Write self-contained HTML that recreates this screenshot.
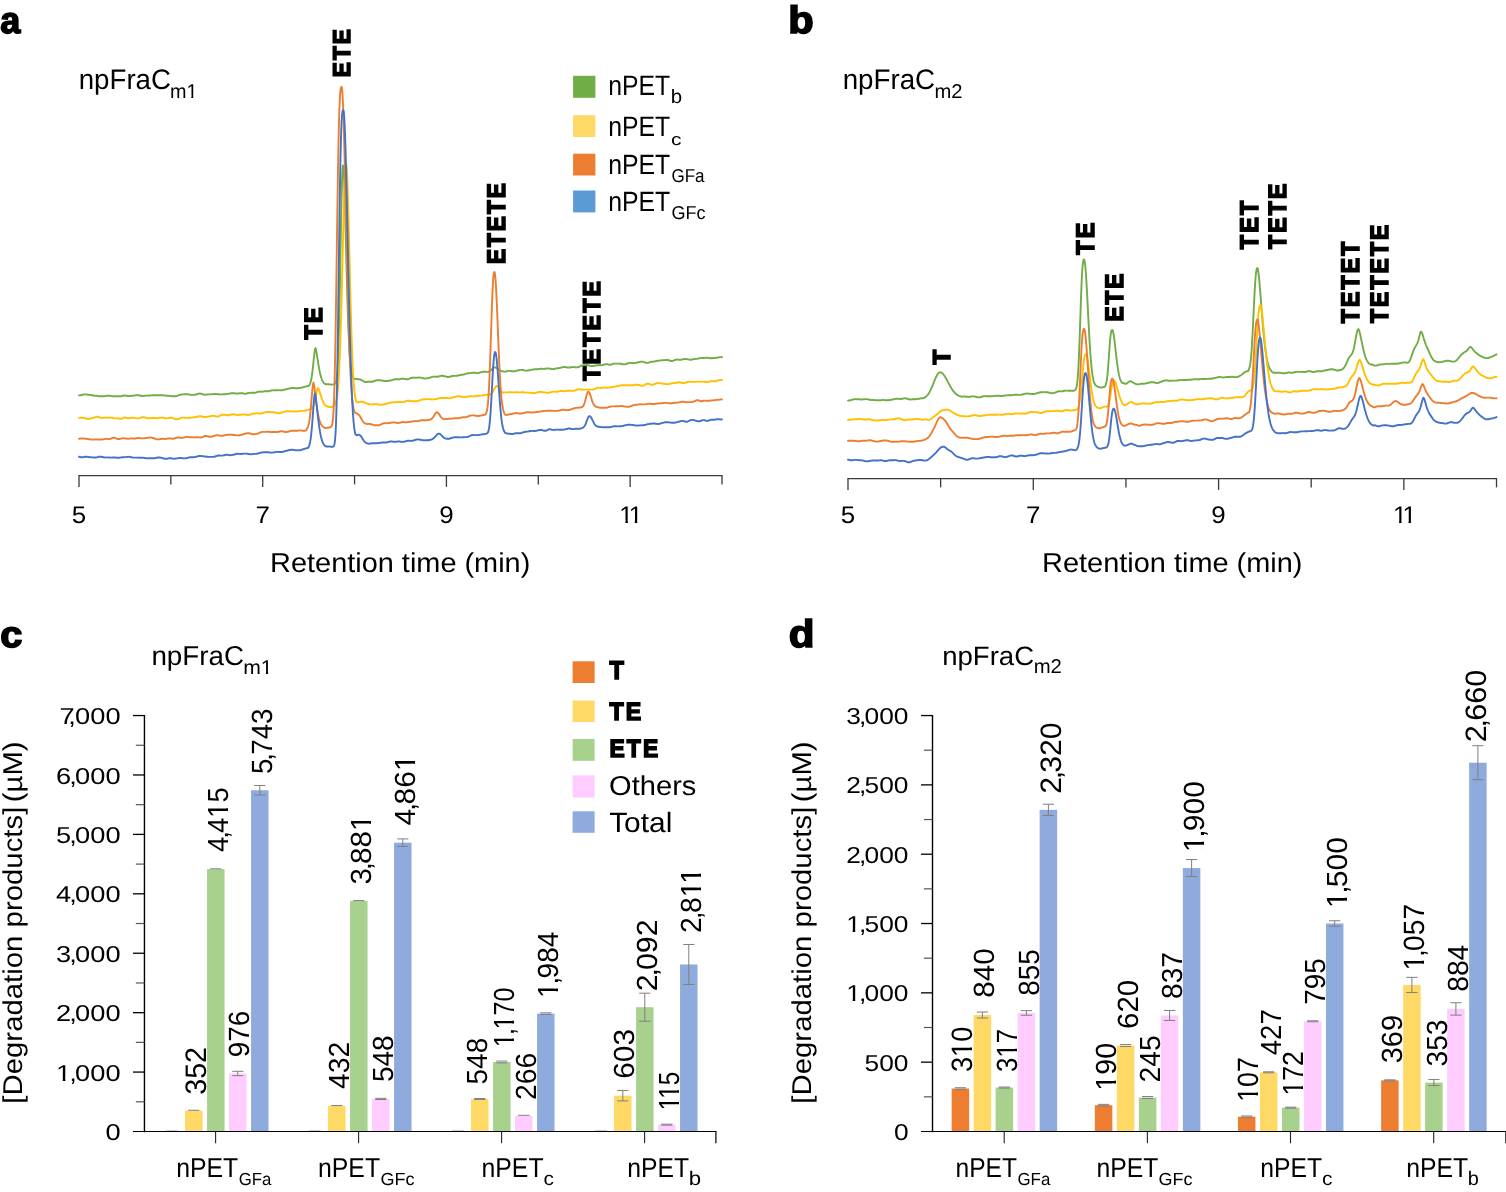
<!DOCTYPE html>
<html lang="en">
<head>
<meta charset="utf-8">
<title>Figure: nPET degradation products by npFraC nanopores</title>
<style>
html,body{margin:0;padding:0;background:#fff;}
body{width:1506px;height:1192px;overflow:hidden;}
svg{display:block;font-family:"Liberation Sans",Arial,Helvetica,sans-serif;}
svg text{white-space:pre;text-rendering:geometricPrecision;}
</style>
</head>
<body>
<svg width="1506" height="1192" viewBox="0 0 1506 1192">
<rect width="1506" height="1192" fill="#ffffff"/>
<text transform="translate(0.17 32.75) scale(1.0015 1.0325)" font-size="36.0" font-weight="bold" stroke="#000" stroke-width="1.5" fill="#000">a</text>
<text transform="translate(788.36 32.52) scale(1.1585 1.0587)" font-size="36.0" font-weight="bold" stroke="#000" stroke-width="1.5" fill="#000">b</text>
<text transform="translate(0.14 646.66) scale(1.1024 1.0231)" font-size="36.0" font-weight="bold" stroke="#000" stroke-width="1.5" fill="#000">c</text>
<text transform="translate(788.79 646.61) scale(1.1687 1.0694)" font-size="36.0" font-weight="bold" stroke="#000" stroke-width="1.5" fill="#000">d</text>
<text transform="translate(78.73 89.40) scale(0.9805 1)" font-size="28.22" fill="#000">npFraC</text>
<clipPath id="k1"><rect x="-3.00" y="-23.91" width="33.68" height="21.76"/><rect x="-0.40" y="-2.59" width="17.40" height="10.56"/><rect x="21.49" y="-2.59" width="1.99" height="3.19"/></clipPath>
<text transform="translate(169.96 97.60) scale(0.9941 1)" font-size="19.93" clip-path="url(#k1)" fill="#000">m1</text>
<text transform="translate(842.63 89.40) scale(0.9827 1)" font-size="28.22" fill="#000">npFraC</text>
<text transform="translate(934.43 97.60) scale(1.0155 1)" font-size="19.93" fill="#000">m2</text>
<text transform="translate(151.42 665.30) scale(1.0218 1)" font-size="27.20" fill="#000">npFraC</text>
<clipPath id="k2"><rect x="-3.00" y="-23.91" width="33.68" height="21.76"/><rect x="-0.40" y="-2.59" width="17.40" height="10.56"/><rect x="21.49" y="-2.59" width="1.99" height="3.19"/></clipPath>
<text transform="translate(243.17 673.50) scale(1.0622 1)" font-size="19.93" clip-path="url(#k2)" fill="#000">m1</text>
<text transform="translate(942.14 665.20) scale(1.0417 1)" font-size="26.47" fill="#000">npFraC</text>
<text transform="translate(1033.63 673.40) scale(1.0195 1)" font-size="19.93" fill="#000">m2</text>
<rect x="573.10" y="75.80" width="22.30" height="22.00" fill="#70AD47"/>
<text transform="translate(608.13 94.70) scale(0.8839 1)" font-size="28.07" fill="#000">nPET</text>
<text transform="translate(670.67 103.30) scale(1.0587 1)" font-size="19.31" fill="#000">b</text>
<rect x="573.10" y="115.20" width="22.30" height="21.80" fill="#FFD966"/>
<text transform="translate(608.13 136.20) scale(0.8839 1)" font-size="28.07" fill="#000">nPET</text>
<text transform="translate(670.91 144.80) scale(1.2500 1)" font-size="16.74" fill="#000">c</text>
<rect x="573.10" y="153.70" width="22.30" height="21.80" fill="#ED7D31"/>
<text transform="translate(608.13 173.60) scale(0.8885 1)" font-size="27.93" fill="#000">nPET</text>
<text transform="translate(671.45 181.60) scale(0.9139 1)" font-size="18.62" fill="#000">GFa</text>
<rect x="573.10" y="190.50" width="22.30" height="21.90" fill="#5B9BD5"/>
<text transform="translate(608.13 210.60) scale(0.8885 1)" font-size="27.93" fill="#000">nPET</text>
<text transform="translate(671.40 218.60) scale(0.9704 1)" font-size="18.62" fill="#000">GFc</text>
<rect x="572.60" y="661.30" width="22.00" height="21.70" fill="#ED7D31"/>
<rect x="572.60" y="700.50" width="22.00" height="21.50" fill="#FFD966"/>
<rect x="572.60" y="739.00" width="22.00" height="21.80" fill="#A9D18E"/>
<rect x="572.60" y="775.30" width="22.00" height="22.20" fill="#FFCCFF"/>
<rect x="572.60" y="811.30" width="22.00" height="21.50" fill="#8FAADC"/>
<text transform="translate(609.44 678.50) scale(0.9148 1)" font-size="25.75" font-weight="bold" stroke="#000" stroke-width="1.6" stroke-linejoin="miter" letter-spacing="2.3" fill="#000">T</text>
<text transform="translate(609.46 720.20) scale(0.9311 1)" font-size="24.87" font-weight="bold" stroke="#000" stroke-width="1.6" stroke-linejoin="miter" letter-spacing="2.3" fill="#000">TE</text>
<text transform="translate(609.49 757.00) scale(0.9143 1)" font-size="25.02" font-weight="bold" stroke="#000" stroke-width="1.6" stroke-linejoin="miter" letter-spacing="2.3" fill="#000">ETE</text>
<text transform="translate(609.12 794.80) scale(1.0629 1)" font-size="27.35" fill="#000">Others</text>
<text transform="translate(609.13 831.50) scale(1.0711 1)" font-size="27.93" fill="#000">Total</text>
<line x1="78.50" y1="475.60" x2="722.50" y2="475.60" stroke="#3a3a3a" stroke-width="1.2"/>
<line x1="79.00" y1="475.60" x2="79.00" y2="486.90" stroke="#3a3a3a" stroke-width="1.3"/>
<line x1="170.86" y1="475.60" x2="170.86" y2="484.40" stroke="#3a3a3a" stroke-width="1.3"/>
<line x1="262.71" y1="475.60" x2="262.71" y2="486.90" stroke="#3a3a3a" stroke-width="1.3"/>
<line x1="354.57" y1="475.60" x2="354.57" y2="484.40" stroke="#3a3a3a" stroke-width="1.3"/>
<line x1="446.43" y1="475.60" x2="446.43" y2="486.90" stroke="#3a3a3a" stroke-width="1.3"/>
<line x1="538.29" y1="475.60" x2="538.29" y2="484.40" stroke="#3a3a3a" stroke-width="1.3"/>
<line x1="630.14" y1="475.60" x2="630.14" y2="486.90" stroke="#3a3a3a" stroke-width="1.3"/>
<line x1="722.00" y1="475.60" x2="722.00" y2="484.40" stroke="#3a3a3a" stroke-width="1.3"/>
<text transform="translate(71.81 523.00) scale(1.0800 1)" font-size="24.00" fill="#000">5</text>
<text transform="translate(255.49 523.00) scale(1.0800 1)" font-size="24.00" fill="#000">7</text>
<text transform="translate(439.20 523.00) scale(1.0800 1)" font-size="24.00" fill="#000">9</text>
<clipPath id="k3"><rect x="-3.00" y="-28.80" width="25.91" height="26.21"/><rect x="5.89" y="-3.12" width="2.40" height="3.84"/><rect x="14.96" y="-3.12" width="2.40" height="3.84"/></clipPath>
<text transform="translate(619.28 523.00) scale(1.0355 1)" font-size="24.00" letter-spacing="-2.5" clip-path="url(#k3)" fill="#000">11</text>
<text transform="translate(270.12 571.80) scale(1.0569 1)" font-size="27.35" fill="#000">Retention time (min)</text>
<line x1="847.50" y1="478.60" x2="1497.00" y2="478.60" stroke="#3a3a3a" stroke-width="1.2"/>
<line x1="848.00" y1="478.60" x2="848.00" y2="489.90" stroke="#3a3a3a" stroke-width="1.3"/>
<line x1="940.64" y1="478.60" x2="940.64" y2="487.40" stroke="#3a3a3a" stroke-width="1.3"/>
<line x1="1033.29" y1="478.60" x2="1033.29" y2="489.90" stroke="#3a3a3a" stroke-width="1.3"/>
<line x1="1125.93" y1="478.60" x2="1125.93" y2="487.40" stroke="#3a3a3a" stroke-width="1.3"/>
<line x1="1218.57" y1="478.60" x2="1218.57" y2="489.90" stroke="#3a3a3a" stroke-width="1.3"/>
<line x1="1311.21" y1="478.60" x2="1311.21" y2="487.40" stroke="#3a3a3a" stroke-width="1.3"/>
<line x1="1403.86" y1="478.60" x2="1403.86" y2="489.90" stroke="#3a3a3a" stroke-width="1.3"/>
<line x1="1496.50" y1="478.60" x2="1496.50" y2="487.40" stroke="#3a3a3a" stroke-width="1.3"/>
<text transform="translate(840.81 523.00) scale(1.0800 1)" font-size="24.00" fill="#000">5</text>
<text transform="translate(1026.06 523.00) scale(1.0800 1)" font-size="24.00" fill="#000">7</text>
<text transform="translate(1211.35 523.00) scale(1.0800 1)" font-size="24.00" fill="#000">9</text>
<clipPath id="k4"><rect x="-3.00" y="-28.80" width="25.91" height="26.21"/><rect x="5.89" y="-3.12" width="2.40" height="3.84"/><rect x="14.96" y="-3.12" width="2.40" height="3.84"/></clipPath>
<text transform="translate(1392.99 523.00) scale(1.0355 1)" font-size="24.00" letter-spacing="-2.5" clip-path="url(#k4)" fill="#000">11</text>
<text transform="translate(1042.11 571.80) scale(1.0577 1)" font-size="27.35" fill="#000">Retention time (min)</text>
<text transform="translate(322.20 339.54) rotate(-90) scale(0.9407 1)" font-size="25.02" font-weight="bold" stroke="#000" stroke-width="1.6" stroke-linejoin="miter" letter-spacing="2.3" fill="#000">TE</text>
<text transform="translate(350.20 77.28) rotate(-90) scale(0.9285 1)" font-size="24.29" font-weight="bold" stroke="#000" stroke-width="1.6" stroke-linejoin="miter" letter-spacing="2.3" fill="#000">ETE</text>
<text transform="translate(505.20 264.12) rotate(-90) scale(0.8880 1)" font-size="25.45" font-weight="bold" stroke="#000" stroke-width="1.6" stroke-linejoin="miter" letter-spacing="2.3" fill="#000">ETETE</text>
<text transform="translate(600.40 380.83) rotate(-90) scale(0.9554 1)" font-size="24.29" font-weight="bold" stroke="#000" stroke-width="1.6" stroke-linejoin="miter" letter-spacing="2.3" fill="#000">TETETE</text>
<text transform="translate(950.00 364.51) rotate(-90) scale(0.9839 1)" font-size="24.44" font-weight="bold" stroke="#000" stroke-width="1.6" stroke-linejoin="miter" letter-spacing="2.3" fill="#000">T</text>
<text transform="translate(1093.90 254.76) rotate(-90) scale(0.9207 1)" font-size="25.45" font-weight="bold" stroke="#000" stroke-width="1.6" stroke-linejoin="miter" letter-spacing="2.3" fill="#000">TE</text>
<text transform="translate(1123.00 321.61) rotate(-90) scale(0.8917 1)" font-size="25.31" font-weight="bold" stroke="#000" stroke-width="1.6" stroke-linejoin="miter" letter-spacing="2.3" fill="#000">ETE</text>
<text transform="translate(1257.70 249.26) rotate(-90) scale(0.9158 1)" font-size="25.60" font-weight="bold" stroke="#000" stroke-width="1.6" stroke-linejoin="miter" letter-spacing="2.3" fill="#000">TET</text>
<text transform="translate(1286.00 248.95) rotate(-90) scale(0.9211 1)" font-size="25.02" font-weight="bold" stroke="#000" stroke-width="1.6" stroke-linejoin="miter" letter-spacing="2.3" fill="#000">TETE</text>
<text transform="translate(1359.20 323.16) rotate(-90) scale(0.9076 1)" font-size="25.45" font-weight="bold" stroke="#000" stroke-width="1.6" stroke-linejoin="miter" letter-spacing="2.3" fill="#000">TETET</text>
<text transform="translate(1388.00 322.96) rotate(-90) scale(0.9097 1)" font-size="25.16" font-weight="bold" stroke="#000" stroke-width="1.6" stroke-linejoin="miter" letter-spacing="2.3" fill="#000">TETETE</text>
<path d="M79.0,395.4 79.5,395.4 80.0,395.4 80.5,395.3 81.0,395.2 81.5,395.1 82.0,394.9 82.5,394.8 83.0,394.6 83.5,394.5 84.0,394.4 84.5,394.4 85.0,394.4 85.5,394.4 86.0,394.4 86.5,394.5 87.0,394.5 87.5,394.6 88.0,394.7 88.5,394.7 89.0,394.8 89.5,394.9 90.0,394.9 90.5,395.0 91.0,395.1 91.5,395.2 92.0,395.3 92.5,395.4 93.0,395.5 93.5,395.5 94.0,395.6 94.5,395.7 95.0,395.7 95.5,395.7 96.0,395.8 96.5,395.8 97.0,395.9 97.5,396.0 98.0,396.0 98.5,396.1 99.0,396.2 99.5,396.2 100.0,396.3 100.5,396.3 101.0,396.3 101.5,396.3 102.0,396.3 102.5,396.3 103.0,396.3 103.5,396.2 104.0,396.2 104.5,396.1 105.0,396.1 105.5,396.0 106.0,395.9 106.5,395.9 107.0,395.8 107.5,395.8 108.0,395.8 108.5,395.7 109.0,395.8 109.5,395.8 110.0,395.8 110.5,395.9 111.0,395.9 111.5,396.0 112.0,396.1 112.5,396.2 113.0,396.2 113.5,396.3 114.0,396.3 114.5,396.2 115.0,396.2 115.5,396.2 116.0,396.2 116.5,396.1 117.0,396.1 117.5,396.2 118.0,396.2 118.5,396.3 119.0,396.3 119.5,396.4 120.0,396.4 120.5,396.3 121.0,396.3 121.5,396.1 122.0,396.0 122.5,395.9 123.0,395.7 123.5,395.6 124.0,395.5 124.5,395.5 125.0,395.5 125.5,395.6 126.0,395.7 126.5,395.8 127.0,395.9 127.5,396.0 128.0,396.0 128.5,396.1 129.0,396.1 129.5,396.0 130.0,396.0 130.5,396.0 131.0,395.9 131.5,395.9 132.0,395.8 132.5,395.8 133.0,395.7 133.5,395.7 134.0,395.6 134.5,395.5 135.0,395.4 135.5,395.4 136.0,395.2 136.5,395.2 137.0,395.1 137.5,395.1 138.0,395.2 138.5,395.2 139.0,395.3 139.5,395.5 140.0,395.6 140.5,395.7 141.0,395.8 141.5,395.9 142.0,396.0 142.5,396.0 143.0,395.9 143.5,395.9 144.0,395.8 144.5,395.7 145.0,395.7 145.5,395.6 146.0,395.6 146.5,395.6 147.0,395.5 147.5,395.6 148.0,395.6 148.5,395.6 149.0,395.6 149.5,395.5 150.0,395.5 150.5,395.5 151.0,395.4 151.5,395.4 152.0,395.4 152.5,395.3 153.0,395.3 153.5,395.3 154.0,395.3 154.5,395.3 155.0,395.4 155.5,395.4 156.0,395.3 156.5,395.3 157.0,395.3 157.5,395.3 158.0,395.3 158.5,395.2 159.0,395.2 159.5,395.2 160.0,395.2 160.5,395.2 161.0,395.3 161.5,395.3 162.0,395.3 162.5,395.3 163.0,395.3 163.5,395.4 164.0,395.4 164.5,395.5 165.0,395.5 165.5,395.6 166.0,395.6 166.5,395.7 167.0,395.8 167.5,395.8 168.0,395.8 168.5,395.8 169.0,395.9 169.5,395.9 170.0,395.9 170.5,396.0 171.0,396.0 171.5,396.1 172.0,396.1 172.5,396.2 173.0,396.2 173.5,396.3 174.0,396.3 174.5,396.3 175.0,396.2 175.5,396.2 176.0,396.1 176.5,396.1 177.0,395.9 177.5,395.7 178.0,395.5 178.5,395.4 179.0,395.2 179.5,395.0 180.0,394.9 180.5,394.7 181.0,394.6 181.5,394.5 182.0,394.4 182.5,394.4 183.0,394.4 183.5,394.4 184.0,394.3 184.5,394.3 185.0,394.3 185.5,394.3 186.0,394.3 186.5,394.3 187.0,394.3 187.5,394.3 188.0,394.4 188.5,394.4 189.0,394.5 189.5,394.6 190.0,394.7 190.5,394.8 191.0,394.8 191.5,394.9 192.0,394.9 192.5,394.9 193.0,394.9 193.5,394.9 194.0,394.8 194.5,394.8 195.0,394.7 195.5,394.6 196.0,394.5 196.5,394.3 197.0,394.2 197.5,394.0 198.0,393.9 198.5,393.7 199.0,393.6 199.5,393.6 200.0,393.5 200.5,393.6 201.0,393.7 201.5,393.9 202.0,394.1 202.5,394.2 203.0,394.4 203.5,394.5 204.0,394.6 204.5,394.7 205.0,394.7 205.5,394.6 206.0,394.6 206.5,394.5 207.0,394.5 207.5,394.4 208.0,394.4 208.5,394.4 209.0,394.4 209.5,394.3 210.0,394.4 210.5,394.4 211.0,394.4 211.5,394.4 212.0,394.3 212.5,394.2 213.0,394.1 213.5,394.1 214.0,394.0 214.5,394.0 215.0,394.0 215.5,394.0 216.0,394.0 216.5,394.1 217.0,394.2 217.5,394.2 218.0,394.3 218.5,394.3 219.0,394.3 219.5,394.4 220.0,394.4 220.5,394.4 221.0,394.4 221.5,394.4 222.0,394.4 222.5,394.4 223.0,394.3 223.5,394.3 224.0,394.3 224.5,394.3 225.0,394.2 225.5,394.2 226.0,394.1 226.5,394.1 227.0,394.0 227.5,393.9 228.0,393.9 228.5,393.8 229.0,393.7 229.5,393.6 230.0,393.5 230.5,393.4 231.0,393.3 231.5,393.3 232.0,393.2 232.5,393.2 233.0,393.2 233.5,393.3 234.0,393.3 234.5,393.3 235.0,393.4 235.5,393.5 236.0,393.5 236.5,393.5 237.0,393.5 237.5,393.6 238.0,393.5 238.5,393.5 239.0,393.4 239.5,393.3 240.0,393.3 240.5,393.2 241.0,393.2 241.5,393.2 242.0,393.2 242.5,393.3 243.0,393.4 243.5,393.5 244.0,393.6 244.5,393.7 245.0,393.7 245.5,393.7 246.0,393.6 246.5,393.5 247.0,393.4 247.5,393.3 248.0,393.2 248.5,393.1 249.0,393.0 249.5,392.9 250.0,392.9 250.5,392.8 251.0,392.8 251.5,392.8 252.0,392.8 252.5,392.9 253.0,392.8 253.5,392.8 254.0,392.8 254.5,392.8 255.0,392.7 255.5,392.6 256.0,392.5 256.5,392.3 257.0,392.1 257.5,391.9 258.0,391.8 258.5,391.7 259.0,391.7 259.5,391.6 260.0,391.6 260.5,391.6 261.0,391.7 261.5,391.7 262.0,391.7 262.5,391.6 263.0,391.6 263.5,391.5 264.0,391.4 264.5,391.3 265.0,391.3 265.5,391.3 266.0,391.3 266.5,391.3 267.0,391.3 267.5,391.3 268.0,391.3 268.5,391.2 269.0,391.1 269.5,390.9 270.0,390.8 270.5,390.6 271.0,390.5 271.5,390.5 272.0,390.4 272.5,390.4 273.0,390.4 273.5,390.3 274.0,390.3 274.5,390.3 275.0,390.3 275.5,390.3 276.0,390.3 276.5,390.2 277.0,390.2 277.5,390.2 278.0,390.1 278.5,390.1 279.0,390.2 279.5,390.2 280.0,390.2 280.5,390.2 281.0,390.2 281.5,390.2 282.0,390.2 282.5,390.2 283.0,390.0 283.5,389.9 284.0,389.8 284.5,389.7 285.0,389.5 285.5,389.4 286.0,389.3 286.5,389.2 287.0,389.1 287.5,388.9 288.0,388.8 288.5,388.7 289.0,388.6 289.5,388.5 290.0,388.4 290.5,388.3 291.0,388.1 291.5,388.1 292.0,388.0 292.5,388.0 293.0,388.0 293.5,388.0 294.0,388.0 294.5,388.1 295.0,388.1 295.5,388.2 296.0,388.2 296.5,388.2 297.0,388.2 297.5,388.2 298.0,388.2 298.5,388.1 299.0,388.1 299.5,388.0 300.0,388.0 300.5,387.8 301.0,387.8 301.5,387.6 302.0,387.5 302.5,387.4 303.0,387.3 303.5,387.2 304.0,387.0 304.5,386.9 305.0,386.7 305.5,386.6 306.0,386.5 306.5,386.4 307.0,386.2 307.5,386.0 308.0,385.8 308.5,386.2 309.0,385.7 309.5,385.0 310.0,383.9 310.5,382.5 311.0,380.5 311.5,378.0 312.0,374.8 312.5,370.9 313.0,366.5 313.5,361.7 314.0,356.9 314.5,352.5 315.0,349.2 315.5,348.1 316.0,349.8 316.5,352.5 317.0,355.5 317.5,358.7 318.0,361.9 318.5,365.0 319.0,367.9 319.5,370.6 320.0,373.0 320.5,375.1 321.0,376.9 321.5,378.5 322.0,379.8 322.5,380.9 323.0,381.8 323.5,382.6 324.0,383.1 324.5,383.6 325.0,384.0 325.5,384.2 326.0,384.4 326.5,384.1 327.0,384.2 327.5,384.3 328.0,384.3 328.5,384.3 329.0,384.3 329.5,384.4 330.0,384.4 330.5,384.5 331.0,384.5 331.5,384.6 332.0,384.6 332.5,384.6 333.0,384.6 333.5,384.4 334.0,384.3 334.5,384.0 335.0,383.6 335.5,382.9 336.0,381.6 336.5,379.4 337.0,375.9 337.5,369.8 338.0,360.3 338.5,346.8 339.0,328.8 339.5,306.2 340.0,280.1 340.5,252.1 341.0,224.6 341.5,200.3 342.0,181.4 342.5,169.7 343.0,165.4 343.5,168.1 344.0,177.3 344.5,191.0 345.0,208.0 345.5,226.9 346.0,246.6 346.5,266.2 347.0,284.9 347.5,302.1 348.0,317.5 348.5,330.8 349.0,342.1 349.5,351.4 350.0,358.9 350.5,364.8 351.0,369.3 351.5,372.6 352.0,375.0 352.5,376.6 353.0,377.7 353.5,378.3 354.0,378.7 354.5,379.0 355.0,379.0 355.5,379.1 356.0,379.0 356.5,379.0 357.0,379.1 357.5,379.1 358.0,379.1 358.5,379.2 359.0,379.3 359.5,379.4 360.0,379.5 360.5,379.7 361.0,379.9 361.5,380.1 362.0,380.5 362.5,380.7 363.0,381.0 363.5,381.3 364.0,381.5 364.5,381.8 365.0,381.9 365.5,382.0 366.0,382.1 366.5,382.0 367.0,382.0 367.5,381.9 368.0,381.8 368.5,381.8 369.0,381.8 369.5,381.8 370.0,381.8 370.5,381.8 371.0,381.8 371.5,381.8 372.0,381.7 372.5,381.7 373.0,381.5 373.5,381.4 374.0,381.2 374.5,381.0 375.0,380.8 375.5,380.7 376.0,380.5 376.5,380.4 377.0,380.3 377.5,380.2 378.0,380.2 378.5,380.1 379.0,380.2 379.5,380.2 380.0,380.2 380.5,380.3 381.0,380.4 381.5,380.5 382.0,380.5 382.5,380.6 383.0,380.7 383.5,380.8 384.0,380.9 384.5,381.0 385.0,381.0 385.5,381.1 386.0,381.0 386.5,381.0 387.0,381.0 387.5,381.0 388.0,380.9 388.5,380.8 389.0,380.7 389.5,380.6 390.0,380.6 390.5,380.5 391.0,380.3 391.5,380.2 392.0,380.1 392.5,379.9 393.0,379.7 393.5,379.6 394.0,379.5 394.5,379.3 395.0,379.3 395.5,379.2 396.0,379.2 396.5,379.2 397.0,379.2 397.5,379.3 398.0,379.3 398.5,379.2 399.0,379.2 399.5,379.2 400.0,379.1 400.5,379.0 401.0,378.9 401.5,378.8 402.0,378.7 402.5,378.7 403.0,378.7 403.5,378.7 404.0,378.8 404.5,378.9 405.0,379.0 405.5,379.1 406.0,379.2 406.5,379.3 407.0,379.3 407.5,379.3 408.0,379.2 408.5,379.1 409.0,378.9 409.5,378.6 410.0,378.4 410.5,378.2 411.0,378.0 411.5,377.8 412.0,377.7 412.5,377.6 413.0,377.6 413.5,377.6 414.0,377.7 414.5,377.7 415.0,377.8 415.5,377.8 416.0,377.8 416.5,377.8 417.0,377.7 417.5,377.6 418.0,377.6 418.5,377.6 419.0,377.5 419.5,377.5 420.0,377.6 420.5,377.6 421.0,377.7 421.5,377.8 422.0,378.0 422.5,378.1 423.0,378.2 423.5,378.3 424.0,378.4 424.5,378.4 425.0,378.5 425.5,378.5 426.0,378.4 426.5,378.4 427.0,378.3 427.5,378.3 428.0,378.2 428.5,378.1 429.0,377.9 429.5,377.8 430.0,377.6 430.5,377.5 431.0,377.3 431.5,377.1 432.0,376.9 432.5,376.8 433.0,376.7 433.5,376.6 434.0,376.6 434.5,376.6 435.0,376.6 435.5,376.7 436.0,376.7 436.5,376.7 437.0,376.8 437.5,376.7 438.0,376.7 438.5,376.5 439.0,376.4 439.5,376.2 440.0,376.1 440.5,376.0 441.0,375.9 441.5,375.8 442.0,375.8 442.5,375.8 443.0,375.9 443.5,376.0 444.0,376.1 444.5,376.2 445.0,376.3 445.5,376.4 446.0,376.6 446.5,376.8 447.0,376.9 447.5,377.0 448.0,377.0 448.5,377.0 449.0,376.9 449.5,376.8 450.0,376.7 450.5,376.5 451.0,376.3 451.5,376.2 452.0,376.1 452.5,376.0 453.0,376.0 453.5,376.0 454.0,375.9 454.5,375.9 455.0,375.9 455.5,375.9 456.0,375.8 456.5,375.8 457.0,375.8 457.5,375.7 458.0,375.6 458.5,375.4 459.0,375.3 459.5,375.2 460.0,375.1 460.5,375.0 461.0,374.9 461.5,374.8 462.0,374.7 462.5,374.7 463.0,374.6 463.5,374.5 464.0,374.4 464.5,374.3 465.0,374.1 465.5,373.9 466.0,373.8 466.5,373.6 467.0,373.5 467.5,373.4 468.0,373.3 468.5,373.3 469.0,373.3 469.5,373.2 470.0,373.2 470.5,373.1 471.0,373.0 471.5,372.9 472.0,372.9 472.5,372.8 473.0,372.7 473.5,372.7 474.0,372.7 474.5,372.8 475.0,372.8 475.5,372.9 476.0,373.0 476.5,373.1 477.0,373.1 477.5,373.1 478.0,373.0 478.5,373.0 479.0,372.9 479.5,372.7 480.0,372.5 480.5,372.4 481.0,372.2 481.5,372.1 482.0,372.0 482.5,371.9 483.0,371.8 483.5,371.7 484.0,371.7 484.5,371.7 485.0,371.7 485.5,371.8 486.0,371.8 486.5,371.9 487.0,371.9 487.5,371.9 488.0,371.9 488.5,371.8 489.0,371.6 489.5,371.4 490.0,371.1 490.5,370.6 491.0,370.2 491.5,369.7 492.0,369.2 492.5,368.7 493.0,368.2 493.5,367.8 494.0,367.6 494.5,367.4 495.0,367.4 495.5,367.5 496.0,367.7 496.5,368.0 497.0,368.3 497.5,368.7 498.0,369.1 498.5,369.5 499.0,369.9 499.5,370.2 500.0,370.4 500.5,370.6 501.0,370.8 501.5,371.0 502.0,371.2 502.5,371.3 503.0,371.4 503.5,371.5 504.0,371.6 504.5,371.6 505.0,371.6 505.5,371.6 506.0,371.5 506.5,371.4 507.0,371.3 507.5,371.1 508.0,371.0 508.5,370.9 509.0,370.9 509.5,370.9 510.0,370.9 510.5,371.0 511.0,371.1 511.5,371.2 512.0,371.3 512.5,371.3 513.0,371.4 513.5,371.4 514.0,371.3 514.5,371.3 515.0,371.2 515.5,371.1 516.0,370.9 516.5,370.8 517.0,370.7 517.5,370.5 518.0,370.4 518.5,370.3 519.0,370.2 519.5,370.1 520.0,370.0 520.5,369.9 521.0,369.9 521.5,369.9 522.0,369.9 522.5,370.0 523.0,370.0 523.5,370.2 524.0,370.3 524.5,370.4 525.0,370.5 525.5,370.6 526.0,370.6 526.5,370.7 527.0,370.6 527.5,370.5 528.0,370.5 528.5,370.4 529.0,370.3 529.5,370.2 530.0,370.1 530.5,369.9 531.0,369.9 531.5,369.8 532.0,369.7 532.5,369.6 533.0,369.5 533.5,369.4 534.0,369.4 534.5,369.3 535.0,369.3 535.5,369.3 536.0,369.3 536.5,369.2 537.0,369.2 537.5,369.2 538.0,369.1 538.5,369.0 539.0,369.0 539.5,368.9 540.0,368.9 540.5,368.8 541.0,368.8 541.5,368.8 542.0,368.8 542.5,368.9 543.0,368.9 543.5,368.9 544.0,368.9 544.5,368.8 545.0,368.8 545.5,368.8 546.0,368.6 546.5,368.6 547.0,368.5 547.5,368.5 548.0,368.4 548.5,368.4 549.0,368.5 549.5,368.6 550.0,368.7 550.5,368.8 551.0,368.9 551.5,369.1 552.0,369.1 552.5,369.1 553.0,369.1 553.5,369.0 554.0,369.0 554.5,368.9 555.0,368.7 555.5,368.6 556.0,368.5 556.5,368.4 557.0,368.3 557.5,368.3 558.0,368.2 558.5,368.2 559.0,368.1 559.5,368.0 560.0,367.8 560.5,367.8 561.0,367.6 561.5,367.5 562.0,367.3 562.5,367.2 563.0,367.1 563.5,367.1 564.0,367.0 564.5,367.0 565.0,367.0 565.5,367.1 566.0,367.2 566.5,367.3 567.0,367.4 567.5,367.5 568.0,367.6 568.5,367.5 569.0,367.6 569.5,367.5 570.0,367.5 570.5,367.3 571.0,367.2 571.5,367.2 572.0,367.1 572.5,367.1 573.0,367.0 573.5,367.1 574.0,367.1 574.5,367.2 575.0,367.3 575.5,367.3 576.0,367.4 576.5,367.4 577.0,367.4 577.5,367.3 578.0,367.2 578.5,367.0 579.0,366.8 579.5,366.6 580.0,366.3 580.5,366.1 581.0,365.9 581.5,365.7 582.0,365.5 582.5,365.4 583.0,365.3 583.5,365.2 584.0,365.1 584.5,365.1 585.0,365.0 585.5,365.0 586.0,365.0 586.5,365.0 587.0,365.0 587.5,365.1 588.0,365.2 588.5,365.4 589.0,365.5 589.5,365.6 590.0,365.8 590.5,365.9 591.0,366.0 591.5,366.0 592.0,366.1 592.5,366.0 593.0,366.0 593.5,365.9 594.0,365.9 594.5,365.8 595.0,365.7 595.5,365.6 596.0,365.5 596.5,365.4 597.0,365.3 597.5,365.3 598.0,365.2 598.5,365.2 599.0,365.2 599.5,365.2 600.0,365.2 600.5,365.2 601.0,365.2 601.5,365.2 602.0,365.1 602.5,365.0 603.0,364.9 603.5,364.8 604.0,364.7 604.5,364.5 605.0,364.4 605.5,364.3 606.0,364.2 606.5,364.2 607.0,364.2 607.5,364.3 608.0,364.4 608.5,364.5 609.0,364.6 609.5,364.7 610.0,364.7 610.5,364.7 611.0,364.6 611.5,364.4 612.0,364.3 612.5,364.1 613.0,363.9 613.5,363.8 614.0,363.7 614.5,363.6 615.0,363.6 615.5,363.6 616.0,363.6 616.5,363.6 617.0,363.6 617.5,363.6 618.0,363.6 618.5,363.6 619.0,363.6 619.5,363.6 620.0,363.7 620.5,363.7 621.0,363.8 621.5,363.9 622.0,364.0 622.5,364.2 623.0,364.3 623.5,364.4 624.0,364.4 624.5,364.4 625.0,364.4 625.5,364.3 626.0,364.1 626.5,363.9 627.0,363.7 627.5,363.5 628.0,363.3 628.5,363.1 629.0,363.1 629.5,363.0 630.0,362.9 630.5,362.9 631.0,362.9 631.5,362.9 632.0,363.0 632.5,363.0 633.0,363.1 633.5,363.1 634.0,363.1 634.5,363.1 635.0,363.0 635.5,363.0 636.0,362.9 636.5,362.8 637.0,362.7 637.5,362.5 638.0,362.4 638.5,362.2 639.0,362.1 639.5,362.0 640.0,361.9 640.5,361.7 641.0,361.7 641.5,361.6 642.0,361.6 642.5,361.7 643.0,361.8 643.5,361.9 644.0,362.1 644.5,362.3 645.0,362.5 645.5,362.7 646.0,362.8 646.5,362.9 647.0,362.9 647.5,362.9 648.0,362.8 648.5,362.6 649.0,362.5 649.5,362.3 650.0,362.1 650.5,361.9 651.0,361.8 651.5,361.8 652.0,361.7 652.5,361.7 653.0,361.7 653.5,361.6 654.0,361.6 654.5,361.5 655.0,361.4 655.5,361.2 656.0,361.1 656.5,361.0 657.0,360.9 657.5,360.8 658.0,360.7 658.5,360.6 659.0,360.6 659.5,360.6 660.0,360.5 660.5,360.5 661.0,360.4 661.5,360.3 662.0,360.3 662.5,360.2 663.0,360.2 663.5,360.2 664.0,360.1 664.5,360.1 665.0,360.1 665.5,360.0 666.0,360.0 666.5,360.0 667.0,360.0 667.5,360.0 668.0,360.1 668.5,360.2 669.0,360.4 669.5,360.5 670.0,360.7 670.5,360.8 671.0,360.9 671.5,361.0 672.0,361.0 672.5,360.9 673.0,360.8 673.5,360.6 674.0,360.4 674.5,360.2 675.0,360.0 675.5,359.8 676.0,359.7 676.5,359.6 677.0,359.5 677.5,359.5 678.0,359.6 678.5,359.7 679.0,359.7 679.5,359.8 680.0,359.8 680.5,359.7 681.0,359.7 681.5,359.6 682.0,359.5 682.5,359.4 683.0,359.2 683.5,359.1 684.0,359.1 684.5,359.0 685.0,359.0 685.5,359.0 686.0,359.0 686.5,359.1 687.0,359.1 687.5,359.2 688.0,359.4 688.5,359.5 689.0,359.6 689.5,359.6 690.0,359.7 690.5,359.7 691.0,359.7 691.5,359.7 692.0,359.5 692.5,359.4 693.0,359.3 693.5,359.2 694.0,359.1 694.5,359.0 695.0,359.0 695.5,358.9 696.0,358.9 696.5,358.9 697.0,358.8 697.5,358.7 698.0,358.6 698.5,358.5 699.0,358.3 699.5,358.2 700.0,358.1 700.5,358.0 701.0,357.9 701.5,357.9 702.0,357.9 702.5,358.0 703.0,358.0 703.5,357.9 704.0,358.0 704.5,357.9 705.0,357.9 705.5,357.9 706.0,357.8 706.5,357.8 707.0,357.8 707.5,357.9 708.0,357.9 708.5,358.0 709.0,358.0 709.5,358.1 710.0,358.2 710.5,358.3 711.0,358.3 711.5,358.3 712.0,358.2 712.5,358.2 713.0,358.1 713.5,358.1 714.0,358.0 714.5,358.0 715.0,358.0 715.5,357.9 716.0,357.9 716.5,357.8 717.0,357.8 717.5,357.7 718.0,357.5 718.5,357.4 719.0,357.3 719.5,357.2 720.0,357.1 720.5,357.1 721.0,357.1 721.5,357.2 722.0,357.2" fill="none" stroke="#70AD47" stroke-width="1.9" stroke-linejoin="round" stroke-linecap="round"/>
<path d="M79.0,417.9 79.5,417.9 80.0,417.8 80.5,417.8 81.0,417.8 81.5,417.8 82.0,417.8 82.5,417.9 83.0,418.0 83.5,418.0 84.0,418.2 84.5,418.3 85.0,418.4 85.5,418.5 86.0,418.6 86.5,418.7 87.0,418.7 87.5,418.8 88.0,418.8 88.5,418.8 89.0,418.8 89.5,418.8 90.0,418.7 90.5,418.5 91.0,418.4 91.5,418.3 92.0,418.3 92.5,418.1 93.0,417.9 93.5,417.8 94.0,417.6 94.5,417.5 95.0,417.3 95.5,417.1 96.0,416.9 96.5,416.9 97.0,416.8 97.5,416.8 98.0,416.8 98.5,416.9 99.0,417.1 99.5,417.3 100.0,417.5 100.5,417.6 101.0,417.8 101.5,417.9 102.0,417.9 102.5,417.9 103.0,417.9 103.5,417.8 104.0,417.8 104.5,417.7 105.0,417.6 105.5,417.6 106.0,417.6 106.5,417.6 107.0,417.6 107.5,417.7 108.0,417.6 108.5,417.6 109.0,417.6 109.5,417.7 110.0,417.6 110.5,417.6 111.0,417.6 111.5,417.6 112.0,417.7 112.5,417.8 113.0,418.0 113.5,418.1 114.0,418.2 114.5,418.3 115.0,418.4 115.5,418.4 116.0,418.4 116.5,418.4 117.0,418.4 117.5,418.3 118.0,418.3 118.5,418.5 119.0,418.5 119.5,418.6 120.0,418.7 120.5,418.7 121.0,418.7 121.5,418.6 122.0,418.5 122.5,418.3 123.0,418.1 123.5,417.9 124.0,417.7 124.5,417.5 125.0,417.5 125.5,417.6 126.0,417.7 126.5,417.8 127.0,418.0 127.5,418.1 128.0,418.2 128.5,418.2 129.0,418.3 129.5,418.2 130.0,418.1 130.5,418.0 131.0,417.9 131.5,417.8 132.0,417.7 132.5,417.7 133.0,417.8 133.5,417.8 134.0,417.9 134.5,417.9 135.0,418.0 135.5,418.1 136.0,418.2 136.5,418.4 137.0,418.4 137.5,418.4 138.0,418.4 138.5,418.4 139.0,418.3 139.5,418.1 140.0,418.0 140.5,417.8 141.0,417.6 141.5,417.4 142.0,417.3 142.5,417.2 143.0,417.2 143.5,417.2 144.0,417.2 144.5,417.3 145.0,417.5 145.5,417.6 146.0,417.8 146.5,417.9 147.0,418.0 147.5,418.2 148.0,418.3 148.5,418.3 149.0,418.3 149.5,418.3 150.0,418.3 150.5,418.2 151.0,418.2 151.5,418.1 152.0,418.0 152.5,418.0 153.0,418.0 153.5,418.0 154.0,418.0 154.5,418.0 155.0,418.1 155.5,418.1 156.0,418.2 156.5,418.1 157.0,418.2 157.5,418.1 158.0,418.1 158.5,418.0 159.0,417.9 159.5,417.8 160.0,417.7 160.5,417.7 161.0,417.6 161.5,417.6 162.0,417.6 162.5,417.6 163.0,417.7 163.5,417.8 164.0,417.9 164.5,418.0 165.0,418.2 165.5,418.3 166.0,418.4 166.5,418.4 167.0,418.4 167.5,418.4 168.0,418.3 168.5,418.2 169.0,418.0 169.5,417.9 170.0,417.8 170.5,417.7 171.0,417.7 171.5,417.8 172.0,417.8 172.5,418.0 173.0,418.2 173.5,418.4 174.0,418.6 174.5,418.8 175.0,419.0 175.5,419.1 176.0,419.2 176.5,419.2 177.0,419.2 177.5,419.2 178.0,419.1 178.5,419.0 179.0,418.8 179.5,418.6 180.0,418.4 180.5,418.2 181.0,418.0 181.5,417.9 182.0,417.7 182.5,417.6 183.0,417.6 183.5,417.6 184.0,417.6 184.5,417.7 185.0,417.7 185.5,417.8 186.0,417.9 186.5,417.9 187.0,417.9 187.5,417.9 188.0,417.8 188.5,417.8 189.0,417.7 189.5,417.7 190.0,417.7 190.5,417.7 191.0,417.6 191.5,417.6 192.0,417.6 192.5,417.5 193.0,417.5 193.5,417.4 194.0,417.3 194.5,417.3 195.0,417.2 195.5,417.1 196.0,417.0 196.5,416.9 197.0,416.7 197.5,416.7 198.0,416.5 198.5,416.4 199.0,416.3 199.5,416.2 200.0,416.2 200.5,416.3 201.0,416.3 201.5,416.4 202.0,416.5 202.5,416.7 203.0,416.8 203.5,416.9 204.0,417.0 204.5,417.0 205.0,417.0 205.5,417.0 206.0,416.9 206.5,416.9 207.0,416.8 207.5,416.8 208.0,416.7 208.5,416.6 209.0,416.5 209.5,416.4 210.0,416.3 210.5,416.2 211.0,416.1 211.5,416.0 212.0,415.9 212.5,415.8 213.0,415.8 213.5,415.8 214.0,415.9 214.5,416.0 215.0,416.2 215.5,416.3 216.0,416.4 216.5,416.5 217.0,416.6 217.5,416.5 218.0,416.5 218.5,416.3 219.0,416.1 219.5,415.9 220.0,415.7 220.5,415.4 221.0,415.2 221.5,415.1 222.0,414.9 222.5,414.8 223.0,414.8 223.5,414.8 224.0,414.8 224.5,414.9 225.0,414.9 225.5,415.0 226.0,415.1 226.5,415.1 227.0,415.2 227.5,415.2 228.0,415.2 228.5,415.2 229.0,415.1 229.5,415.0 230.0,414.9 230.5,414.8 231.0,414.6 231.5,414.5 232.0,414.3 232.5,414.2 233.0,414.2 233.5,414.2 234.0,414.3 234.5,414.4 235.0,414.5 235.5,414.6 236.0,414.8 236.5,414.9 237.0,414.9 237.5,415.0 238.0,415.0 238.5,414.9 239.0,414.9 239.5,414.8 240.0,414.8 240.5,414.7 241.0,414.7 241.5,414.6 242.0,414.6 242.5,414.5 243.0,414.5 243.5,414.5 244.0,414.5 244.5,414.5 245.0,414.5 245.5,414.6 246.0,414.7 246.5,414.7 247.0,414.8 247.5,414.9 248.0,415.0 248.5,415.0 249.0,414.9 249.5,414.8 250.0,414.6 250.5,414.5 251.0,414.3 251.5,414.1 252.0,413.9 252.5,413.8 253.0,413.6 253.5,413.5 254.0,413.5 254.5,413.5 255.0,413.4 255.5,413.4 256.0,413.4 256.5,413.4 257.0,413.3 257.5,413.4 258.0,413.4 258.5,413.4 259.0,413.5 259.5,413.5 260.0,413.5 260.5,413.5 261.0,413.5 261.5,413.5 262.0,413.3 262.5,413.2 263.0,413.0 263.5,412.8 264.0,412.6 264.5,412.5 265.0,412.3 265.5,412.3 266.0,412.2 266.5,412.1 267.0,412.0 267.5,412.0 268.0,412.0 268.5,412.0 269.0,412.0 269.5,412.0 270.0,412.1 270.5,412.1 271.0,412.1 271.5,412.2 272.0,412.2 272.5,412.2 273.0,412.2 273.5,412.2 274.0,412.3 274.5,412.3 275.0,412.5 275.5,412.6 276.0,412.7 276.5,412.8 277.0,413.0 277.5,413.1 278.0,413.2 278.5,413.2 279.0,413.2 279.5,413.1 280.0,413.0 280.5,412.9 281.0,412.7 281.5,412.5 282.0,412.4 282.5,412.2 283.0,412.1 283.5,411.9 284.0,411.8 284.5,411.7 285.0,411.6 285.5,411.5 286.0,411.4 286.5,411.4 287.0,411.3 287.5,411.3 288.0,411.2 288.5,411.2 289.0,411.3 289.5,411.3 290.0,411.4 290.5,411.4 291.0,411.4 291.5,411.4 292.0,411.4 292.5,411.5 293.0,411.4 293.5,411.4 294.0,411.4 294.5,411.4 295.0,411.4 295.5,411.5 296.0,411.5 296.5,411.5 297.0,411.5 297.5,411.4 298.0,411.4 298.5,411.3 299.0,411.2 299.5,411.1 300.0,411.0 300.5,410.9 301.0,410.9 301.5,410.9 302.0,410.9 302.5,410.9 303.0,410.9 303.5,410.9 304.0,410.9 304.5,410.8 305.0,410.7 305.5,410.6 306.0,410.4 306.5,410.3 307.0,410.1 307.5,409.9 308.0,409.8 308.5,409.6 309.0,409.5 309.5,409.4 310.0,409.3 310.5,409.2 311.0,409.0 311.5,408.8 312.0,408.4 312.5,407.8 313.0,407.0 313.5,406.0 314.0,404.6 314.5,402.8 315.0,400.6 315.5,398.2 316.0,395.5 316.5,392.9 317.0,390.5 317.5,388.6 318.0,387.9 318.5,388.7 319.0,389.9 319.5,391.4 320.0,393.0 320.5,394.6 321.0,396.2 321.5,397.7 322.0,399.1 322.5,400.3 323.0,401.5 323.5,402.5 324.0,403.4 324.5,404.2 325.0,404.8 325.5,405.3 326.0,405.8 326.5,406.1 327.0,406.4 327.5,406.5 328.0,406.7 328.5,406.8 329.0,406.9 329.5,407.0 330.0,407.0 330.5,407.0 331.0,407.0 331.5,407.0 332.0,406.9 332.5,406.7 333.0,406.6 333.5,406.2 334.0,405.9 334.5,405.3 335.0,404.5 335.5,403.4 336.0,401.9 336.5,400.0 337.0,397.2 337.5,393.4 338.0,388.4 338.5,381.8 339.0,373.5 339.5,363.1 340.0,350.6 340.5,335.9 341.0,319.1 341.5,300.4 342.0,280.3 342.5,259.3 343.0,238.4 343.5,218.3 344.0,200.1 344.5,184.7 345.0,173.1 345.5,165.8 346.0,163.3 346.5,165.7 347.0,173.0 347.5,184.6 348.0,199.9 348.5,218.1 349.0,238.1 349.5,259.0 350.0,279.8 350.5,299.9 351.0,318.5 351.5,335.3 352.0,349.9 352.5,362.3 353.0,372.5 353.5,380.8 354.0,387.2 354.5,392.1 355.0,395.8 355.5,398.4 356.0,400.6 356.5,401.7 357.0,402.2 357.5,402.5 358.0,402.4 358.5,402.3 359.0,402.1 359.5,401.9 360.0,401.8 360.5,401.7 361.0,401.7 361.5,401.8 362.0,401.8 362.5,401.9 363.0,402.1 363.5,402.2 364.0,402.3 364.5,402.5 365.0,402.7 365.5,402.9 366.0,403.1 366.5,403.3 367.0,403.4 367.5,403.7 368.0,403.8 368.5,404.0 369.0,404.2 369.5,404.3 370.0,404.4 370.5,404.4 371.0,404.4 371.5,404.4 372.0,404.4 372.5,404.4 373.0,404.3 373.5,404.3 374.0,404.2 374.5,404.1 375.0,404.1 375.5,404.1 376.0,404.1 376.5,404.1 377.0,404.2 377.5,404.3 378.0,404.4 378.5,404.5 379.0,404.6 379.5,404.7 380.0,404.8 380.5,404.8 381.0,404.8 381.5,404.8 382.0,404.7 382.5,404.6 383.0,404.6 383.5,404.4 384.0,404.3 384.5,404.3 385.0,404.2 385.5,404.0 386.0,403.9 386.5,403.8 387.0,403.7 387.5,403.5 388.0,403.3 388.5,403.2 389.0,403.0 389.5,402.9 390.0,402.7 390.5,402.6 391.0,402.5 391.5,402.5 392.0,402.4 392.5,402.4 393.0,402.3 393.5,402.3 394.0,402.3 394.5,402.3 395.0,402.2 395.5,402.2 396.0,402.1 396.5,402.1 397.0,402.1 397.5,402.1 398.0,402.0 398.5,402.0 399.0,402.1 399.5,402.0 400.0,402.0 400.5,402.1 401.0,402.1 401.5,402.1 402.0,402.1 402.5,402.1 403.0,402.1 403.5,402.0 404.0,401.8 404.5,401.7 405.0,401.5 405.5,401.3 406.0,401.1 406.5,400.9 407.0,400.8 407.5,400.7 408.0,400.7 408.5,400.7 409.0,400.7 409.5,400.8 410.0,400.9 410.5,401.0 411.0,401.1 411.5,401.1 412.0,401.2 412.5,401.2 413.0,401.3 413.5,401.3 414.0,401.3 414.5,401.3 415.0,401.3 415.5,401.3 416.0,401.3 416.5,401.2 417.0,401.1 417.5,401.0 418.0,400.9 418.5,400.7 419.0,400.6 419.5,400.4 420.0,400.3 420.5,400.1 421.0,399.9 421.5,399.7 422.0,399.6 422.5,399.5 423.0,399.5 423.5,399.4 424.0,399.4 424.5,399.3 425.0,399.2 425.5,399.2 426.0,399.2 426.5,399.1 427.0,399.1 427.5,399.1 428.0,399.1 428.5,399.1 429.0,399.1 429.5,399.2 430.0,399.2 430.5,399.3 431.0,399.3 431.5,399.4 432.0,399.4 432.5,399.4 433.0,399.4 433.5,399.4 434.0,399.3 434.5,399.3 435.0,399.3 435.5,399.2 436.0,399.1 436.5,399.0 437.0,398.9 437.5,398.7 438.0,398.6 438.5,398.4 439.0,398.3 439.5,398.2 440.0,398.1 440.5,398.0 441.0,398.0 441.5,398.0 442.0,398.0 442.5,398.1 443.0,398.0 443.5,398.0 444.0,398.0 444.5,398.0 445.0,398.0 445.5,397.9 446.0,398.0 446.5,398.0 447.0,398.1 447.5,398.2 448.0,398.3 448.5,398.4 449.0,398.4 449.5,398.4 450.0,398.3 450.5,398.3 451.0,398.1 451.5,397.9 452.0,397.8 452.5,397.6 453.0,397.4 453.5,397.3 454.0,397.1 454.5,397.0 455.0,396.9 455.5,396.8 456.0,396.6 456.5,396.5 457.0,396.4 457.5,396.3 458.0,396.3 458.5,396.3 459.0,396.3 459.5,396.3 460.0,396.4 460.5,396.5 461.0,396.6 461.5,396.7 462.0,396.8 462.5,396.8 463.0,396.9 463.5,396.9 464.0,397.0 464.5,397.0 465.0,397.0 465.5,397.0 466.0,396.9 466.5,396.9 467.0,396.7 467.5,396.7 468.0,396.6 468.5,396.4 469.0,396.3 469.5,396.3 470.0,396.2 470.5,396.2 471.0,396.3 471.5,396.3 472.0,396.4 472.5,396.4 473.0,396.5 473.5,396.4 474.0,396.4 474.5,396.4 475.0,396.3 475.5,396.2 476.0,396.0 476.5,395.9 477.0,395.8 477.5,395.8 478.0,395.7 478.5,395.7 479.0,395.7 479.5,395.7 480.0,395.6 480.5,395.6 481.0,395.6 481.5,395.6 482.0,395.5 482.5,395.5 483.0,395.3 483.5,395.2 484.0,395.1 484.5,395.1 485.0,395.0 485.5,394.9 486.0,394.9 486.5,394.8 487.0,394.8 487.5,394.8 488.0,394.8 488.5,394.8 489.0,394.7 489.5,394.6 490.0,394.5 490.5,394.2 491.0,393.9 491.5,393.5 492.0,392.9 492.5,392.2 493.0,391.4 493.5,390.5 494.0,389.6 494.5,388.7 495.0,387.8 495.5,387.0 496.0,386.4 496.5,386.0 497.0,385.9 497.5,386.0 498.0,386.5 498.5,387.1 499.0,387.8 499.5,388.6 500.0,389.5 500.5,390.3 501.0,391.0 501.5,391.6 502.0,392.0 502.5,392.3 503.0,392.5 503.5,392.5 504.0,392.5 504.5,392.5 505.0,392.4 505.5,392.4 506.0,392.4 506.5,392.4 507.0,392.4 507.5,392.4 508.0,392.4 508.5,392.4 509.0,392.4 509.5,392.3 510.0,392.3 510.5,392.3 511.0,392.3 511.5,392.3 512.0,392.3 512.5,392.4 513.0,392.4 513.5,392.4 514.0,392.5 514.5,392.5 515.0,392.4 515.5,392.3 516.0,392.3 516.5,392.3 517.0,392.2 517.5,392.2 518.0,392.3 518.5,392.4 519.0,392.4 519.5,392.4 520.0,392.4 520.5,392.4 521.0,392.4 521.5,392.3 522.0,392.3 522.5,392.3 523.0,392.3 523.5,392.3 524.0,392.4 524.5,392.4 525.0,392.6 525.5,392.6 526.0,392.6 526.5,392.6 527.0,392.6 527.5,392.6 528.0,392.6 528.5,392.6 529.0,392.6 529.5,392.6 530.0,392.6 530.5,392.7 531.0,392.8 531.5,392.9 532.0,393.0 532.5,393.0 533.0,393.1 533.5,393.1 534.0,393.2 534.5,393.2 535.0,393.1 535.5,393.0 536.0,392.9 536.5,392.7 537.0,392.5 537.5,392.4 538.0,392.2 538.5,392.1 539.0,392.0 539.5,391.9 540.0,391.9 540.5,391.9 541.0,391.9 541.5,392.0 542.0,392.1 542.5,392.1 543.0,392.2 543.5,392.3 544.0,392.4 544.5,392.5 545.0,392.5 545.5,392.6 546.0,392.6 546.5,392.7 547.0,392.7 547.5,392.8 548.0,392.8 548.5,392.8 549.0,392.8 549.5,392.7 550.0,392.6 550.5,392.4 551.0,392.2 551.5,392.0 552.0,391.9 552.5,391.7 553.0,391.6 553.5,391.6 554.0,391.6 554.5,391.6 555.0,391.7 555.5,391.8 556.0,391.8 556.5,391.8 557.0,391.8 557.5,391.7 558.0,391.5 558.5,391.4 559.0,391.3 559.5,391.2 560.0,391.1 560.5,391.0 561.0,391.0 561.5,391.0 562.0,391.1 562.5,391.1 563.0,391.2 563.5,391.2 564.0,391.2 564.5,391.1 565.0,391.1 565.5,391.1 566.0,391.0 566.5,391.0 567.0,390.9 567.5,390.8 568.0,390.8 568.5,390.8 569.0,390.7 569.5,390.8 570.0,390.8 570.5,390.8 571.0,390.9 571.5,390.9 572.0,390.9 572.5,390.9 573.0,390.9 573.5,390.8 574.0,390.7 574.5,390.6 575.0,390.4 575.5,390.3 576.0,390.1 576.5,389.9 577.0,389.7 577.5,389.6 578.0,389.5 578.5,389.4 579.0,389.3 579.5,389.3 580.0,389.4 580.5,389.4 581.0,389.5 581.5,389.5 582.0,389.5 582.5,389.5 583.0,389.6 583.5,389.6 584.0,389.6 584.5,389.6 585.0,389.6 585.5,389.6 586.0,389.6 586.5,389.6 587.0,389.6 587.5,389.6 588.0,389.6 588.5,389.6 589.0,389.5 589.5,389.5 590.0,389.5 590.5,389.5 591.0,389.6 591.5,389.6 592.0,389.6 592.5,389.6 593.0,389.5 593.5,389.4 594.0,389.3 594.5,389.1 595.0,388.8 595.5,388.6 596.0,388.3 596.5,388.1 597.0,387.9 597.5,387.9 598.0,387.8 598.5,387.8 599.0,387.9 599.5,387.9 600.0,387.9 600.5,388.0 601.0,388.0 601.5,387.9 602.0,387.8 602.5,387.7 603.0,387.6 603.5,387.6 604.0,387.5 604.5,387.6 605.0,387.5 605.5,387.6 606.0,387.6 606.5,387.7 607.0,387.7 607.5,387.7 608.0,387.7 608.5,387.6 609.0,387.5 609.5,387.4 610.0,387.3 610.5,387.2 611.0,387.2 611.5,387.1 612.0,387.0 612.5,387.0 613.0,386.9 613.5,386.9 614.0,386.8 614.5,386.7 615.0,386.6 615.5,386.6 616.0,386.5 616.5,386.4 617.0,386.3 617.5,386.2 618.0,386.1 618.5,386.0 619.0,385.9 619.5,385.7 620.0,385.6 620.5,385.5 621.0,385.4 621.5,385.3 622.0,385.2 622.5,385.2 623.0,385.2 623.5,385.2 624.0,385.2 624.5,385.3 625.0,385.3 625.5,385.3 626.0,385.3 626.5,385.3 627.0,385.3 627.5,385.2 628.0,385.3 628.5,385.2 629.0,385.3 629.5,385.3 630.0,385.3 630.5,385.3 631.0,385.4 631.5,385.4 632.0,385.3 632.5,385.3 633.0,385.2 633.5,385.1 634.0,385.0 634.5,384.9 635.0,384.8 635.5,384.7 636.0,384.7 636.5,384.6 637.0,384.7 637.5,384.7 638.0,384.8 638.5,384.9 639.0,385.0 639.5,385.2 640.0,385.4 640.5,385.5 641.0,385.7 641.5,385.8 642.0,385.8 642.5,385.8 643.0,385.7 643.5,385.5 644.0,385.3 644.5,385.0 645.0,384.7 645.5,384.4 646.0,384.1 646.5,383.9 647.0,383.7 647.5,383.6 648.0,383.7 648.5,383.8 649.0,383.9 649.5,384.1 650.0,384.3 650.5,384.5 651.0,384.7 651.5,384.8 652.0,384.8 652.5,384.8 653.0,384.7 653.5,384.5 654.0,384.3 654.5,384.1 655.0,383.9 655.5,383.7 656.0,383.5 656.5,383.3 657.0,383.3 657.5,383.2 658.0,383.1 658.5,383.1 659.0,383.1 659.5,383.1 660.0,383.2 660.5,383.2 661.0,383.3 661.5,383.4 662.0,383.5 662.5,383.6 663.0,383.7 663.5,383.8 664.0,383.8 664.5,383.9 665.0,384.0 665.5,384.1 666.0,384.1 666.5,384.2 667.0,384.2 667.5,384.2 668.0,384.2 668.5,384.1 669.0,384.0 669.5,383.9 670.0,383.8 670.5,383.7 671.0,383.5 671.5,383.4 672.0,383.3 672.5,383.2 673.0,383.1 673.5,383.1 674.0,383.0 674.5,383.0 675.0,383.0 675.5,382.9 676.0,382.8 676.5,382.7 677.0,382.6 677.5,382.5 678.0,382.4 678.5,382.3 679.0,382.3 679.5,382.3 680.0,382.4 680.5,382.5 681.0,382.6 681.5,382.7 682.0,382.9 682.5,383.0 683.0,383.0 683.5,383.1 684.0,383.0 684.5,383.0 685.0,382.9 685.5,382.7 686.0,382.6 686.5,382.4 687.0,382.2 687.5,382.0 688.0,381.9 688.5,381.8 689.0,381.7 689.5,381.7 690.0,381.7 690.5,381.7 691.0,381.7 691.5,381.8 692.0,381.8 692.5,381.9 693.0,381.9 693.5,381.9 694.0,381.9 694.5,381.9 695.0,381.8 695.5,381.8 696.0,381.7 696.5,381.7 697.0,381.6 697.5,381.6 698.0,381.6 698.5,381.6 699.0,381.7 699.5,381.7 700.0,381.6 700.5,381.6 701.0,381.6 701.5,381.6 702.0,381.6 702.5,381.6 703.0,381.6 703.5,381.6 704.0,381.7 704.5,381.8 705.0,381.9 705.5,382.0 706.0,382.0 706.5,382.1 707.0,382.1 707.5,382.1 708.0,382.0 708.5,381.9 709.0,381.7 709.5,381.5 710.0,381.4 710.5,381.3 711.0,381.2 711.5,381.1 712.0,381.1 712.5,381.1 713.0,381.2 713.5,381.3 714.0,381.3 714.5,381.3 715.0,381.2 715.5,381.2 716.0,381.1 716.5,380.9 717.0,380.7 717.5,380.6 718.0,380.4 718.5,380.3 719.0,380.1 719.5,380.1 720.0,380.0 720.5,380.0 721.0,379.9 721.5,379.9 722.0,380.0" fill="none" stroke="#FFC000" stroke-width="1.9" stroke-linejoin="round" stroke-linecap="round"/>
<path d="M79.0,438.8 79.5,438.7 80.0,438.6 80.5,438.5 81.0,438.5 81.5,438.5 82.0,438.5 82.5,438.5 83.0,438.5 83.5,438.5 84.0,438.6 84.5,438.6 85.0,438.7 85.5,438.8 86.0,438.8 86.5,438.8 87.0,438.9 87.5,439.0 88.0,439.1 88.5,439.1 89.0,439.2 89.5,439.3 90.0,439.3 90.5,439.4 91.0,439.5 91.5,439.5 92.0,439.6 92.5,439.6 93.0,439.6 93.5,439.6 94.0,439.5 94.5,439.5 95.0,439.5 95.5,439.4 96.0,439.4 96.5,439.4 97.0,439.5 97.5,439.5 98.0,439.5 98.5,439.5 99.0,439.6 99.5,439.6 100.0,439.5 100.5,439.5 101.0,439.5 101.5,439.5 102.0,439.5 102.5,439.4 103.0,439.4 103.5,439.3 104.0,439.2 104.5,439.1 105.0,439.0 105.5,438.9 106.0,438.9 106.5,438.9 107.0,438.9 107.5,438.9 108.0,439.0 108.5,439.1 109.0,439.1 109.5,439.1 110.0,439.0 110.5,438.9 111.0,438.6 111.5,438.4 112.0,438.2 112.5,438.0 113.0,437.8 113.5,437.8 114.0,437.7 114.5,437.8 115.0,437.9 115.5,438.1 116.0,438.4 116.5,438.6 117.0,438.7 117.5,438.9 118.0,439.0 118.5,439.0 119.0,439.0 119.5,439.0 120.0,438.9 120.5,438.7 121.0,438.6 121.5,438.5 122.0,438.4 122.5,438.4 123.0,438.3 123.5,438.3 124.0,438.3 124.5,438.4 125.0,438.4 125.5,438.5 126.0,438.5 126.5,438.6 127.0,438.6 127.5,438.7 128.0,438.7 128.5,438.7 129.0,438.6 129.5,438.6 130.0,438.5 130.5,438.5 131.0,438.5 131.5,438.4 132.0,438.4 132.5,438.5 133.0,438.5 133.5,438.5 134.0,438.5 134.5,438.5 135.0,438.5 135.5,438.5 136.0,438.3 136.5,438.2 137.0,438.1 137.5,438.0 138.0,438.0 138.5,438.0 139.0,438.0 139.5,438.1 140.0,438.2 140.5,438.3 141.0,438.3 141.5,438.4 142.0,438.4 142.5,438.4 143.0,438.4 143.5,438.3 144.0,438.3 144.5,438.2 145.0,438.1 145.5,438.1 146.0,438.1 146.5,438.0 147.0,438.0 147.5,437.9 148.0,437.8 148.5,437.7 149.0,437.6 149.5,437.6 150.0,437.5 150.5,437.5 151.0,437.5 151.5,437.6 152.0,437.7 152.5,437.8 153.0,438.0 153.5,438.2 154.0,438.4 154.5,438.5 155.0,438.8 155.5,438.9 156.0,439.1 156.5,439.3 157.0,439.4 157.5,439.4 158.0,439.4 158.5,439.4 159.0,439.3 159.5,439.2 160.0,439.1 160.5,439.0 161.0,439.0 161.5,438.9 162.0,438.8 162.5,438.8 163.0,438.9 163.5,438.9 164.0,438.9 164.5,439.0 165.0,438.9 165.5,438.9 166.0,438.9 166.5,438.8 167.0,438.7 167.5,438.6 168.0,438.5 168.5,438.5 169.0,438.4 169.5,438.4 170.0,438.5 170.5,438.5 171.0,438.6 171.5,438.6 172.0,438.7 172.5,438.8 173.0,438.7 173.5,438.7 174.0,438.5 174.5,438.4 175.0,438.2 175.5,438.1 176.0,437.9 176.5,437.7 177.0,437.6 177.5,437.5 178.0,437.5 178.5,437.5 179.0,437.6 179.5,437.7 180.0,437.8 180.5,437.8 181.0,437.9 181.5,437.9 182.0,437.9 182.5,437.9 183.0,437.8 183.5,437.6 184.0,437.5 184.5,437.3 185.0,437.2 185.5,437.0 186.0,437.0 186.5,436.9 187.0,436.9 187.5,436.9 188.0,437.0 188.5,437.1 189.0,437.1 189.5,437.2 190.0,437.3 190.5,437.3 191.0,437.3 191.5,437.3 192.0,437.3 192.5,437.3 193.0,437.4 193.5,437.4 194.0,437.4 194.5,437.3 195.0,437.4 195.5,437.3 196.0,437.3 196.5,437.3 197.0,437.3 197.5,437.3 198.0,437.3 198.5,437.3 199.0,437.4 199.5,437.4 200.0,437.5 200.5,437.5 201.0,437.4 201.5,437.4 202.0,437.2 202.5,437.1 203.0,436.9 203.5,436.6 204.0,436.4 204.5,436.2 205.0,436.0 205.5,436.0 206.0,436.0 206.5,436.0 207.0,436.1 207.5,436.2 208.0,436.4 208.5,436.5 209.0,436.7 209.5,436.8 210.0,436.7 210.5,436.8 211.0,436.7 211.5,436.6 212.0,436.5 212.5,436.3 213.0,436.2 213.5,436.1 214.0,435.9 214.5,435.8 215.0,435.6 215.5,435.5 216.0,435.4 216.5,435.3 217.0,435.3 217.5,435.3 218.0,435.3 218.5,435.4 219.0,435.4 219.5,435.6 220.0,435.7 220.5,435.8 221.0,435.9 221.5,435.9 222.0,435.8 222.5,435.8 223.0,435.7 223.5,435.5 224.0,435.4 224.5,435.3 225.0,435.2 225.5,435.1 226.0,435.0 226.5,434.9 227.0,434.8 227.5,434.8 228.0,434.7 228.5,434.7 229.0,434.7 229.5,434.6 230.0,434.6 230.5,434.7 231.0,434.7 231.5,434.7 232.0,434.8 232.5,434.8 233.0,434.9 233.5,435.0 234.0,435.0 234.5,435.0 235.0,435.1 235.5,435.2 236.0,435.3 236.5,435.4 237.0,435.4 237.5,435.4 238.0,435.4 238.5,435.3 239.0,435.3 239.5,435.2 240.0,435.1 240.5,435.0 241.0,434.9 241.5,434.7 242.0,434.6 242.5,434.5 243.0,434.3 243.5,434.2 244.0,434.0 244.5,433.8 245.0,433.7 245.5,433.6 246.0,433.5 246.5,433.4 247.0,433.3 247.5,433.3 248.0,433.3 248.5,433.3 249.0,433.3 249.5,433.4 250.0,433.5 250.5,433.6 251.0,433.8 251.5,433.9 252.0,434.0 252.5,434.1 253.0,434.2 253.5,434.2 254.0,434.3 254.5,434.2 255.0,434.1 255.5,434.1 256.0,434.0 256.5,433.9 257.0,433.7 257.5,433.6 258.0,433.5 258.5,433.3 259.0,433.1 259.5,432.9 260.0,432.6 260.5,432.4 261.0,432.2 261.5,432.1 262.0,432.0 262.5,431.9 263.0,431.9 263.5,431.9 264.0,431.9 264.5,431.9 265.0,431.9 265.5,431.9 266.0,431.8 266.5,431.8 267.0,431.8 267.5,431.8 268.0,431.7 268.5,431.7 269.0,431.8 269.5,431.8 270.0,431.9 270.5,432.0 271.0,432.0 271.5,432.0 272.0,432.0 272.5,432.0 273.0,432.0 273.5,432.0 274.0,432.0 274.5,432.0 275.0,432.0 275.5,432.0 276.0,432.0 276.5,432.1 277.0,432.0 277.5,432.0 278.0,431.9 278.5,431.8 279.0,431.7 279.5,431.6 280.0,431.4 280.5,431.3 281.0,431.3 281.5,431.2 282.0,431.3 282.5,431.3 283.0,431.5 283.5,431.6 284.0,431.7 284.5,431.8 285.0,431.9 285.5,432.0 286.0,432.0 286.5,431.9 287.0,431.9 287.5,431.8 288.0,431.7 288.5,431.6 289.0,431.4 289.5,431.2 290.0,431.2 290.5,431.1 291.0,430.9 291.5,430.8 292.0,430.8 292.5,430.7 293.0,430.7 293.5,430.7 294.0,430.7 294.5,430.7 295.0,430.7 295.5,430.8 296.0,430.7 296.5,430.7 297.0,430.7 297.5,430.7 298.0,430.6 298.5,430.6 299.0,430.5 299.5,430.5 300.0,430.4 300.5,430.4 301.0,430.4 301.5,430.5 302.0,430.6 302.5,430.7 303.0,430.8 303.5,430.8 304.0,430.8 304.5,430.9 305.0,430.8 305.5,430.6 306.0,430.4 306.5,429.9 307.0,428.7 307.5,427.9 308.0,426.8 308.5,425.1 309.0,422.9 309.5,419.9 310.0,416.1 310.5,411.4 311.0,406.0 311.5,400.0 312.0,393.8 312.5,388.2 313.0,384.0 313.5,382.6 314.0,384.8 314.5,388.2 315.0,392.0 315.5,396.1 316.0,400.1 316.5,404.0 317.0,407.6 317.5,410.8 318.0,413.7 318.5,416.3 319.0,418.5 319.5,420.3 320.0,421.9 320.5,423.2 321.0,424.2 321.5,425.1 322.0,425.8 322.5,426.3 323.0,426.7 323.5,427.0 324.0,427.5 324.5,427.8 325.0,427.9 325.5,428.0 326.0,428.0 326.5,427.9 327.0,427.8 327.5,427.7 328.0,427.7 328.5,427.6 329.0,427.5 329.5,427.5 330.0,427.3 330.5,427.2 331.0,426.9 331.5,426.4 332.0,425.2 332.5,422.8 333.0,418.6 333.5,411.6 334.0,400.6 334.5,384.8 335.0,363.6 335.5,337.0 336.0,305.7 336.5,271.2 337.0,235.6 337.5,201.1 338.0,169.6 338.5,142.7 339.0,121.4 339.5,105.8 340.0,95.6 340.5,89.9 341.0,87.4 341.5,86.8 342.0,88.2 342.5,94.2 343.0,104.3 343.5,118.1 344.0,134.8 344.5,153.8 345.0,174.5 345.5,196.3 346.0,218.5 346.5,240.6 347.0,262.1 347.5,282.7 348.0,302.0 348.5,319.8 349.0,335.9 349.5,350.3 350.0,363.0 350.5,373.9 351.0,383.1 351.5,390.8 352.0,397.1 352.5,402.0 353.0,405.7 353.5,408.5 354.0,410.4 354.5,411.6 355.0,412.6 355.5,412.9 356.0,413.1 356.5,413.3 357.0,413.5 357.5,413.8 358.0,414.2 358.5,414.5 359.0,415.0 359.5,415.6 360.0,416.3 360.5,417.2 361.0,418.0 361.5,419.0 362.0,419.9 362.5,420.8 363.0,421.6 363.5,422.2 364.0,422.7 364.5,423.1 365.0,423.5 365.5,423.7 366.0,423.9 366.5,423.9 367.0,423.9 367.5,424.0 368.0,423.9 368.5,423.9 369.0,423.9 369.5,424.0 370.0,424.0 370.5,424.1 371.0,424.2 371.5,424.3 372.0,424.5 372.5,424.7 373.0,424.9 373.5,425.0 374.0,425.1 374.5,425.2 375.0,425.3 375.5,425.3 376.0,425.3 376.5,425.3 377.0,425.4 377.5,425.3 378.0,425.3 378.5,425.2 379.0,425.1 379.5,425.0 380.0,424.8 380.5,424.6 381.0,424.3 381.5,424.1 382.0,423.9 382.5,423.6 383.0,423.5 383.5,423.4 384.0,423.3 384.5,423.2 385.0,423.1 385.5,423.1 386.0,423.2 386.5,423.2 387.0,423.2 387.5,423.1 388.0,423.1 388.5,423.1 389.0,423.0 389.5,423.0 390.0,422.9 390.5,422.8 391.0,422.7 391.5,422.6 392.0,422.5 392.5,422.5 393.0,422.4 393.5,422.4 394.0,422.4 394.5,422.4 395.0,422.5 395.5,422.6 396.0,422.7 396.5,422.8 397.0,422.9 397.5,423.0 398.0,423.0 398.5,422.9 399.0,422.9 399.5,422.8 400.0,422.7 400.5,422.6 401.0,422.4 401.5,422.2 402.0,422.1 402.5,422.0 403.0,422.0 403.5,422.1 404.0,422.1 404.5,422.1 405.0,422.2 405.5,422.2 406.0,422.2 406.5,422.2 407.0,422.2 407.5,422.1 408.0,422.1 408.5,422.0 409.0,422.0 409.5,421.9 410.0,421.9 410.5,421.8 411.0,421.7 411.5,421.6 412.0,421.5 412.5,421.5 413.0,421.4 413.5,421.2 414.0,421.1 414.5,421.0 415.0,421.1 415.5,421.1 416.0,421.1 416.5,421.1 417.0,421.1 417.5,421.1 418.0,421.1 418.5,421.0 419.0,420.9 419.5,420.8 420.0,420.6 420.5,420.5 421.0,420.4 421.5,420.3 422.0,420.2 422.5,420.2 423.0,420.2 423.5,420.1 424.0,420.2 424.5,420.2 425.0,420.2 425.5,420.2 426.0,420.2 426.5,420.2 427.0,420.1 427.5,420.1 428.0,420.1 428.5,420.1 429.0,420.0 429.5,419.9 430.0,419.7 430.5,419.5 431.0,419.3 431.5,418.9 432.0,418.5 432.5,417.9 433.0,417.3 433.5,416.5 434.0,415.7 434.5,414.9 435.0,414.0 435.5,413.3 436.0,412.8 436.5,412.4 437.0,412.3 437.5,412.4 438.0,412.7 438.5,413.3 439.0,413.9 439.5,414.7 440.0,415.6 440.5,416.4 441.0,417.1 441.5,417.7 442.0,418.2 442.5,418.5 443.0,418.8 443.5,419.0 444.0,419.1 444.5,419.1 445.0,419.1 445.5,419.1 446.0,419.1 446.5,419.0 447.0,419.0 447.5,418.9 448.0,418.9 448.5,418.8 449.0,418.8 449.5,418.8 450.0,418.7 450.5,418.7 451.0,418.7 451.5,418.7 452.0,418.6 452.5,418.5 453.0,418.5 453.5,418.4 454.0,418.3 454.5,418.2 455.0,418.2 455.5,418.2 456.0,418.2 456.5,418.2 457.0,418.2 457.5,418.3 458.0,418.2 458.5,418.2 459.0,418.1 459.5,418.0 460.0,417.9 460.5,417.7 461.0,417.6 461.5,417.5 462.0,417.4 462.5,417.4 463.0,417.3 463.5,417.3 464.0,417.3 464.5,417.3 465.0,417.2 465.5,417.2 466.0,417.1 466.5,417.0 467.0,416.8 467.5,416.6 468.0,416.4 468.5,416.3 469.0,416.1 469.5,415.9 470.0,415.7 470.5,415.6 471.0,415.5 471.5,415.4 472.0,415.4 472.5,415.4 473.0,415.4 473.5,415.4 474.0,415.4 474.5,415.5 475.0,415.6 475.5,415.7 476.0,415.8 476.5,415.9 477.0,415.9 477.5,416.0 478.0,416.0 478.5,416.0 479.0,415.9 479.5,415.8 480.0,415.7 480.5,415.6 481.0,415.5 481.5,415.4 482.0,415.3 482.5,415.2 483.0,415.1 483.5,415.0 484.0,415.0 484.5,414.8 485.0,414.7 485.5,414.3 486.0,413.6 486.5,412.4 487.0,410.5 487.5,407.4 488.0,402.8 488.5,396.3 489.0,387.8 489.5,377.0 490.0,364.1 490.5,349.7 491.0,334.2 491.5,318.7 492.0,304.3 492.5,291.8 493.0,282.1 493.5,275.6 494.0,272.4 494.5,271.9 495.0,274.0 495.5,279.0 496.0,286.7 496.5,296.6 497.0,308.0 497.5,320.4 498.0,333.1 498.5,345.6 499.0,357.5 499.5,368.3 500.0,377.9 500.5,386.1 501.0,393.0 501.5,398.5 502.0,402.9 502.5,406.3 503.0,408.8 503.5,410.7 504.0,412.7 504.5,413.7 505.0,414.4 505.5,414.8 506.0,414.9 506.5,415.0 507.0,414.9 507.5,414.8 508.0,414.7 508.5,414.5 509.0,414.3 509.5,414.2 510.0,414.1 510.5,414.1 511.0,414.0 511.5,414.0 512.0,413.9 512.5,413.8 513.0,413.7 513.5,413.6 514.0,413.4 514.5,413.3 515.0,413.2 515.5,413.1 516.0,413.0 516.5,413.1 517.0,413.2 517.5,413.3 518.0,413.3 518.5,413.4 519.0,413.5 519.5,413.5 520.0,413.6 520.5,413.5 521.0,413.5 521.5,413.5 522.0,413.4 522.5,413.3 523.0,413.2 523.5,413.1 524.0,413.0 524.5,412.8 525.0,412.6 525.5,412.5 526.0,412.4 526.5,412.2 527.0,412.1 527.5,412.2 528.0,412.2 528.5,412.2 529.0,412.3 529.5,412.3 530.0,412.4 530.5,412.4 531.0,412.5 531.5,412.5 532.0,412.5 532.5,412.5 533.0,412.5 533.5,412.4 534.0,412.3 534.5,412.3 535.0,412.2 535.5,412.2 536.0,412.1 536.5,412.0 537.0,411.9 537.5,411.8 538.0,411.8 538.5,411.7 539.0,411.7 539.5,411.7 540.0,411.6 540.5,411.5 541.0,411.4 541.5,411.4 542.0,411.3 542.5,411.2 543.0,411.1 543.5,411.0 544.0,411.0 544.5,410.9 545.0,410.9 545.5,410.9 546.0,410.9 546.5,410.8 547.0,410.8 547.5,410.8 548.0,410.7 548.5,410.7 549.0,410.7 549.5,410.7 550.0,410.7 550.5,410.7 551.0,410.7 551.5,410.8 552.0,410.8 552.5,410.8 553.0,410.9 553.5,410.9 554.0,410.9 554.5,410.9 555.0,410.9 555.5,410.9 556.0,410.9 556.5,410.9 557.0,410.9 557.5,410.8 558.0,410.8 558.5,410.7 559.0,410.6 559.5,410.5 560.0,410.3 560.5,410.2 561.0,410.0 561.5,409.9 562.0,409.9 562.5,409.8 563.0,409.8 563.5,409.8 564.0,409.8 564.5,409.9 565.0,410.0 565.5,410.0 566.0,410.1 566.5,410.1 567.0,410.1 567.5,410.2 568.0,410.1 568.5,410.0 569.0,410.0 569.5,409.9 570.0,409.7 570.5,409.6 571.0,409.4 571.5,409.2 572.0,409.0 572.5,408.8 573.0,408.6 573.5,408.5 574.0,408.3 574.5,408.2 575.0,408.1 575.5,408.0 576.0,407.9 576.5,407.8 577.0,407.8 577.5,407.7 578.0,407.7 578.5,407.6 579.0,407.6 579.5,407.5 580.0,407.5 580.5,407.5 581.0,407.5 581.5,407.4 582.0,407.2 582.5,406.9 583.0,406.4 583.5,405.6 584.0,404.5 584.5,403.1 585.0,401.4 585.5,399.5 586.0,397.5 586.5,395.5 587.0,393.9 587.5,392.6 588.0,391.9 588.5,391.8 589.0,392.2 589.5,393.0 590.0,394.2 590.5,395.6 591.0,397.2 591.5,398.8 592.0,400.4 592.5,401.8 593.0,403.1 593.5,404.1 594.0,404.9 594.5,405.6 595.0,406.0 595.5,406.4 596.0,406.7 596.5,406.8 597.0,407.0 597.5,407.1 598.0,407.2 598.5,407.4 599.0,407.5 599.5,407.6 600.0,407.7 600.5,407.7 601.0,407.8 601.5,407.8 602.0,407.8 602.5,407.7 603.0,407.7 603.5,407.7 604.0,407.7 604.5,407.6 605.0,407.7 605.5,407.6 606.0,407.6 606.5,407.7 607.0,407.6 607.5,407.5 608.0,407.4 608.5,407.2 609.0,407.0 609.5,406.8 610.0,406.7 610.5,406.6 611.0,406.5 611.5,406.4 612.0,406.4 612.5,406.4 613.0,406.4 613.5,406.4 614.0,406.4 614.5,406.4 615.0,406.3 615.5,406.3 616.0,406.2 616.5,406.2 617.0,406.2 617.5,406.2 618.0,406.2 618.5,406.2 619.0,406.2 619.5,406.1 620.0,406.1 620.5,406.1 621.0,406.0 621.5,406.0 622.0,406.1 622.5,406.1 623.0,406.2 623.5,406.3 624.0,406.4 624.5,406.5 625.0,406.6 625.5,406.6 626.0,406.6 626.5,406.7 627.0,406.7 627.5,406.7 628.0,406.8 628.5,406.7 629.0,406.7 629.5,406.6 630.0,406.5 630.5,406.3 631.0,406.2 631.5,406.0 632.0,405.8 632.5,405.5 633.0,405.3 633.5,405.2 634.0,405.1 634.5,405.0 635.0,404.9 635.5,404.8 636.0,404.8 636.5,404.7 637.0,404.7 637.5,404.6 638.0,404.5 638.5,404.4 639.0,404.4 639.5,404.3 640.0,404.3 640.5,404.3 641.0,404.3 641.5,404.4 642.0,404.4 642.5,404.4 643.0,404.4 643.5,404.4 644.0,404.4 644.5,404.4 645.0,404.4 645.5,404.3 646.0,404.2 646.5,404.1 647.0,404.1 647.5,404.0 648.0,403.9 648.5,403.8 649.0,403.8 649.5,403.7 650.0,403.7 650.5,403.8 651.0,403.9 651.5,403.9 652.0,404.0 652.5,404.0 653.0,404.0 653.5,404.0 654.0,404.0 654.5,404.0 655.0,403.9 655.5,403.8 656.0,403.7 656.5,403.6 657.0,403.6 657.5,403.6 658.0,403.5 658.5,403.5 659.0,403.4 659.5,403.4 660.0,403.3 660.5,403.3 661.0,403.2 661.5,403.2 662.0,403.2 662.5,403.1 663.0,403.1 663.5,403.0 664.0,402.9 664.5,402.9 665.0,402.9 665.5,402.9 666.0,402.9 666.5,402.9 667.0,403.0 667.5,403.1 668.0,403.1 668.5,403.2 669.0,403.3 669.5,403.3 670.0,403.3 670.5,403.3 671.0,403.3 671.5,403.2 672.0,403.2 672.5,403.1 673.0,403.0 673.5,403.0 674.0,402.9 674.5,402.9 675.0,402.8 675.5,402.8 676.0,402.8 676.5,402.7 677.0,402.6 677.5,402.6 678.0,402.6 678.5,402.5 679.0,402.4 679.5,402.2 680.0,402.1 680.5,402.0 681.0,401.9 681.5,401.8 682.0,401.7 682.5,401.7 683.0,401.7 683.5,401.7 684.0,401.8 684.5,401.9 685.0,402.0 685.5,402.1 686.0,402.1 686.5,402.1 687.0,402.1 687.5,402.1 688.0,402.2 688.5,402.1 689.0,402.1 689.5,402.1 690.0,402.1 690.5,402.1 691.0,402.1 691.5,402.1 692.0,402.1 692.5,402.0 693.0,401.9 693.5,401.7 694.0,401.5 694.5,401.2 695.0,401.0 695.5,400.8 696.0,400.5 696.5,400.3 697.0,400.3 697.5,400.2 698.0,400.3 698.5,400.4 699.0,400.6 699.5,400.8 700.0,400.9 700.5,401.0 701.0,401.1 701.5,401.2 702.0,401.1 702.5,401.0 703.0,400.9 703.5,400.7 704.0,400.7 704.5,400.6 705.0,400.6 705.5,400.6 706.0,400.7 706.5,400.8 707.0,400.8 707.5,400.9 708.0,400.9 708.5,400.8 709.0,400.7 709.5,400.7 710.0,400.6 710.5,400.5 711.0,400.5 711.5,400.4 712.0,400.4 712.5,400.4 713.0,400.4 713.5,400.3 714.0,400.3 714.5,400.2 715.0,400.1 715.5,400.1 716.0,400.0 716.5,399.9 717.0,399.9 717.5,399.8 718.0,399.7 718.5,399.7 719.0,399.7 719.5,399.6 720.0,399.6 720.5,399.5 721.0,399.5 721.5,399.4 722.0,399.4" fill="none" stroke="#ED7D31" stroke-width="1.9" stroke-linejoin="round" stroke-linecap="round"/>
<path d="M79.0,456.8 79.5,456.9 80.0,457.0 80.5,457.1 81.0,457.2 81.5,457.2 82.0,457.2 82.5,457.2 83.0,457.1 83.5,457.1 84.0,457.0 84.5,456.9 85.0,456.8 85.5,456.8 86.0,456.7 86.5,456.7 87.0,456.8 87.5,456.9 88.0,457.0 88.5,457.0 89.0,457.1 89.5,457.1 90.0,457.2 90.5,457.3 91.0,457.3 91.5,457.4 92.0,457.4 92.5,457.4 93.0,457.4 93.5,457.5 94.0,457.5 94.5,457.5 95.0,457.5 95.5,457.5 96.0,457.5 96.5,457.4 97.0,457.3 97.5,457.2 98.0,457.1 98.5,456.9 99.0,456.8 99.5,456.7 100.0,456.7 100.5,456.6 101.0,456.7 101.5,456.7 102.0,456.9 102.5,457.0 103.0,457.2 103.5,457.3 104.0,457.4 104.5,457.4 105.0,457.5 105.5,457.5 106.0,457.4 106.5,457.4 107.0,457.4 107.5,457.4 108.0,457.4 108.5,457.5 109.0,457.5 109.5,457.5 110.0,457.6 110.5,457.6 111.0,457.6 111.5,457.6 112.0,457.5 112.5,457.5 113.0,457.5 113.5,457.5 114.0,457.5 114.5,457.5 115.0,457.5 115.5,457.5 116.0,457.6 116.5,457.7 117.0,457.7 117.5,457.7 118.0,457.7 118.5,457.7 119.0,457.7 119.5,457.7 120.0,457.6 120.5,457.6 121.0,457.5 121.5,457.4 122.0,457.3 122.5,457.3 123.0,457.2 123.5,457.2 124.0,457.1 124.5,457.1 125.0,457.1 125.5,457.1 126.0,457.1 126.5,457.0 127.0,457.0 127.5,456.9 128.0,456.9 128.5,456.9 129.0,456.8 129.5,456.9 130.0,456.9 130.5,457.0 131.0,457.1 131.5,457.3 132.0,457.4 132.5,457.5 133.0,457.6 133.5,457.6 134.0,457.6 134.5,457.6 135.0,457.6 135.5,457.6 136.0,457.6 136.5,457.6 137.0,457.6 137.5,457.6 138.0,457.6 138.5,457.6 139.0,457.7 139.5,457.7 140.0,457.7 140.5,457.7 141.0,457.7 141.5,457.7 142.0,457.7 142.5,457.8 143.0,457.8 143.5,457.9 144.0,457.9 144.5,458.0 145.0,458.1 145.5,458.2 146.0,458.2 146.5,458.3 147.0,458.3 147.5,458.4 148.0,458.4 148.5,458.3 149.0,458.3 149.5,458.3 150.0,458.3 150.5,458.3 151.0,458.2 151.5,458.3 152.0,458.3 152.5,458.3 153.0,458.3 153.5,458.3 154.0,458.3 154.5,458.2 155.0,458.1 155.5,458.0 156.0,457.9 156.5,457.8 157.0,457.8 157.5,457.7 158.0,457.5 158.5,457.5 159.0,457.5 159.5,457.5 160.0,457.5 160.5,457.6 161.0,457.7 161.5,457.9 162.0,458.0 162.5,458.1 163.0,458.3 163.5,458.4 164.0,458.5 164.5,458.6 165.0,458.7 165.5,458.7 166.0,458.7 166.5,458.7 167.0,458.7 167.5,458.6 168.0,458.5 168.5,458.4 169.0,458.3 169.5,458.3 170.0,458.3 170.5,458.3 171.0,458.3 171.5,458.4 172.0,458.5 172.5,458.6 173.0,458.6 173.5,458.7 174.0,458.7 174.5,458.7 175.0,458.6 175.5,458.6 176.0,458.5 176.5,458.4 177.0,458.4 177.5,458.3 178.0,458.2 178.5,458.1 179.0,458.1 179.5,458.0 180.0,458.0 180.5,458.0 181.0,458.0 181.5,458.1 182.0,458.1 182.5,458.2 183.0,458.3 183.5,458.4 184.0,458.4 184.5,458.4 185.0,458.4 185.5,458.3 186.0,458.2 186.5,458.1 187.0,458.0 187.5,457.8 188.0,457.7 188.5,457.6 189.0,457.5 189.5,457.4 190.0,457.3 190.5,457.3 191.0,457.3 191.5,457.3 192.0,457.2 192.5,457.2 193.0,457.2 193.5,457.2 194.0,457.2 194.5,457.1 195.0,457.0 195.5,456.9 196.0,456.8 196.5,456.6 197.0,456.5 197.5,456.3 198.0,456.2 198.5,456.1 199.0,456.0 199.5,456.0 200.0,456.0 200.5,456.0 201.0,456.0 201.5,456.1 202.0,456.1 202.5,456.2 203.0,456.2 203.5,456.3 204.0,456.4 204.5,456.4 205.0,456.5 205.5,456.5 206.0,456.6 206.5,456.7 207.0,456.8 207.5,456.8 208.0,456.9 208.5,456.9 209.0,456.9 209.5,456.9 210.0,456.9 210.5,456.9 211.0,456.9 211.5,456.9 212.0,456.9 212.5,456.9 213.0,456.9 213.5,456.8 214.0,456.7 214.5,456.6 215.0,456.5 215.5,456.3 216.0,456.2 216.5,456.0 217.0,455.9 217.5,455.7 218.0,455.6 218.5,455.5 219.0,455.5 219.5,455.5 220.0,455.5 220.5,455.6 221.0,455.6 221.5,455.6 222.0,455.6 222.5,455.6 223.0,455.5 223.5,455.4 224.0,455.3 224.5,455.2 225.0,455.0 225.5,454.9 226.0,454.8 226.5,454.8 227.0,454.8 227.5,454.9 228.0,454.9 228.5,455.0 229.0,455.1 229.5,455.1 230.0,455.2 230.5,455.2 231.0,455.1 231.5,455.1 232.0,455.0 232.5,454.9 233.0,454.8 233.5,454.7 234.0,454.6 234.5,454.5 235.0,454.3 235.5,454.2 236.0,454.0 236.5,453.9 237.0,453.8 237.5,453.7 238.0,453.7 238.5,453.8 239.0,453.9 239.5,453.9 240.0,454.0 240.5,454.0 241.0,454.0 241.5,454.0 242.0,453.9 242.5,453.8 243.0,453.7 243.5,453.6 244.0,453.6 244.5,453.6 245.0,453.6 245.5,453.6 246.0,453.6 246.5,453.7 247.0,453.8 247.5,453.8 248.0,453.9 248.5,454.0 249.0,454.0 249.5,454.1 250.0,454.1 250.5,454.2 251.0,454.2 251.5,454.2 252.0,454.1 252.5,454.1 253.0,454.1 253.5,454.0 254.0,453.9 254.5,453.9 255.0,453.9 255.5,453.9 256.0,453.9 256.5,453.8 257.0,453.7 257.5,453.6 258.0,453.5 258.5,453.4 259.0,453.2 259.5,453.0 260.0,452.9 260.5,452.7 261.0,452.6 261.5,452.5 262.0,452.5 262.5,452.4 263.0,452.4 263.5,452.3 264.0,452.3 264.5,452.2 265.0,452.2 265.5,452.2 266.0,452.2 266.5,452.2 267.0,452.2 267.5,452.2 268.0,452.3 268.5,452.3 269.0,452.4 269.5,452.5 270.0,452.5 270.5,452.6 271.0,452.6 271.5,452.6 272.0,452.6 272.5,452.6 273.0,452.5 273.5,452.4 274.0,452.4 274.5,452.3 275.0,452.2 275.5,452.1 276.0,452.0 276.5,451.9 277.0,451.9 277.5,451.9 278.0,451.9 278.5,451.9 279.0,451.9 279.5,452.0 280.0,452.0 280.5,452.0 281.0,452.0 281.5,452.0 282.0,451.9 282.5,451.8 283.0,451.7 283.5,451.6 284.0,451.4 284.5,451.3 285.0,451.2 285.5,451.0 286.0,450.9 286.5,450.8 287.0,450.6 287.5,450.5 288.0,450.4 288.5,450.2 289.0,450.1 289.5,450.0 290.0,450.0 290.5,449.9 291.0,449.8 291.5,449.8 292.0,449.8 292.5,449.8 293.0,449.9 293.5,449.9 294.0,450.0 294.5,450.1 295.0,450.1 295.5,450.2 296.0,450.3 296.5,450.3 297.0,450.4 297.5,450.4 298.0,450.4 298.5,450.3 299.0,450.3 299.5,450.2 300.0,450.2 300.5,450.1 301.0,450.0 301.5,449.8 302.0,449.7 302.5,449.5 303.0,449.4 303.5,449.2 304.0,449.0 304.5,448.8 305.0,448.6 305.5,448.5 306.0,448.4 306.5,448.3 307.0,448.1 307.5,448.0 308.0,447.9 308.5,447.3 309.0,446.2 309.5,444.8 310.0,442.7 310.5,439.9 311.0,436.3 311.5,431.7 312.0,426.2 312.5,419.8 313.0,412.9 313.5,406.0 314.0,399.7 314.5,394.9 315.0,393.4 315.5,395.8 316.0,399.4 316.5,403.7 317.0,408.2 317.5,412.8 318.0,417.2 318.5,421.3 319.0,425.2 319.5,428.6 320.0,431.7 320.5,434.4 321.0,436.7 321.5,438.7 322.0,440.4 322.5,441.8 323.0,443.0 323.5,443.9 324.0,444.7 324.5,445.3 325.0,445.8 325.5,446.2 326.0,446.3 326.5,446.5 327.0,446.5 327.5,446.5 328.0,446.5 328.5,446.5 329.0,446.6 329.5,446.5 330.0,446.6 330.5,446.6 331.0,446.7 331.5,446.7 332.0,446.8 332.5,446.8 333.0,446.8 333.5,446.5 334.0,445.7 334.5,443.9 335.0,440.5 335.5,433.9 336.0,423.6 336.5,408.1 337.0,386.6 337.5,359.0 338.0,326.1 338.5,289.7 339.0,252.2 339.5,216.3 340.0,184.1 340.5,157.6 341.0,137.4 341.5,123.5 342.0,115.3 342.5,111.4 343.0,110.2 343.5,110.4 344.0,114.2 344.5,122.1 345.0,133.8 345.5,149.0 346.0,167.0 346.5,187.2 347.0,208.9 347.5,231.6 348.0,254.6 348.5,277.3 349.0,299.1 349.5,319.7 350.0,338.8 350.5,356.1 351.0,371.5 351.5,385.0 352.0,396.5 352.5,406.3 353.0,414.4 353.5,420.9 354.0,426.0 354.5,429.8 355.0,432.6 355.5,434.4 356.0,435.0 356.5,435.3 357.0,435.2 357.5,435.0 358.0,434.7 358.5,434.6 359.0,434.7 359.5,435.0 360.0,435.3 360.5,435.7 361.0,436.3 361.5,437.0 362.0,437.8 362.5,438.7 363.0,439.5 363.5,440.4 364.0,441.0 364.5,441.6 365.0,442.1 365.5,442.5 366.0,442.9 366.5,443.1 367.0,443.3 367.5,443.4 368.0,443.5 368.5,443.7 369.0,443.7 369.5,443.7 370.0,443.6 370.5,443.5 371.0,443.4 371.5,443.3 372.0,443.2 372.5,443.2 373.0,443.2 373.5,443.1 374.0,443.2 374.5,443.2 375.0,443.2 375.5,443.3 376.0,443.3 376.5,443.3 377.0,443.2 377.5,443.1 378.0,443.1 378.5,443.0 379.0,443.0 379.5,442.9 380.0,442.8 380.5,442.7 381.0,442.7 381.5,442.6 382.0,442.5 382.5,442.5 383.0,442.5 383.5,442.5 384.0,442.5 384.5,442.5 385.0,442.5 385.5,442.5 386.0,442.5 386.5,442.5 387.0,442.4 387.5,442.3 388.0,442.1 388.5,441.9 389.0,441.7 389.5,441.6 390.0,441.6 390.5,441.5 391.0,441.5 391.5,441.5 392.0,441.5 392.5,441.6 393.0,441.7 393.5,441.8 394.0,441.9 394.5,441.9 395.0,441.8 395.5,441.8 396.0,441.7 396.5,441.6 397.0,441.6 397.5,441.5 398.0,441.4 398.5,441.4 399.0,441.5 399.5,441.5 400.0,441.6 400.5,441.7 401.0,441.7 401.5,441.9 402.0,441.9 402.5,441.9 403.0,441.9 403.5,441.8 404.0,441.7 404.5,441.6 405.0,441.5 405.5,441.3 406.0,441.1 406.5,441.0 407.0,440.9 407.5,440.8 408.0,440.8 408.5,440.7 409.0,440.7 409.5,440.8 410.0,440.8 410.5,440.9 411.0,440.9 411.5,440.9 412.0,440.8 412.5,440.8 413.0,440.7 413.5,440.5 414.0,440.4 414.5,440.2 415.0,440.0 415.5,439.8 416.0,439.7 416.5,439.6 417.0,439.5 417.5,439.4 418.0,439.4 418.5,439.4 419.0,439.5 419.5,439.6 420.0,439.7 420.5,439.8 421.0,439.9 421.5,439.9 422.0,440.1 422.5,440.2 423.0,440.2 423.5,440.3 424.0,440.3 424.5,440.4 425.0,440.4 425.5,440.3 426.0,440.3 426.5,440.3 427.0,440.2 427.5,440.2 428.0,440.2 428.5,440.1 429.0,440.0 429.5,440.0 430.0,439.9 430.5,439.8 431.0,439.7 431.5,439.5 432.0,439.3 432.5,439.1 433.0,438.7 433.5,438.4 434.0,437.9 434.5,437.4 435.0,436.9 435.5,436.3 436.0,435.7 436.5,435.1 437.0,434.6 437.5,434.1 438.0,433.8 438.5,433.6 439.0,433.6 439.5,433.7 440.0,433.9 440.5,434.3 441.0,434.8 441.5,435.4 442.0,435.9 442.5,436.5 443.0,437.0 443.5,437.4 444.0,437.7 444.5,438.0 445.0,438.3 445.5,438.5 446.0,438.6 446.5,438.6 447.0,438.8 447.5,438.8 448.0,438.8 448.5,438.9 449.0,438.8 449.5,438.7 450.0,438.5 450.5,438.3 451.0,438.2 451.5,438.0 452.0,437.8 452.5,437.7 453.0,437.6 453.5,437.4 454.0,437.4 454.5,437.3 455.0,437.3 455.5,437.2 456.0,437.2 456.5,437.2 457.0,437.2 457.5,437.2 458.0,437.2 458.5,437.2 459.0,437.3 459.5,437.4 460.0,437.4 460.5,437.4 461.0,437.4 461.5,437.4 462.0,437.4 462.5,437.3 463.0,437.3 463.5,437.2 464.0,437.2 464.5,437.1 465.0,437.1 465.5,437.1 466.0,437.1 466.5,437.1 467.0,437.0 467.5,436.9 468.0,436.8 468.5,436.6 469.0,436.3 469.5,436.1 470.0,435.9 470.5,435.6 471.0,435.4 471.5,435.2 472.0,435.2 472.5,435.1 473.0,435.0 473.5,435.0 474.0,435.1 474.5,435.1 475.0,435.1 475.5,435.1 476.0,435.1 476.5,435.1 477.0,435.1 477.5,435.1 478.0,435.1 478.5,435.0 479.0,434.9 479.5,434.9 480.0,434.8 480.5,434.6 481.0,434.6 481.5,434.5 482.0,434.4 482.5,434.3 483.0,434.2 483.5,434.2 484.0,434.1 484.5,434.1 485.0,434.0 485.5,433.9 486.0,433.8 486.5,433.6 487.0,433.3 487.5,432.8 488.0,432.5 488.5,430.9 489.0,428.4 489.5,424.8 490.0,419.9 490.5,413.6 491.0,405.9 491.5,397.1 492.0,387.7 492.5,378.3 493.0,369.6 493.5,362.2 494.0,356.8 494.5,353.4 495.0,352.0 495.5,352.3 496.0,354.2 496.5,357.7 497.0,362.7 497.5,368.7 498.0,375.6 498.5,382.8 499.0,390.1 499.5,397.2 500.0,403.8 500.5,409.7 501.0,414.9 501.5,419.3 502.0,422.9 502.5,425.8 503.0,428.0 503.5,429.7 504.0,431.0 504.5,431.9 505.0,432.6 505.5,433.0 506.0,433.2 506.5,433.4 507.0,433.5 507.5,433.5 508.0,433.6 508.5,433.7 509.0,433.7 509.5,433.8 510.0,433.9 510.5,433.9 511.0,434.0 511.5,434.1 512.0,434.0 512.5,434.0 513.0,433.9 513.5,433.8 514.0,433.6 514.5,433.5 515.0,433.4 515.5,433.3 516.0,433.2 516.5,433.2 517.0,433.2 517.5,433.2 518.0,433.2 518.5,433.3 519.0,433.3 519.5,433.2 520.0,433.2 520.5,433.2 521.0,433.1 521.5,432.9 522.0,432.7 522.5,432.6 523.0,432.4 523.5,432.2 524.0,432.1 524.5,432.0 525.0,431.8 525.5,431.8 526.0,431.7 526.5,431.6 527.0,431.6 527.5,431.6 528.0,431.5 528.5,431.4 529.0,431.3 529.5,431.2 530.0,431.2 530.5,431.0 531.0,431.0 531.5,430.9 532.0,430.9 532.5,430.9 533.0,430.9 533.5,431.0 534.0,431.0 534.5,431.0 535.0,431.0 535.5,430.9 536.0,430.8 536.5,430.7 537.0,430.6 537.5,430.5 538.0,430.4 538.5,430.2 539.0,430.1 539.5,430.0 540.0,430.0 540.5,429.9 541.0,430.0 541.5,430.0 542.0,430.1 542.5,430.2 543.0,430.4 543.5,430.6 544.0,430.7 544.5,430.8 545.0,430.8 545.5,430.8 546.0,430.7 546.5,430.5 547.0,430.2 547.5,430.0 548.0,429.7 548.5,429.4 549.0,429.3 549.5,429.3 550.0,429.3 550.5,429.3 551.0,429.5 551.5,429.6 552.0,429.8 552.5,429.9 553.0,429.9 553.5,430.0 554.0,429.9 554.5,429.9 555.0,429.8 555.5,429.7 556.0,429.7 556.5,429.6 557.0,429.6 557.5,429.6 558.0,429.6 558.5,429.6 559.0,429.7 559.5,429.7 560.0,429.7 560.5,429.7 561.0,429.7 561.5,429.7 562.0,429.7 562.5,429.7 563.0,429.6 563.5,429.6 564.0,429.6 564.5,429.5 565.0,429.4 565.5,429.3 566.0,429.1 566.5,429.0 567.0,428.9 567.5,428.7 568.0,428.6 568.5,428.5 569.0,428.5 569.5,428.5 570.0,428.6 570.5,428.7 571.0,428.8 571.5,428.9 572.0,429.0 572.5,429.1 573.0,429.1 573.5,429.1 574.0,429.1 574.5,429.0 575.0,428.9 575.5,428.8 576.0,428.8 576.5,428.8 577.0,428.8 577.5,428.8 578.0,428.9 578.5,428.9 579.0,428.8 579.5,428.7 580.0,428.7 580.5,428.6 581.0,428.4 581.5,428.3 582.0,428.1 582.5,427.8 583.0,427.6 583.5,427.2 584.0,426.7 584.5,426.1 585.0,425.3 585.5,424.3 586.0,423.0 586.5,421.7 587.0,420.3 587.5,419.0 588.0,417.8 588.5,416.8 589.0,416.3 589.5,416.1 590.0,416.3 590.5,416.7 591.0,417.3 591.5,418.2 592.0,419.1 592.5,420.2 593.0,421.2 593.5,422.2 594.0,423.1 594.5,424.0 595.0,424.7 595.5,425.3 596.0,425.8 596.5,426.1 597.0,426.3 597.5,426.5 598.0,426.7 598.5,426.8 599.0,426.8 599.5,426.9 600.0,427.0 600.5,427.0 601.0,427.1 601.5,427.1 602.0,427.2 602.5,427.3 603.0,427.2 603.5,427.2 604.0,427.2 604.5,427.3 605.0,427.3 605.5,427.3 606.0,427.3 606.5,427.3 607.0,427.3 607.5,427.3 608.0,427.3 608.5,427.3 609.0,427.3 609.5,427.2 610.0,427.2 610.5,427.1 611.0,427.0 611.5,426.9 612.0,426.7 612.5,426.6 613.0,426.5 613.5,426.4 614.0,426.3 614.5,426.3 615.0,426.2 615.5,426.2 616.0,426.2 616.5,426.3 617.0,426.3 617.5,426.4 618.0,426.4 618.5,426.4 619.0,426.4 619.5,426.3 620.0,426.3 620.5,426.3 621.0,426.2 621.5,426.1 622.0,426.1 622.5,426.0 623.0,425.9 623.5,425.8 624.0,425.6 624.5,425.5 625.0,425.4 625.5,425.2 626.0,425.1 626.5,425.0 627.0,424.9 627.5,424.9 628.0,424.8 628.5,424.8 629.0,424.8 629.5,424.8 630.0,424.8 630.5,424.8 631.0,424.9 631.5,424.9 632.0,424.9 632.5,425.0 633.0,425.1 633.5,425.1 634.0,425.2 634.5,425.3 635.0,425.4 635.5,425.5 636.0,425.5 636.5,425.6 637.0,425.5 637.5,425.6 638.0,425.6 638.5,425.5 639.0,425.5 639.5,425.4 640.0,425.4 640.5,425.4 641.0,425.3 641.5,425.4 642.0,425.4 642.5,425.3 643.0,425.3 643.5,425.2 644.0,425.1 644.5,425.0 645.0,424.9 645.5,424.8 646.0,424.6 646.5,424.5 647.0,424.4 647.5,424.3 648.0,424.1 648.5,424.1 649.0,424.0 649.5,423.9 650.0,423.8 650.5,423.8 651.0,423.7 651.5,423.7 652.0,423.6 652.5,423.5 653.0,423.5 653.5,423.5 654.0,423.5 654.5,423.5 655.0,423.6 655.5,423.7 656.0,423.7 656.5,423.9 657.0,423.9 657.5,424.0 658.0,424.0 658.5,424.0 659.0,423.9 659.5,423.8 660.0,423.7 660.5,423.6 661.0,423.4 661.5,423.2 662.0,423.0 662.5,422.9 663.0,422.8 663.5,422.6 664.0,422.5 664.5,422.4 665.0,422.3 665.5,422.3 666.0,422.2 666.5,422.2 667.0,422.2 667.5,422.2 668.0,422.3 668.5,422.3 669.0,422.4 669.5,422.4 670.0,422.5 670.5,422.6 671.0,422.6 671.5,422.7 672.0,422.8 672.5,422.8 673.0,422.8 673.5,422.8 674.0,422.8 674.5,422.7 675.0,422.6 675.5,422.5 676.0,422.4 676.5,422.3 677.0,422.1 677.5,422.1 678.0,421.9 678.5,421.8 679.0,421.7 679.5,421.5 680.0,421.4 680.5,421.2 681.0,421.1 681.5,420.9 682.0,420.9 682.5,420.9 683.0,420.9 683.5,421.0 684.0,421.2 684.5,421.3 685.0,421.5 685.5,421.7 686.0,421.7 686.5,421.7 687.0,421.7 687.5,421.6 688.0,421.4 688.5,421.2 689.0,420.9 689.5,420.7 690.0,420.4 690.5,420.2 691.0,420.0 691.5,419.9 692.0,419.9 692.5,419.9 693.0,419.9 693.5,420.0 694.0,420.1 694.5,420.3 695.0,420.4 695.5,420.6 696.0,420.8 696.5,420.9 697.0,421.1 697.5,421.2 698.0,421.3 698.5,421.3 699.0,421.3 699.5,421.3 700.0,421.1 700.5,421.0 701.0,420.7 701.5,420.6 702.0,420.4 702.5,420.2 703.0,420.1 703.5,420.1 704.0,420.1 704.5,420.2 705.0,420.4 705.5,420.6 706.0,420.7 706.5,420.9 707.0,420.9 707.5,420.9 708.0,420.8 708.5,420.7 709.0,420.4 709.5,420.3 710.0,420.1 710.5,419.9 711.0,419.8 711.5,419.7 712.0,419.7 712.5,419.7 713.0,419.7 713.5,419.8 714.0,419.7 714.5,419.7 715.0,419.6 715.5,419.5 716.0,419.4 716.5,419.3 717.0,419.3 717.5,419.3 718.0,419.2 718.5,419.3 719.0,419.3 719.5,419.4 720.0,419.4 720.5,419.5 721.0,419.5 721.5,419.5 722.0,419.4" fill="none" stroke="#4472C4" stroke-width="1.9" stroke-linejoin="round" stroke-linecap="round"/>
<path d="M848.0,400.6 848.5,400.5 849.0,400.5 849.5,400.5 850.0,400.4 850.5,400.3 851.0,400.1 851.5,399.9 852.0,399.8 852.5,399.6 853.0,399.5 853.5,399.4 854.0,399.3 854.5,399.2 855.0,399.2 855.5,399.1 856.0,399.1 856.5,399.1 857.0,399.2 857.5,399.2 858.0,399.2 858.5,399.3 859.0,399.3 859.5,399.4 860.0,399.4 860.5,399.5 861.0,399.5 861.5,399.5 862.0,399.5 862.5,399.4 863.0,399.4 863.5,399.3 864.0,399.2 864.5,399.2 865.0,399.1 865.5,399.1 866.0,399.1 866.5,399.1 867.0,399.1 867.5,399.2 868.0,399.3 868.5,399.5 869.0,399.6 869.5,399.7 870.0,399.8 870.5,399.9 871.0,400.0 871.5,400.0 872.0,400.0 872.5,400.0 873.0,400.0 873.5,400.0 874.0,400.0 874.5,400.1 875.0,400.1 875.5,400.2 876.0,400.2 876.5,400.3 877.0,400.3 877.5,400.3 878.0,400.4 878.5,400.4 879.0,400.3 879.5,400.3 880.0,400.3 880.5,400.3 881.0,400.2 881.5,400.1 882.0,400.1 882.5,400.0 883.0,400.0 883.5,400.0 884.0,400.0 884.5,400.1 885.0,400.1 885.5,400.2 886.0,400.3 886.5,400.3 887.0,400.3 887.5,400.3 888.0,400.3 888.5,400.2 889.0,400.1 889.5,400.0 890.0,400.0 890.5,399.8 891.0,399.8 891.5,399.7 892.0,399.6 892.5,399.5 893.0,399.5 893.5,399.4 894.0,399.2 894.5,399.1 895.0,399.0 895.5,398.9 896.0,398.8 896.5,398.8 897.0,398.8 897.5,398.8 898.0,398.8 898.5,398.8 899.0,398.9 899.5,398.9 900.0,399.0 900.5,399.0 901.0,399.0 901.5,398.9 902.0,398.8 902.5,398.7 903.0,398.6 903.5,398.5 904.0,398.4 904.5,398.4 905.0,398.3 905.5,398.3 906.0,398.4 906.5,398.6 907.0,398.7 907.5,398.9 908.0,399.0 908.5,399.2 909.0,399.3 909.5,399.4 910.0,399.5 910.5,399.5 911.0,399.5 911.5,399.4 912.0,399.4 912.5,399.3 913.0,399.3 913.5,399.3 914.0,399.2 914.5,399.2 915.0,399.2 915.5,399.2 916.0,399.1 916.5,399.0 917.0,399.0 917.5,398.9 918.0,398.9 918.5,398.8 919.0,398.8 919.5,398.7 920.0,398.6 920.5,398.5 921.0,398.4 921.5,398.3 922.0,398.2 922.5,398.4 923.0,398.3 923.5,398.1 924.0,397.9 924.5,397.6 925.0,397.4 925.5,397.0 926.0,396.6 926.5,396.2 927.0,395.7 927.5,395.1 928.0,394.5 928.5,393.8 929.0,393.0 929.5,392.1 930.0,391.2 930.5,390.2 931.0,389.1 931.5,388.0 932.0,386.8 932.5,385.6 933.0,384.4 933.5,383.1 934.0,381.9 934.5,380.6 935.0,379.4 935.5,378.3 936.0,377.2 936.5,376.1 937.0,375.2 937.5,374.4 938.0,373.7 938.5,373.1 939.0,372.7 939.5,372.4 940.0,372.4 940.5,372.4 941.0,372.5 941.5,372.7 942.0,373.1 942.5,373.5 943.0,373.9 943.5,374.5 944.0,375.2 944.5,375.9 945.0,376.6 945.5,377.5 946.0,378.4 946.5,379.3 947.0,380.2 947.5,381.1 948.0,382.1 948.5,383.1 949.0,384.0 949.5,384.9 950.0,385.8 950.5,386.7 951.0,387.6 951.5,388.4 952.0,389.2 952.5,389.9 953.0,390.6 953.5,391.3 954.0,391.9 954.5,392.5 955.0,393.0 955.5,393.5 956.0,393.9 956.5,394.3 957.0,394.7 957.5,395.1 958.0,395.4 958.5,395.6 959.0,395.8 959.5,396.1 960.0,396.2 960.5,396.4 961.0,396.5 961.5,396.6 962.0,396.7 962.5,396.8 963.0,396.4 963.5,396.4 964.0,396.4 964.5,396.5 965.0,396.5 965.5,396.6 966.0,396.7 966.5,396.8 967.0,396.8 967.5,396.9 968.0,396.9 968.5,396.9 969.0,396.9 969.5,396.8 970.0,396.8 970.5,396.6 971.0,396.6 971.5,396.5 972.0,396.4 972.5,396.4 973.0,396.4 973.5,396.4 974.0,396.4 974.5,396.5 975.0,396.6 975.5,396.7 976.0,396.9 976.5,397.0 977.0,397.1 977.5,397.2 978.0,397.4 978.5,397.4 979.0,397.4 979.5,397.4 980.0,397.3 980.5,397.2 981.0,397.0 981.5,396.8 982.0,396.6 982.5,396.5 983.0,396.3 983.5,396.2 984.0,396.1 984.5,396.1 985.0,396.1 985.5,396.1 986.0,396.2 986.5,396.3 987.0,396.3 987.5,396.3 988.0,396.3 988.5,396.3 989.0,396.3 989.5,396.3 990.0,396.3 990.5,396.2 991.0,396.2 991.5,396.2 992.0,396.2 992.5,396.1 993.0,396.1 993.5,396.1 994.0,396.0 994.5,396.0 995.0,395.9 995.5,395.9 996.0,395.8 996.5,395.8 997.0,395.7 997.5,395.7 998.0,395.7 998.5,395.8 999.0,395.8 999.5,395.9 1000.0,396.0 1000.5,396.0 1001.0,396.1 1001.5,396.1 1002.0,396.1 1002.5,396.0 1003.0,395.9 1003.5,395.8 1004.0,395.7 1004.5,395.6 1005.0,395.5 1005.5,395.5 1006.0,395.4 1006.5,395.4 1007.0,395.3 1007.5,395.4 1008.0,395.3 1008.5,395.3 1009.0,395.3 1009.5,395.3 1010.0,395.3 1010.5,395.2 1011.0,395.2 1011.5,395.2 1012.0,395.1 1012.5,395.1 1013.0,395.0 1013.5,394.9 1014.0,394.9 1014.5,394.8 1015.0,394.8 1015.5,394.7 1016.0,394.7 1016.5,394.7 1017.0,394.7 1017.5,394.8 1018.0,394.8 1018.5,394.9 1019.0,394.9 1019.5,394.9 1020.0,394.9 1020.5,394.9 1021.0,394.8 1021.5,394.7 1022.0,394.6 1022.5,394.5 1023.0,394.3 1023.5,394.2 1024.0,394.0 1024.5,393.9 1025.0,393.8 1025.5,393.6 1026.0,393.6 1026.5,393.5 1027.0,393.5 1027.5,393.6 1028.0,393.6 1028.5,393.6 1029.0,393.7 1029.5,393.8 1030.0,393.9 1030.5,393.9 1031.0,394.0 1031.5,394.0 1032.0,394.0 1032.5,394.0 1033.0,394.0 1033.5,394.0 1034.0,393.9 1034.5,393.9 1035.0,393.8 1035.5,393.6 1036.0,393.5 1036.5,393.4 1037.0,393.2 1037.5,393.1 1038.0,392.9 1038.5,392.8 1039.0,392.7 1039.5,392.5 1040.0,392.4 1040.5,392.3 1041.0,392.3 1041.5,392.2 1042.0,392.2 1042.5,392.1 1043.0,392.1 1043.5,392.1 1044.0,392.1 1044.5,392.1 1045.0,392.1 1045.5,392.2 1046.0,392.2 1046.5,392.3 1047.0,392.3 1047.5,392.3 1048.0,392.4 1048.5,392.5 1049.0,392.6 1049.5,392.7 1050.0,392.8 1050.5,392.9 1051.0,393.0 1051.5,393.1 1052.0,393.2 1052.5,393.2 1053.0,393.1 1053.5,393.1 1054.0,393.0 1054.5,392.9 1055.0,392.7 1055.5,392.5 1056.0,392.2 1056.5,392.0 1057.0,391.8 1057.5,391.6 1058.0,391.4 1058.5,391.4 1059.0,391.3 1059.5,391.3 1060.0,391.3 1060.5,391.4 1061.0,391.4 1061.5,391.4 1062.0,391.3 1062.5,391.3 1063.0,391.2 1063.5,391.1 1064.0,390.9 1064.5,390.8 1065.0,390.7 1065.5,390.6 1066.0,390.6 1066.5,390.6 1067.0,390.6 1067.5,390.6 1068.0,390.7 1068.5,390.7 1069.0,390.7 1069.5,390.8 1070.0,390.8 1070.5,390.8 1071.0,390.8 1071.5,390.9 1072.0,390.8 1072.5,390.8 1073.0,390.8 1073.5,390.7 1074.0,390.6 1074.5,390.5 1075.0,390.2 1075.5,389.7 1076.0,388.8 1076.5,387.2 1077.0,384.5 1077.5,380.4 1078.0,374.3 1078.5,365.9 1079.0,355.1 1079.5,342.2 1080.0,327.7 1080.5,312.7 1081.0,298.2 1081.5,285.2 1082.0,274.6 1082.5,266.9 1083.0,262.2 1083.5,259.9 1084.0,259.4 1084.5,260.4 1085.0,263.4 1085.5,268.4 1086.0,275.0 1086.5,283.0 1087.0,292.0 1087.5,301.7 1088.0,311.6 1088.5,321.5 1089.0,331.0 1089.5,339.9 1090.0,348.1 1090.5,355.3 1091.0,361.6 1091.5,367.0 1092.0,371.5 1092.5,375.2 1093.0,378.1 1093.5,380.4 1094.0,382.1 1094.5,383.4 1095.0,384.4 1095.5,385.1 1096.0,385.6 1096.5,386.0 1097.0,386.3 1097.5,386.5 1098.0,386.8 1098.5,387.0 1099.0,387.1 1099.5,387.3 1100.0,387.4 1100.5,387.4 1101.0,387.5 1101.5,387.5 1102.0,387.5 1102.5,387.4 1103.0,387.3 1103.5,387.2 1104.0,387.0 1104.5,386.8 1105.0,386.4 1105.5,385.6 1106.0,383.8 1106.5,381.9 1107.0,378.9 1107.5,374.6 1108.0,368.9 1108.5,362.2 1109.0,354.8 1109.5,347.6 1110.0,341.1 1110.5,336.0 1111.0,332.5 1111.5,330.6 1112.0,330.0 1112.5,330.2 1113.0,331.5 1113.5,333.9 1114.0,337.0 1114.5,340.7 1115.0,344.9 1115.5,349.3 1116.0,353.8 1116.5,358.1 1117.0,362.2 1117.5,366.0 1118.0,369.4 1118.5,372.3 1119.0,374.9 1119.5,377.0 1120.0,378.7 1120.5,380.1 1121.0,381.2 1121.5,382.0 1122.0,382.6 1122.5,383.1 1123.0,382.8 1123.5,383.1 1124.0,383.4 1124.5,383.6 1125.0,383.7 1125.5,383.8 1126.0,383.7 1126.5,383.6 1127.0,383.3 1127.5,382.9 1128.0,382.5 1128.5,382.1 1129.0,381.7 1129.5,381.4 1130.0,381.3 1130.5,381.3 1131.0,381.4 1131.5,381.6 1132.0,381.9 1132.5,382.2 1133.0,382.5 1133.5,382.8 1134.0,383.1 1134.5,383.4 1135.0,383.6 1135.5,383.8 1136.0,384.0 1136.5,384.2 1137.0,384.3 1137.5,384.4 1138.0,384.4 1138.5,384.4 1139.0,384.3 1139.5,384.1 1140.0,384.0 1140.5,383.9 1141.0,383.9 1141.5,383.8 1142.0,383.8 1142.5,383.7 1143.0,383.7 1143.5,383.7 1144.0,383.7 1144.5,383.6 1145.0,383.6 1145.5,383.5 1146.0,383.4 1146.5,383.3 1147.0,383.1 1147.5,383.0 1148.0,382.9 1148.5,382.8 1149.0,382.7 1149.5,382.6 1150.0,382.4 1150.5,382.3 1151.0,382.3 1151.5,382.2 1152.0,382.2 1152.5,382.2 1153.0,382.2 1153.5,382.2 1154.0,382.3 1154.5,382.5 1155.0,382.6 1155.5,382.8 1156.0,382.9 1156.5,382.9 1157.0,383.0 1157.5,383.0 1158.0,382.9 1158.5,382.8 1159.0,382.7 1159.5,382.4 1160.0,382.2 1160.5,382.0 1161.0,381.8 1161.5,381.6 1162.0,381.4 1162.5,381.2 1163.0,381.0 1163.5,380.8 1164.0,380.7 1164.5,380.6 1165.0,380.5 1165.5,380.4 1166.0,380.4 1166.5,380.4 1167.0,380.5 1167.5,380.5 1168.0,380.6 1168.5,380.7 1169.0,380.8 1169.5,380.8 1170.0,380.9 1170.5,380.8 1171.0,380.8 1171.5,380.7 1172.0,380.6 1172.5,380.6 1173.0,380.6 1173.5,380.6 1174.0,380.6 1174.5,380.6 1175.0,380.6 1175.5,380.6 1176.0,380.6 1176.5,380.6 1177.0,380.6 1177.5,380.5 1178.0,380.4 1178.5,380.3 1179.0,380.2 1179.5,380.1 1180.0,380.1 1180.5,380.0 1181.0,379.9 1181.5,379.9 1182.0,379.9 1182.5,379.9 1183.0,380.0 1183.5,380.0 1184.0,380.0 1184.5,380.0 1185.0,380.1 1185.5,380.0 1186.0,380.0 1186.5,380.0 1187.0,379.9 1187.5,379.9 1188.0,379.8 1188.5,379.8 1189.0,379.8 1189.5,379.7 1190.0,379.7 1190.5,379.7 1191.0,379.7 1191.5,379.7 1192.0,379.6 1192.5,379.6 1193.0,379.5 1193.5,379.4 1194.0,379.3 1194.5,379.2 1195.0,379.2 1195.5,379.1 1196.0,379.1 1196.5,379.2 1197.0,379.2 1197.5,379.2 1198.0,379.2 1198.5,379.2 1199.0,379.2 1199.5,379.2 1200.0,379.2 1200.5,379.1 1201.0,379.1 1201.5,379.0 1202.0,379.0 1202.5,379.0 1203.0,379.0 1203.5,379.0 1204.0,379.1 1204.5,379.0 1205.0,379.0 1205.5,379.0 1206.0,379.0 1206.5,379.0 1207.0,378.9 1207.5,378.9 1208.0,378.9 1208.5,378.8 1209.0,378.8 1209.5,378.8 1210.0,378.8 1210.5,378.8 1211.0,378.7 1211.5,378.6 1212.0,378.5 1212.5,378.5 1213.0,378.4 1213.5,378.3 1214.0,378.2 1214.5,378.1 1215.0,378.0 1215.5,377.9 1216.0,377.7 1216.5,377.6 1217.0,377.5 1217.5,377.3 1218.0,377.2 1218.5,377.1 1219.0,377.0 1219.5,377.0 1220.0,377.1 1220.5,377.1 1221.0,377.2 1221.5,377.3 1222.0,377.4 1222.5,377.4 1223.0,377.5 1223.5,377.5 1224.0,377.4 1224.5,377.4 1225.0,377.3 1225.5,377.2 1226.0,377.1 1226.5,377.0 1227.0,377.0 1227.5,377.1 1228.0,377.0 1228.5,377.0 1229.0,377.0 1229.5,376.9 1230.0,377.0 1230.5,376.9 1231.0,376.8 1231.5,376.8 1232.0,376.8 1232.5,376.8 1233.0,376.9 1233.5,377.0 1234.0,377.0 1234.5,377.1 1235.0,377.2 1235.5,377.1 1236.0,377.1 1236.5,377.1 1237.0,377.0 1237.5,376.9 1238.0,376.7 1238.5,376.5 1239.0,376.4 1239.5,376.1 1240.0,375.8 1240.5,375.5 1241.0,375.2 1241.5,374.8 1242.0,374.4 1242.5,374.0 1243.0,373.6 1243.5,373.1 1244.0,372.7 1244.5,372.4 1245.0,372.1 1245.5,371.8 1246.0,371.6 1246.5,371.4 1247.0,371.3 1247.5,371.2 1248.0,371.0 1248.5,370.5 1249.0,368.9 1249.5,367.6 1250.0,365.5 1250.5,362.2 1251.0,357.6 1251.5,351.6 1252.0,344.0 1252.5,335.0 1253.0,325.0 1253.5,314.5 1254.0,304.0 1254.5,294.1 1255.0,285.4 1255.5,278.4 1256.0,273.2 1256.5,270.0 1257.0,268.4 1257.5,268.0 1258.0,269.6 1258.5,273.1 1259.0,277.6 1259.5,283.0 1260.0,289.0 1260.5,295.4 1261.0,301.9 1261.5,308.4 1262.0,314.9 1262.5,321.1 1263.0,327.0 1263.5,332.5 1264.0,337.6 1264.5,342.3 1265.0,346.6 1265.5,350.4 1266.0,353.8 1266.5,356.8 1267.0,359.5 1267.5,361.8 1268.0,363.8 1268.5,365.5 1269.0,366.9 1269.5,368.1 1270.0,369.1 1270.5,370.0 1271.0,370.6 1271.5,371.2 1272.0,371.9 1272.5,372.2 1273.0,372.5 1273.5,372.6 1274.0,372.7 1274.5,372.7 1275.0,372.8 1275.5,372.8 1276.0,372.8 1276.5,372.8 1277.0,372.8 1277.5,372.7 1278.0,372.7 1278.5,372.8 1279.0,372.8 1279.5,372.8 1280.0,372.9 1280.5,372.9 1281.0,372.9 1281.5,373.0 1282.0,373.1 1282.5,373.2 1283.0,373.2 1283.5,373.2 1284.0,373.3 1284.5,373.2 1285.0,373.2 1285.5,373.1 1286.0,373.0 1286.5,372.9 1287.0,372.7 1287.5,372.6 1288.0,372.5 1288.5,372.5 1289.0,372.5 1289.5,372.5 1290.0,372.6 1290.5,372.6 1291.0,372.7 1291.5,372.7 1292.0,372.7 1292.5,372.7 1293.0,372.7 1293.5,372.5 1294.0,372.4 1294.5,372.3 1295.0,372.2 1295.5,372.0 1296.0,372.0 1296.5,371.9 1297.0,371.9 1297.5,371.9 1298.0,371.8 1298.5,371.9 1299.0,371.9 1299.5,371.9 1300.0,371.9 1300.5,371.9 1301.0,371.9 1301.5,371.9 1302.0,371.9 1302.5,371.9 1303.0,372.0 1303.5,372.0 1304.0,372.1 1304.5,372.0 1305.0,372.0 1305.5,371.9 1306.0,371.8 1306.5,371.7 1307.0,371.5 1307.5,371.3 1308.0,371.2 1308.5,371.1 1309.0,371.0 1309.5,371.1 1310.0,371.2 1310.5,371.3 1311.0,371.5 1311.5,371.6 1312.0,371.8 1312.5,371.9 1313.0,372.0 1313.5,372.0 1314.0,372.0 1314.5,371.9 1315.0,371.7 1315.5,371.6 1316.0,371.5 1316.5,371.3 1317.0,371.2 1317.5,371.2 1318.0,371.2 1318.5,371.2 1319.0,371.3 1319.5,371.3 1320.0,371.3 1320.5,371.3 1321.0,371.3 1321.5,371.2 1322.0,371.1 1322.5,371.0 1323.0,370.8 1323.5,370.7 1324.0,370.6 1324.5,370.5 1325.0,370.4 1325.5,370.3 1326.0,370.3 1326.5,370.2 1327.0,370.1 1327.5,370.0 1328.0,369.9 1328.5,369.8 1329.0,369.7 1329.5,369.5 1330.0,369.4 1330.5,369.3 1331.0,369.2 1331.5,369.2 1332.0,369.2 1332.5,369.3 1333.0,369.3 1333.5,369.5 1334.0,369.6 1334.5,369.7 1335.0,369.9 1335.5,370.1 1336.0,370.2 1336.5,370.3 1337.0,370.5 1337.5,370.5 1338.0,370.5 1338.5,370.5 1339.0,370.4 1339.5,370.3 1340.0,370.2 1340.5,370.0 1341.0,369.8 1341.5,369.6 1342.0,369.4 1342.5,369.1 1343.0,368.7 1343.5,368.3 1344.0,367.7 1344.5,367.0 1345.0,366.2 1345.5,365.3 1346.0,364.3 1346.5,363.2 1347.0,362.0 1347.5,360.8 1348.0,359.7 1348.5,358.6 1349.0,357.7 1349.5,357.0 1350.0,356.3 1350.5,355.7 1351.0,355.1 1351.5,354.5 1352.0,353.7 1352.5,352.7 1353.0,351.4 1353.5,349.7 1354.0,347.7 1354.5,345.2 1355.0,342.5 1355.5,339.6 1356.0,336.8 1356.5,334.2 1357.0,331.9 1357.5,330.2 1358.0,329.3 1358.5,329.1 1359.0,330.1 1359.5,331.7 1360.0,333.7 1360.5,335.9 1361.0,338.3 1361.5,340.7 1362.0,343.1 1362.5,345.5 1363.0,347.8 1363.5,350.0 1364.0,352.0 1364.5,353.9 1365.0,355.5 1365.5,357.1 1366.0,358.4 1366.5,359.6 1367.0,360.6 1367.5,361.5 1368.0,362.3 1368.5,362.9 1369.0,363.4 1369.5,363.8 1370.0,364.1 1370.5,364.3 1371.0,364.5 1371.5,364.7 1372.0,364.4 1372.5,364.6 1373.0,364.9 1373.5,365.1 1374.0,365.3 1374.5,365.5 1375.0,365.6 1375.5,365.6 1376.0,365.6 1376.5,365.5 1377.0,365.4 1377.5,365.2 1378.0,365.1 1378.5,364.9 1379.0,364.7 1379.5,364.6 1380.0,364.5 1380.5,364.5 1381.0,364.4 1381.5,364.4 1382.0,364.4 1382.5,364.4 1383.0,364.3 1383.5,364.2 1384.0,364.1 1384.5,364.1 1385.0,364.0 1385.5,363.9 1386.0,363.9 1386.5,363.9 1387.0,363.9 1387.5,363.8 1388.0,363.9 1388.5,363.9 1389.0,363.9 1389.5,363.9 1390.0,363.9 1390.5,363.9 1391.0,363.8 1391.5,363.8 1392.0,363.8 1392.5,363.8 1393.0,363.8 1393.5,363.8 1394.0,363.8 1394.5,363.8 1395.0,363.8 1395.5,363.7 1396.0,363.8 1396.5,363.7 1397.0,363.7 1397.5,363.6 1398.0,363.5 1398.5,363.5 1399.0,363.4 1399.5,363.3 1400.0,363.2 1400.5,363.1 1401.0,363.0 1401.5,362.9 1402.0,362.7 1402.5,362.6 1403.0,362.5 1403.5,362.4 1404.0,362.4 1404.5,362.4 1405.0,362.4 1405.5,362.5 1406.0,362.6 1406.5,362.6 1407.0,362.7 1407.5,362.7 1408.0,362.6 1408.5,362.3 1409.0,361.8 1409.5,361.1 1410.0,360.1 1410.5,359.0 1411.0,357.7 1411.5,356.2 1412.0,354.7 1412.5,353.2 1413.0,351.8 1413.5,350.5 1414.0,349.3 1414.5,348.2 1415.0,347.3 1415.5,346.5 1416.0,345.6 1416.5,344.8 1417.0,343.9 1417.5,342.8 1418.0,341.4 1418.5,339.7 1419.0,337.8 1419.5,335.8 1420.0,333.9 1420.5,332.4 1421.0,331.6 1421.5,331.8 1422.0,332.9 1422.5,334.3 1423.0,336.0 1423.5,337.7 1424.0,339.4 1424.5,340.9 1425.0,342.4 1425.5,343.7 1426.0,345.0 1426.5,346.2 1427.0,347.3 1427.5,348.4 1428.0,349.5 1428.5,350.7 1429.0,351.9 1429.5,353.0 1430.0,354.1 1430.5,355.2 1431.0,356.2 1431.5,357.2 1432.0,358.1 1432.5,358.8 1433.0,359.5 1433.5,360.1 1434.0,360.6 1434.5,360.9 1435.0,361.2 1435.5,361.4 1436.0,361.7 1436.5,361.8 1437.0,361.9 1437.5,362.0 1438.0,362.1 1438.5,362.2 1439.0,362.2 1439.5,362.1 1440.0,362.1 1440.5,362.1 1441.0,362.0 1441.5,361.9 1442.0,361.8 1442.5,361.7 1443.0,361.6 1443.5,361.5 1444.0,361.4 1444.5,361.3 1445.0,361.1 1445.5,361.0 1446.0,360.9 1446.5,360.8 1447.0,360.8 1447.5,360.8 1448.0,360.8 1448.5,360.8 1449.0,360.9 1449.5,361.0 1450.0,361.1 1450.5,361.2 1451.0,361.3 1451.5,361.4 1452.0,361.5 1452.5,361.6 1453.0,361.6 1453.5,361.6 1454.0,361.6 1454.5,361.5 1455.0,361.3 1455.5,361.0 1456.0,360.7 1456.5,360.3 1457.0,359.8 1457.5,359.2 1458.0,358.7 1458.5,358.1 1459.0,357.5 1459.5,356.8 1460.0,356.3 1460.5,355.7 1461.0,355.2 1461.5,354.6 1462.0,354.1 1462.5,353.6 1463.0,353.2 1463.5,352.8 1464.0,352.5 1464.5,352.2 1465.0,351.9 1465.5,351.6 1466.0,351.3 1466.5,350.9 1467.0,350.5 1467.5,350.0 1468.0,349.4 1468.5,348.7 1469.0,348.0 1469.5,347.4 1470.0,347.0 1470.5,346.9 1471.0,347.2 1471.5,347.7 1472.0,348.2 1472.5,348.8 1473.0,349.5 1473.5,350.1 1474.0,350.7 1474.5,351.3 1475.0,351.9 1475.5,352.3 1476.0,352.8 1476.5,353.2 1477.0,353.6 1477.5,354.0 1478.0,354.4 1478.5,354.7 1479.0,355.0 1479.5,355.4 1480.0,355.6 1480.5,356.0 1481.0,356.2 1481.5,356.5 1482.0,356.7 1482.5,357.0 1483.0,357.2 1483.5,357.4 1484.0,357.6 1484.5,357.8 1485.0,357.9 1485.5,358.0 1486.0,358.1 1486.5,358.1 1487.0,358.1 1487.5,358.1 1488.0,358.0 1488.5,357.9 1489.0,357.7 1489.5,357.6 1490.0,357.4 1490.5,357.3 1491.0,357.0 1491.5,356.8 1492.0,356.6 1492.5,356.3 1493.0,356.1 1493.5,355.8 1494.0,355.6 1494.5,355.3 1495.0,355.1 1495.5,354.8 1496.0,354.7 1496.5,354.5" fill="none" stroke="#70AD47" stroke-width="1.9" stroke-linejoin="round" stroke-linecap="round"/>
<path d="M848.0,419.7 848.5,419.7 849.0,419.7 849.5,419.7 850.0,419.7 850.5,419.7 851.0,419.6 851.5,419.6 852.0,419.6 852.5,419.5 853.0,419.4 853.5,419.4 854.0,419.4 854.5,419.4 855.0,419.3 855.5,419.3 856.0,419.3 856.5,419.2 857.0,419.2 857.5,419.1 858.0,419.0 858.5,419.0 859.0,419.0 859.5,419.0 860.0,419.0 860.5,419.0 861.0,419.2 861.5,419.2 862.0,419.3 862.5,419.4 863.0,419.4 863.5,419.5 864.0,419.5 864.5,419.5 865.0,419.5 865.5,419.5 866.0,419.5 866.5,419.5 867.0,419.5 867.5,419.4 868.0,419.3 868.5,419.3 869.0,419.3 869.5,419.3 870.0,419.4 870.5,419.5 871.0,419.6 871.5,419.8 872.0,420.0 872.5,420.1 873.0,420.3 873.5,420.3 874.0,420.3 874.5,420.4 875.0,420.4 875.5,420.4 876.0,420.5 876.5,420.5 877.0,420.5 877.5,420.5 878.0,420.5 878.5,420.5 879.0,420.4 879.5,420.3 880.0,420.2 880.5,420.1 881.0,420.0 881.5,420.0 882.0,419.9 882.5,420.0 883.0,419.9 883.5,419.9 884.0,420.0 884.5,420.1 885.0,420.0 885.5,420.1 886.0,420.1 886.5,420.0 887.0,419.9 887.5,419.8 888.0,419.7 888.5,419.7 889.0,419.6 889.5,419.5 890.0,419.4 890.5,419.4 891.0,419.4 891.5,419.4 892.0,419.4 892.5,419.4 893.0,419.3 893.5,419.3 894.0,419.1 894.5,419.0 895.0,419.0 895.5,418.8 896.0,418.7 896.5,418.5 897.0,418.4 897.5,418.4 898.0,418.3 898.5,418.4 899.0,418.4 899.5,418.5 900.0,418.6 900.5,418.8 901.0,419.0 901.5,419.2 902.0,419.4 902.5,419.7 903.0,419.9 903.5,420.0 904.0,420.1 904.5,420.2 905.0,420.2 905.5,420.1 906.0,420.0 906.5,419.9 907.0,419.8 907.5,419.6 908.0,419.5 908.5,419.5 909.0,419.4 909.5,419.4 910.0,419.4 910.5,419.5 911.0,419.5 911.5,419.5 912.0,419.5 912.5,419.5 913.0,419.4 913.5,419.4 914.0,419.2 914.5,419.2 915.0,419.1 915.5,419.0 916.0,419.0 916.5,419.0 917.0,419.0 917.5,419.0 918.0,419.0 918.5,419.1 919.0,419.1 919.5,419.2 920.0,419.2 920.5,419.3 921.0,419.5 921.5,419.6 922.0,419.6 922.5,419.7 923.0,419.6 923.5,419.6 924.0,419.6 924.5,419.5 925.0,419.4 925.5,419.4 926.0,419.4 926.5,419.4 927.0,419.6 927.5,419.7 928.0,419.8 928.5,419.9 929.0,419.9 929.5,419.7 930.0,419.6 930.5,419.3 931.0,419.0 931.5,418.6 932.0,418.1 932.5,417.7 933.0,417.3 933.5,416.9 934.0,416.5 934.5,416.2 935.0,415.8 935.5,415.4 936.0,415.1 936.5,414.7 937.0,414.3 937.5,413.8 938.0,413.4 938.5,412.9 939.0,412.4 939.5,412.0 940.0,411.6 940.5,411.3 941.0,411.0 941.5,410.7 942.0,410.5 942.5,410.3 943.0,410.2 943.5,410.1 944.0,410.0 944.5,410.0 945.0,409.9 945.5,409.8 946.0,409.8 946.5,409.7 947.0,409.7 947.5,409.7 948.0,409.8 948.5,409.9 949.0,410.0 949.5,410.3 950.0,410.6 950.5,410.9 951.0,411.3 951.5,411.6 952.0,412.0 952.5,412.3 953.0,412.6 953.5,412.9 954.0,413.2 954.5,413.5 955.0,413.7 955.5,414.0 956.0,414.2 956.5,414.5 957.0,414.8 957.5,415.0 958.0,415.2 958.5,415.4 959.0,415.6 959.5,415.7 960.0,415.8 960.5,415.9 961.0,416.0 961.5,416.1 962.0,416.1 962.5,416.2 963.0,416.2 963.5,416.2 964.0,416.2 964.5,416.3 965.0,416.3 965.5,416.4 966.0,416.4 966.5,416.4 967.0,416.4 967.5,416.4 968.0,416.4 968.5,416.3 969.0,416.2 969.5,416.2 970.0,416.1 970.5,416.0 971.0,415.8 971.5,415.7 972.0,415.6 972.5,415.5 973.0,415.3 973.5,415.2 974.0,415.1 974.5,415.1 975.0,415.1 975.5,415.1 976.0,415.2 976.5,415.3 977.0,415.5 977.5,415.7 978.0,415.8 978.5,416.0 979.0,416.1 979.5,416.1 980.0,416.0 980.5,416.0 981.0,415.9 981.5,415.9 982.0,415.8 982.5,415.7 983.0,415.6 983.5,415.5 984.0,415.5 984.5,415.4 985.0,415.4 985.5,415.3 986.0,415.2 986.5,415.1 987.0,415.0 987.5,414.9 988.0,414.9 988.5,414.9 989.0,414.9 989.5,414.8 990.0,414.8 990.5,414.8 991.0,414.8 991.5,414.8 992.0,414.8 992.5,414.7 993.0,414.7 993.5,414.7 994.0,414.7 994.5,414.7 995.0,414.7 995.5,414.7 996.0,414.7 996.5,414.7 997.0,414.7 997.5,414.6 998.0,414.6 998.5,414.6 999.0,414.6 999.5,414.6 1000.0,414.6 1000.5,414.7 1001.0,414.7 1001.5,414.8 1002.0,414.8 1002.5,414.7 1003.0,414.7 1003.5,414.6 1004.0,414.5 1004.5,414.4 1005.0,414.2 1005.5,414.1 1006.0,414.0 1006.5,413.9 1007.0,413.9 1007.5,413.9 1008.0,413.9 1008.5,413.9 1009.0,414.0 1009.5,414.1 1010.0,414.1 1010.5,414.1 1011.0,414.2 1011.5,414.1 1012.0,414.0 1012.5,414.0 1013.0,413.9 1013.5,413.7 1014.0,413.7 1014.5,413.6 1015.0,413.5 1015.5,413.4 1016.0,413.4 1016.5,413.4 1017.0,413.4 1017.5,413.4 1018.0,413.5 1018.5,413.5 1019.0,413.6 1019.5,413.6 1020.0,413.6 1020.5,413.6 1021.0,413.6 1021.5,413.5 1022.0,413.5 1022.5,413.5 1023.0,413.5 1023.5,413.5 1024.0,413.5 1024.5,413.6 1025.0,413.6 1025.5,413.7 1026.0,413.6 1026.5,413.5 1027.0,413.4 1027.5,413.2 1028.0,413.0 1028.5,412.8 1029.0,412.5 1029.5,412.3 1030.0,412.1 1030.5,412.0 1031.0,412.0 1031.5,412.0 1032.0,412.0 1032.5,412.0 1033.0,412.1 1033.5,412.1 1034.0,412.1 1034.5,412.1 1035.0,412.1 1035.5,412.1 1036.0,412.1 1036.5,412.1 1037.0,412.2 1037.5,412.3 1038.0,412.4 1038.5,412.6 1039.0,412.7 1039.5,412.8 1040.0,412.9 1040.5,413.0 1041.0,413.0 1041.5,413.0 1042.0,412.8 1042.5,412.7 1043.0,412.4 1043.5,412.2 1044.0,412.0 1044.5,411.8 1045.0,411.7 1045.5,411.5 1046.0,411.4 1046.5,411.3 1047.0,411.3 1047.5,411.2 1048.0,411.2 1048.5,411.2 1049.0,411.1 1049.5,411.1 1050.0,411.1 1050.5,411.1 1051.0,411.1 1051.5,411.1 1052.0,411.1 1052.5,411.1 1053.0,411.1 1053.5,411.1 1054.0,411.1 1054.5,411.0 1055.0,410.9 1055.5,410.9 1056.0,410.8 1056.5,410.7 1057.0,410.7 1057.5,410.7 1058.0,410.7 1058.5,410.8 1059.0,410.8 1059.5,411.0 1060.0,411.1 1060.5,411.1 1061.0,411.2 1061.5,411.2 1062.0,411.2 1062.5,411.2 1063.0,411.0 1063.5,410.8 1064.0,410.6 1064.5,410.4 1065.0,410.2 1065.5,410.1 1066.0,410.0 1066.5,410.0 1067.0,410.0 1067.5,410.1 1068.0,410.2 1068.5,410.3 1069.0,410.4 1069.5,410.5 1070.0,410.5 1070.5,410.6 1071.0,410.5 1071.5,410.5 1072.0,410.5 1072.5,410.4 1073.0,410.3 1073.5,410.2 1074.0,410.1 1074.5,410.0 1075.0,409.9 1075.5,409.8 1076.0,409.7 1076.5,409.6 1077.0,409.3 1077.5,408.9 1078.0,408.1 1078.5,407.0 1079.0,405.5 1079.5,403.2 1080.0,400.2 1080.5,396.4 1081.0,391.7 1081.5,386.3 1082.0,380.5 1082.5,374.6 1083.0,368.9 1083.5,363.9 1084.0,359.8 1084.5,356.8 1085.0,354.9 1085.5,354.2 1086.0,354.1 1086.5,354.9 1087.0,356.5 1087.5,359.0 1088.0,362.0 1088.5,365.6 1089.0,369.6 1089.5,373.8 1090.0,378.0 1090.5,382.1 1091.0,386.0 1091.5,389.7 1092.0,393.0 1092.5,395.9 1093.0,398.4 1093.5,400.5 1094.0,402.3 1094.5,403.7 1095.0,404.9 1095.5,405.7 1096.0,406.4 1096.5,406.9 1097.0,407.5 1097.5,407.7 1098.0,407.9 1098.5,408.1 1099.0,408.1 1099.5,408.2 1100.0,408.2 1100.5,408.1 1101.0,408.0 1101.5,407.8 1102.0,407.6 1102.5,407.3 1103.0,407.0 1103.5,406.9 1104.0,406.7 1104.5,406.6 1105.0,406.6 1105.5,406.6 1106.0,406.6 1106.5,406.7 1107.0,406.6 1107.5,406.4 1108.0,405.8 1108.5,404.7 1109.0,403.1 1109.5,400.9 1110.0,398.1 1110.5,394.8 1111.0,391.4 1111.5,388.2 1112.0,385.3 1112.5,383.2 1113.0,381.8 1113.5,381.0 1114.0,380.7 1114.5,380.8 1115.0,381.5 1115.5,382.5 1116.0,383.9 1116.5,385.6 1117.0,387.3 1117.5,389.2 1118.0,391.1 1118.5,392.9 1119.0,394.7 1119.5,396.3 1120.0,397.8 1120.5,399.2 1121.0,400.5 1121.5,401.6 1122.0,402.7 1122.5,403.5 1123.0,404.2 1123.5,404.7 1124.0,405.0 1124.5,405.2 1125.0,405.2 1125.5,405.1 1126.0,404.8 1126.5,404.5 1127.0,404.2 1127.5,403.8 1128.0,403.4 1128.5,403.0 1129.0,402.7 1129.5,402.4 1130.0,402.2 1130.5,402.1 1131.0,402.0 1131.5,402.1 1132.0,402.2 1132.5,402.5 1133.0,402.8 1133.5,403.1 1134.0,403.4 1134.5,403.6 1135.0,403.9 1135.5,404.0 1136.0,404.2 1136.5,404.2 1137.0,404.3 1137.5,404.2 1138.0,404.1 1138.5,404.1 1139.0,403.9 1139.5,403.9 1140.0,403.8 1140.5,403.7 1141.0,403.6 1141.5,403.5 1142.0,403.4 1142.5,403.4 1143.0,403.4 1143.5,403.4 1144.0,403.5 1144.5,403.5 1145.0,403.5 1145.5,403.5 1146.0,403.6 1146.5,403.6 1147.0,403.6 1147.5,403.6 1148.0,403.6 1148.5,403.6 1149.0,403.7 1149.5,403.7 1150.0,403.7 1150.5,403.7 1151.0,403.6 1151.5,403.5 1152.0,403.3 1152.5,403.2 1153.0,402.9 1153.5,402.8 1154.0,402.6 1154.5,402.5 1155.0,402.3 1155.5,402.3 1156.0,402.3 1156.5,402.2 1157.0,402.3 1157.5,402.3 1158.0,402.3 1158.5,402.2 1159.0,402.2 1159.5,402.1 1160.0,402.1 1160.5,402.0 1161.0,402.0 1161.5,402.0 1162.0,402.0 1162.5,402.0 1163.0,402.0 1163.5,402.0 1164.0,402.0 1164.5,401.9 1165.0,401.8 1165.5,401.6 1166.0,401.5 1166.5,401.4 1167.0,401.3 1167.5,401.2 1168.0,401.1 1168.5,401.1 1169.0,401.1 1169.5,401.0 1170.0,401.0 1170.5,401.0 1171.0,400.9 1171.5,400.9 1172.0,400.8 1172.5,400.8 1173.0,400.8 1173.5,400.8 1174.0,400.8 1174.5,400.8 1175.0,400.8 1175.5,400.8 1176.0,400.8 1176.5,400.8 1177.0,400.7 1177.5,400.6 1178.0,400.4 1178.5,400.2 1179.0,400.0 1179.5,399.9 1180.0,399.7 1180.5,399.6 1181.0,399.5 1181.5,399.5 1182.0,399.5 1182.5,399.5 1183.0,399.5 1183.5,399.6 1184.0,399.7 1184.5,399.8 1185.0,399.9 1185.5,400.0 1186.0,400.0 1186.5,400.1 1187.0,400.2 1187.5,400.2 1188.0,400.2 1188.5,400.3 1189.0,400.2 1189.5,400.2 1190.0,400.1 1190.5,400.1 1191.0,400.1 1191.5,400.0 1192.0,400.0 1192.5,400.0 1193.0,399.9 1193.5,399.9 1194.0,399.8 1194.5,399.7 1195.0,399.6 1195.5,399.5 1196.0,399.3 1196.5,399.2 1197.0,399.2 1197.5,399.1 1198.0,399.1 1198.5,399.1 1199.0,399.1 1199.5,399.2 1200.0,399.3 1200.5,399.3 1201.0,399.3 1201.5,399.4 1202.0,399.3 1202.5,399.2 1203.0,399.2 1203.5,399.1 1204.0,399.0 1204.5,398.9 1205.0,398.8 1205.5,398.7 1206.0,398.7 1206.5,398.6 1207.0,398.5 1207.5,398.5 1208.0,398.4 1208.5,398.4 1209.0,398.3 1209.5,398.3 1210.0,398.2 1210.5,398.2 1211.0,398.2 1211.5,398.3 1212.0,398.3 1212.5,398.5 1213.0,398.6 1213.5,398.8 1214.0,398.9 1214.5,399.1 1215.0,399.2 1215.5,399.3 1216.0,399.4 1216.5,399.4 1217.0,399.3 1217.5,399.2 1218.0,399.1 1218.5,399.0 1219.0,398.8 1219.5,398.6 1220.0,398.3 1220.5,398.1 1221.0,398.0 1221.5,397.8 1222.0,397.8 1222.5,397.8 1223.0,397.9 1223.5,398.0 1224.0,398.1 1224.5,398.2 1225.0,398.3 1225.5,398.4 1226.0,398.5 1226.5,398.5 1227.0,398.4 1227.5,398.4 1228.0,398.3 1228.5,398.3 1229.0,398.2 1229.5,398.1 1230.0,398.0 1230.5,397.9 1231.0,397.9 1231.5,397.8 1232.0,397.8 1232.5,397.8 1233.0,397.8 1233.5,397.7 1234.0,397.6 1234.5,397.6 1235.0,397.5 1235.5,397.4 1236.0,397.2 1236.5,397.1 1237.0,397.1 1237.5,397.1 1238.0,397.1 1238.5,397.1 1239.0,397.2 1239.5,397.2 1240.0,397.3 1240.5,397.3 1241.0,397.3 1241.5,397.3 1242.0,397.2 1242.5,397.1 1243.0,396.9 1243.5,396.6 1244.0,396.3 1244.5,395.9 1245.0,395.4 1245.5,394.9 1246.0,394.3 1246.5,393.7 1247.0,393.0 1247.5,392.4 1248.0,391.9 1248.5,391.4 1249.0,391.0 1249.5,390.7 1250.0,390.6 1250.5,390.4 1251.0,390.2 1251.5,390.0 1252.0,390.0 1252.5,388.9 1253.0,387.1 1253.5,384.4 1254.0,380.5 1254.5,375.4 1255.0,369.0 1255.5,361.5 1256.0,353.0 1256.5,344.2 1257.0,335.3 1257.5,327.0 1258.0,319.7 1258.5,313.7 1259.0,309.4 1259.5,306.6 1260.0,305.2 1260.5,304.9 1261.0,306.2 1261.5,309.0 1262.0,312.8 1262.5,317.3 1263.0,322.3 1263.5,327.6 1264.0,333.1 1264.5,338.5 1265.0,343.9 1265.5,349.0 1266.0,354.0 1266.5,358.6 1267.0,362.9 1267.5,366.8 1268.0,370.4 1268.5,373.6 1269.0,376.5 1269.5,379.0 1270.0,381.2 1270.5,383.2 1271.0,384.8 1271.5,386.2 1272.0,387.4 1272.5,388.4 1273.0,389.2 1273.5,389.8 1274.0,390.4 1274.5,390.8 1275.0,391.2 1275.5,391.3 1276.0,391.4 1276.5,391.4 1277.0,391.4 1277.5,391.4 1278.0,391.3 1278.5,391.3 1279.0,391.4 1279.5,391.4 1280.0,391.5 1280.5,391.5 1281.0,391.6 1281.5,391.7 1282.0,391.7 1282.5,391.6 1283.0,391.6 1283.5,391.5 1284.0,391.5 1284.5,391.5 1285.0,391.4 1285.5,391.4 1286.0,391.4 1286.5,391.6 1287.0,391.7 1287.5,391.9 1288.0,392.1 1288.5,392.3 1289.0,392.4 1289.5,392.4 1290.0,392.4 1290.5,392.4 1291.0,392.3 1291.5,392.0 1292.0,391.9 1292.5,391.7 1293.0,391.5 1293.5,391.4 1294.0,391.3 1294.5,391.3 1295.0,391.3 1295.5,391.4 1296.0,391.5 1296.5,391.5 1297.0,391.5 1297.5,391.5 1298.0,391.5 1298.5,391.4 1299.0,391.3 1299.5,391.2 1300.0,391.1 1300.5,391.0 1301.0,390.9 1301.5,390.8 1302.0,390.7 1302.5,390.7 1303.0,390.6 1303.5,390.7 1304.0,390.7 1304.5,390.8 1305.0,390.8 1305.5,390.9 1306.0,390.9 1306.5,390.9 1307.0,390.8 1307.5,390.8 1308.0,390.7 1308.5,390.6 1309.0,390.5 1309.5,390.3 1310.0,390.1 1310.5,390.0 1311.0,389.8 1311.5,389.7 1312.0,389.6 1312.5,389.5 1313.0,389.3 1313.5,389.3 1314.0,389.2 1314.5,389.1 1315.0,389.1 1315.5,389.2 1316.0,389.2 1316.5,389.3 1317.0,389.3 1317.5,389.3 1318.0,389.4 1318.5,389.4 1319.0,389.3 1319.5,389.4 1320.0,389.3 1320.5,389.3 1321.0,389.3 1321.5,389.3 1322.0,389.3 1322.5,389.3 1323.0,389.3 1323.5,389.3 1324.0,389.3 1324.5,389.3 1325.0,389.4 1325.5,389.4 1326.0,389.4 1326.5,389.4 1327.0,389.4 1327.5,389.5 1328.0,389.4 1328.5,389.4 1329.0,389.4 1329.5,389.3 1330.0,389.2 1330.5,389.1 1331.0,389.1 1331.5,389.0 1332.0,389.0 1332.5,388.9 1333.0,388.9 1333.5,388.9 1334.0,388.8 1334.5,388.7 1335.0,388.6 1335.5,388.5 1336.0,388.3 1336.5,388.2 1337.0,388.0 1337.5,387.8 1338.0,387.7 1338.5,387.6 1339.0,387.5 1339.5,387.4 1340.0,387.4 1340.5,387.4 1341.0,387.4 1341.5,387.4 1342.0,387.3 1342.5,387.3 1343.0,387.2 1343.5,387.1 1344.0,386.9 1344.5,386.8 1345.0,386.5 1345.5,386.3 1346.0,386.0 1346.5,385.5 1347.0,385.0 1347.5,384.3 1348.0,383.5 1348.5,382.6 1349.0,381.7 1349.5,380.6 1350.0,379.6 1350.5,378.6 1351.0,377.8 1351.5,377.0 1352.0,376.4 1352.5,375.8 1353.0,375.2 1353.5,374.6 1354.0,373.9 1354.5,373.1 1355.0,372.1 1355.5,370.8 1356.0,369.4 1356.5,367.8 1357.0,366.0 1357.5,364.3 1358.0,362.7 1358.5,361.4 1359.0,360.5 1359.5,360.0 1360.0,360.1 1360.5,360.9 1361.0,362.1 1361.5,363.5 1362.0,365.1 1362.5,366.7 1363.0,368.4 1363.5,370.1 1364.0,371.7 1364.5,373.3 1365.0,374.7 1365.5,376.1 1366.0,377.3 1366.5,378.5 1367.0,379.5 1367.5,380.3 1368.0,381.1 1368.5,381.8 1369.0,382.4 1369.5,382.9 1370.0,383.3 1370.5,383.6 1371.0,383.9 1371.5,384.2 1372.0,384.4 1372.5,384.5 1373.0,384.6 1373.5,384.5 1374.0,384.7 1374.5,384.8 1375.0,385.0 1375.5,385.2 1376.0,385.3 1376.5,385.4 1377.0,385.4 1377.5,385.4 1378.0,385.5 1378.5,385.4 1379.0,385.3 1379.5,385.1 1380.0,385.0 1380.5,384.8 1381.0,384.5 1381.5,384.3 1382.0,384.1 1382.5,384.0 1383.0,383.8 1383.5,383.7 1384.0,383.6 1384.5,383.6 1385.0,383.7 1385.5,383.7 1386.0,383.7 1386.5,383.8 1387.0,383.8 1387.5,383.9 1388.0,383.9 1388.5,383.8 1389.0,383.7 1389.5,383.7 1390.0,383.7 1390.5,383.7 1391.0,383.6 1391.5,383.6 1392.0,383.7 1392.5,383.7 1393.0,383.7 1393.5,383.8 1394.0,383.8 1394.5,383.8 1395.0,383.8 1395.5,383.8 1396.0,383.8 1396.5,383.7 1397.0,383.7 1397.5,383.6 1398.0,383.5 1398.5,383.4 1399.0,383.3 1399.5,383.1 1400.0,383.0 1400.5,383.0 1401.0,382.9 1401.5,382.9 1402.0,382.8 1402.5,382.9 1403.0,382.9 1403.5,382.9 1404.0,383.0 1404.5,383.0 1405.0,383.0 1405.5,383.0 1406.0,382.9 1406.5,382.9 1407.0,382.8 1407.5,382.8 1408.0,382.7 1408.5,382.7 1409.0,382.7 1409.5,382.7 1410.0,382.7 1410.5,382.6 1411.0,382.3 1411.5,382.0 1412.0,381.5 1412.5,380.8 1413.0,379.9 1413.5,378.9 1414.0,377.8 1414.5,376.7 1415.0,375.6 1415.5,374.5 1416.0,373.6 1416.5,372.8 1417.0,372.0 1417.5,371.4 1418.0,370.8 1418.5,370.2 1419.0,369.5 1419.5,368.6 1420.0,367.4 1420.5,366.1 1421.0,364.5 1421.5,362.8 1422.0,361.2 1422.5,360.0 1423.0,359.3 1423.5,359.6 1424.0,360.6 1424.5,361.9 1425.0,363.4 1425.5,364.9 1426.0,366.4 1426.5,367.8 1427.0,369.0 1427.5,370.1 1428.0,370.9 1428.5,371.6 1429.0,372.3 1429.5,372.8 1430.0,373.4 1430.5,374.0 1431.0,374.6 1431.5,375.3 1432.0,376.0 1432.5,376.7 1433.0,377.4 1433.5,378.0 1434.0,378.7 1434.5,379.2 1435.0,379.7 1435.5,380.0 1436.0,380.3 1436.5,380.6 1437.0,380.8 1437.5,380.9 1438.0,381.0 1438.5,381.1 1439.0,381.2 1439.5,381.3 1440.0,381.4 1440.5,381.4 1441.0,381.5 1441.5,381.6 1442.0,381.6 1442.5,381.6 1443.0,381.7 1443.5,381.7 1444.0,381.7 1444.5,381.7 1445.0,381.7 1445.5,381.7 1446.0,381.7 1446.5,381.8 1447.0,381.9 1447.5,381.9 1448.0,382.0 1448.5,382.0 1449.0,382.1 1449.5,382.1 1450.0,382.0 1450.5,381.9 1451.0,381.7 1451.5,381.5 1452.0,381.3 1452.5,381.1 1453.0,380.9 1453.5,380.8 1454.0,380.7 1454.5,380.6 1455.0,380.6 1455.5,380.6 1456.0,380.7 1456.5,380.7 1457.0,380.6 1457.5,380.5 1458.0,380.3 1458.5,380.0 1459.0,379.7 1459.5,379.3 1460.0,378.7 1460.5,378.2 1461.0,377.6 1461.5,377.0 1462.0,376.4 1462.5,375.8 1463.0,375.3 1463.5,374.8 1464.0,374.3 1464.5,373.9 1465.0,373.5 1465.5,373.2 1466.0,372.9 1466.5,372.7 1467.0,372.6 1467.5,372.4 1468.0,372.2 1468.5,372.0 1469.0,371.7 1469.5,371.2 1470.0,370.5 1470.5,369.7 1471.0,368.8 1471.5,367.9 1472.0,367.1 1472.5,366.6 1473.0,366.5 1473.5,366.7 1474.0,367.1 1474.5,367.7 1475.0,368.2 1475.5,368.8 1476.0,369.5 1476.5,370.2 1477.0,370.8 1477.5,371.4 1478.0,372.0 1478.5,372.6 1479.0,373.1 1479.5,373.7 1480.0,374.1 1480.5,374.5 1481.0,374.9 1481.5,375.2 1482.0,375.5 1482.5,375.7 1483.0,375.9 1483.5,376.2 1484.0,376.4 1484.5,376.7 1485.0,376.9 1485.5,377.2 1486.0,377.5 1486.5,377.7 1487.0,377.9 1487.5,378.0 1488.0,378.1 1488.5,378.2 1489.0,378.2 1489.5,378.3 1490.0,378.2 1490.5,378.1 1491.0,378.1 1491.5,378.0 1492.0,377.9 1492.5,377.7 1493.0,377.6 1493.5,377.3 1494.0,377.2 1494.5,377.1 1495.0,377.0 1495.5,376.9 1496.0,376.8 1496.5,376.8" fill="none" stroke="#FFC000" stroke-width="1.9" stroke-linejoin="round" stroke-linecap="round"/>
<path d="M848.0,440.7 848.5,440.7 849.0,440.7 849.5,440.6 850.0,440.7 850.5,440.7 851.0,440.7 851.5,440.7 852.0,440.8 852.5,440.8 853.0,440.8 853.5,440.8 854.0,440.8 854.5,440.8 855.0,440.9 855.5,441.0 856.0,441.0 856.5,441.1 857.0,441.1 857.5,441.2 858.0,441.2 858.5,441.2 859.0,441.2 859.5,441.2 860.0,441.1 860.5,441.1 861.0,441.0 861.5,441.0 862.0,440.9 862.5,440.8 863.0,440.8 863.5,440.8 864.0,440.8 864.5,440.8 865.0,440.8 865.5,440.7 866.0,440.6 866.5,440.6 867.0,440.6 867.5,440.5 868.0,440.4 868.5,440.3 869.0,440.3 869.5,440.2 870.0,440.2 870.5,440.3 871.0,440.4 871.5,440.5 872.0,440.6 872.5,440.8 873.0,440.9 873.5,441.1 874.0,441.2 874.5,441.4 875.0,441.4 875.5,441.5 876.0,441.6 876.5,441.6 877.0,441.6 877.5,441.6 878.0,441.5 878.5,441.5 879.0,441.4 879.5,441.3 880.0,441.2 880.5,441.0 881.0,440.9 881.5,440.8 882.0,440.8 882.5,440.6 883.0,440.6 883.5,440.5 884.0,440.5 884.5,440.5 885.0,440.5 885.5,440.5 886.0,440.5 886.5,440.5 887.0,440.6 887.5,440.7 888.0,440.8 888.5,440.9 889.0,441.1 889.5,441.3 890.0,441.4 890.5,441.6 891.0,441.7 891.5,441.8 892.0,441.8 892.5,441.9 893.0,441.9 893.5,441.8 894.0,441.8 894.5,441.8 895.0,441.7 895.5,441.7 896.0,441.6 896.5,441.7 897.0,441.7 897.5,441.7 898.0,441.7 898.5,441.6 899.0,441.6 899.5,441.6 900.0,441.5 900.5,441.4 901.0,441.3 901.5,441.3 902.0,441.2 902.5,441.2 903.0,441.2 903.5,441.2 904.0,441.2 904.5,441.3 905.0,441.3 905.5,441.4 906.0,441.4 906.5,441.4 907.0,441.5 907.5,441.5 908.0,441.6 908.5,441.6 909.0,441.6 909.5,441.7 910.0,441.8 910.5,441.8 911.0,441.8 911.5,441.8 912.0,441.8 912.5,441.8 913.0,441.7 913.5,441.7 914.0,441.6 914.5,441.5 915.0,441.5 915.5,441.4 916.0,441.3 916.5,441.2 917.0,441.1 917.5,441.1 918.0,441.0 918.5,441.0 919.0,440.9 919.5,440.9 920.0,440.8 920.5,440.8 921.0,440.7 921.5,440.6 922.0,440.5 922.5,440.4 923.0,440.3 923.5,440.1 924.0,440.0 924.5,439.7 925.0,439.5 925.5,439.3 926.0,439.1 926.5,438.7 927.0,438.4 927.5,438.1 928.0,437.6 928.5,437.1 929.0,436.5 929.5,435.9 930.0,435.3 930.5,434.5 931.0,433.7 931.5,432.9 932.0,432.0 932.5,431.1 933.0,430.2 933.5,429.2 934.0,428.2 934.5,427.2 935.0,426.2 935.5,425.0 936.0,423.9 936.5,422.7 937.0,421.6 937.5,420.6 938.0,419.6 938.5,418.8 939.0,418.1 939.5,417.7 940.0,417.4 940.5,417.3 941.0,417.4 941.5,417.6 942.0,417.9 942.5,418.2 943.0,418.6 943.5,419.1 944.0,419.6 944.5,420.1 945.0,420.6 945.5,421.2 946.0,421.9 946.5,422.6 947.0,423.4 947.5,424.3 948.0,425.1 948.5,426.0 949.0,426.8 949.5,427.6 950.0,428.4 950.5,429.1 951.0,429.7 951.5,430.3 952.0,430.9 952.5,431.4 953.0,432.0 953.5,432.5 954.0,433.1 954.5,433.7 955.0,434.3 955.5,434.8 956.0,435.4 956.5,435.9 957.0,436.3 957.5,436.6 958.0,436.9 958.5,437.2 959.0,437.3 959.5,437.5 960.0,437.6 960.5,437.6 961.0,437.7 961.5,437.7 962.0,437.8 962.5,437.8 963.0,437.8 963.5,437.8 964.0,437.8 964.5,437.7 965.0,437.7 965.5,437.7 966.0,437.7 966.5,437.7 967.0,437.8 967.5,437.8 968.0,437.9 968.5,438.0 969.0,438.1 969.5,438.2 970.0,438.4 970.5,438.5 971.0,438.6 971.5,438.7 972.0,438.8 972.5,438.9 973.0,438.9 973.5,439.0 974.0,439.1 974.5,439.1 975.0,439.1 975.5,439.1 976.0,439.1 976.5,439.1 977.0,439.1 977.5,439.0 978.0,439.0 978.5,438.9 979.0,438.8 979.5,438.7 980.0,438.6 980.5,438.5 981.0,438.3 981.5,438.2 982.0,438.0 982.5,437.8 983.0,437.7 983.5,437.5 984.0,437.4 984.5,437.3 985.0,437.2 985.5,437.1 986.0,437.0 986.5,437.0 987.0,437.0 987.5,437.0 988.0,437.0 988.5,436.9 989.0,436.9 989.5,436.8 990.0,436.8 990.5,436.7 991.0,436.6 991.5,436.6 992.0,436.6 992.5,436.7 993.0,436.7 993.5,436.7 994.0,436.8 994.5,436.9 995.0,436.9 995.5,437.0 996.0,437.0 996.5,437.0 997.0,437.0 997.5,436.9 998.0,436.9 998.5,436.8 999.0,436.8 999.5,436.7 1000.0,436.5 1000.5,436.4 1001.0,436.3 1001.5,436.1 1002.0,436.0 1002.5,435.8 1003.0,435.8 1003.5,435.7 1004.0,435.7 1004.5,435.7 1005.0,435.7 1005.5,435.8 1006.0,435.9 1006.5,435.9 1007.0,436.0 1007.5,436.0 1008.0,436.0 1008.5,435.9 1009.0,435.9 1009.5,435.9 1010.0,435.8 1010.5,435.8 1011.0,435.7 1011.5,435.7 1012.0,435.7 1012.5,435.7 1013.0,435.7 1013.5,435.7 1014.0,435.6 1014.5,435.5 1015.0,435.5 1015.5,435.4 1016.0,435.3 1016.5,435.3 1017.0,435.3 1017.5,435.3 1018.0,435.3 1018.5,435.3 1019.0,435.3 1019.5,435.3 1020.0,435.3 1020.5,435.3 1021.0,435.2 1021.5,435.2 1022.0,435.1 1022.5,435.1 1023.0,435.1 1023.5,435.1 1024.0,435.2 1024.5,435.2 1025.0,435.2 1025.5,435.3 1026.0,435.3 1026.5,435.3 1027.0,435.2 1027.5,435.1 1028.0,435.0 1028.5,434.9 1029.0,434.7 1029.5,434.6 1030.0,434.5 1030.5,434.4 1031.0,434.4 1031.5,434.4 1032.0,434.5 1032.5,434.6 1033.0,434.8 1033.5,434.9 1034.0,435.0 1034.5,435.1 1035.0,435.1 1035.5,435.1 1036.0,435.0 1036.5,434.8 1037.0,434.7 1037.5,434.5 1038.0,434.3 1038.5,434.1 1039.0,434.0 1039.5,433.9 1040.0,433.8 1040.5,433.8 1041.0,433.8 1041.5,433.9 1042.0,433.9 1042.5,433.9 1043.0,433.9 1043.5,433.9 1044.0,433.8 1044.5,433.7 1045.0,433.6 1045.5,433.5 1046.0,433.5 1046.5,433.4 1047.0,433.4 1047.5,433.4 1048.0,433.4 1048.5,433.4 1049.0,433.4 1049.5,433.4 1050.0,433.3 1050.5,433.3 1051.0,433.2 1051.5,433.1 1052.0,433.0 1052.5,432.9 1053.0,432.8 1053.5,432.8 1054.0,432.7 1054.5,432.8 1055.0,432.9 1055.5,433.0 1056.0,433.1 1056.5,433.2 1057.0,433.2 1057.5,433.2 1058.0,433.2 1058.5,433.1 1059.0,432.9 1059.5,432.7 1060.0,432.5 1060.5,432.3 1061.0,432.1 1061.5,431.9 1062.0,431.8 1062.5,431.7 1063.0,431.7 1063.5,431.6 1064.0,431.6 1064.5,431.7 1065.0,431.7 1065.5,431.8 1066.0,431.8 1066.5,431.8 1067.0,431.8 1067.5,431.8 1068.0,431.8 1068.5,431.8 1069.0,431.8 1069.5,431.8 1070.0,431.7 1070.5,431.6 1071.0,431.5 1071.5,431.3 1072.0,431.2 1072.5,431.0 1073.0,430.9 1073.5,430.7 1074.0,430.5 1074.5,430.3 1075.0,430.1 1075.5,429.7 1076.0,429.0 1076.5,428.5 1077.0,426.5 1077.5,423.2 1078.0,418.5 1078.5,411.9 1079.0,403.5 1079.5,393.4 1080.0,382.1 1080.5,370.4 1081.0,359.0 1081.5,348.9 1082.0,340.7 1082.5,334.7 1083.0,330.9 1083.5,329.2 1084.0,328.8 1084.5,329.5 1085.0,331.9 1085.5,335.7 1086.0,340.9 1086.5,347.1 1087.0,354.1 1087.5,361.6 1088.0,369.3 1088.5,377.0 1089.0,384.4 1089.5,391.3 1090.0,397.7 1090.5,403.4 1091.0,408.3 1091.5,412.5 1092.0,416.0 1092.5,418.9 1093.0,421.2 1093.5,423.0 1094.0,424.3 1094.5,425.3 1095.0,426.1 1095.5,426.7 1096.0,427.2 1096.5,427.5 1097.0,427.8 1097.5,428.0 1098.0,428.2 1098.5,428.3 1099.0,428.3 1099.5,428.3 1100.0,428.2 1100.5,428.1 1101.0,427.9 1101.5,427.8 1102.0,427.6 1102.5,427.4 1103.0,427.2 1103.5,427.1 1104.0,426.9 1104.5,426.8 1105.0,426.5 1105.5,426.1 1106.0,425.6 1106.5,424.1 1107.0,421.8 1107.5,418.3 1108.0,413.6 1108.5,408.0 1109.0,401.7 1109.5,395.3 1110.0,389.5 1110.5,384.8 1111.0,381.4 1111.5,379.5 1112.0,378.7 1112.5,378.7 1113.0,379.7 1113.5,381.6 1114.0,384.2 1114.5,387.5 1115.0,391.1 1115.5,394.9 1116.0,398.8 1116.5,402.7 1117.0,406.3 1117.5,409.7 1118.0,412.7 1118.5,415.4 1119.0,417.7 1119.5,419.6 1120.0,421.2 1120.5,422.5 1121.0,423.5 1121.5,424.3 1122.0,424.9 1122.5,425.3 1123.0,425.6 1123.5,425.7 1124.0,425.8 1124.5,425.8 1125.0,425.6 1125.5,425.5 1126.0,425.3 1126.5,425.1 1127.0,424.8 1127.5,424.5 1128.0,424.3 1128.5,424.0 1129.0,423.8 1129.5,423.6 1130.0,423.5 1130.5,423.5 1131.0,423.5 1131.5,423.6 1132.0,423.8 1132.5,424.0 1133.0,424.2 1133.5,424.4 1134.0,424.5 1134.5,424.6 1135.0,424.7 1135.5,424.8 1136.0,424.9 1136.5,425.0 1137.0,425.2 1137.5,425.3 1138.0,425.4 1138.5,425.6 1139.0,425.7 1139.5,425.7 1140.0,425.7 1140.5,425.5 1141.0,425.4 1141.5,425.2 1142.0,425.0 1142.5,424.8 1143.0,424.7 1143.5,424.6 1144.0,424.5 1144.5,424.5 1145.0,424.5 1145.5,424.5 1146.0,424.6 1146.5,424.6 1147.0,424.6 1147.5,424.6 1148.0,424.7 1148.5,424.7 1149.0,424.8 1149.5,424.8 1150.0,424.8 1150.5,424.9 1151.0,424.9 1151.5,424.9 1152.0,424.8 1152.5,424.7 1153.0,424.6 1153.5,424.5 1154.0,424.3 1154.5,424.2 1155.0,424.0 1155.5,423.7 1156.0,423.5 1156.5,423.4 1157.0,423.2 1157.5,423.2 1158.0,423.1 1158.5,423.1 1159.0,423.1 1159.5,423.2 1160.0,423.3 1160.5,423.4 1161.0,423.5 1161.5,423.6 1162.0,423.7 1162.5,423.8 1163.0,423.8 1163.5,423.8 1164.0,423.8 1164.5,423.7 1165.0,423.6 1165.5,423.5 1166.0,423.4 1166.5,423.2 1167.0,423.1 1167.5,423.0 1168.0,423.0 1168.5,422.9 1169.0,422.9 1169.5,423.0 1170.0,423.0 1170.5,423.0 1171.0,423.0 1171.5,423.0 1172.0,422.9 1172.5,422.7 1173.0,422.6 1173.5,422.4 1174.0,422.2 1174.5,422.0 1175.0,421.9 1175.5,421.8 1176.0,421.7 1176.5,421.7 1177.0,421.7 1177.5,421.7 1178.0,421.7 1178.5,421.6 1179.0,421.5 1179.5,421.4 1180.0,421.4 1180.5,421.3 1181.0,421.2 1181.5,421.2 1182.0,421.2 1182.5,421.1 1183.0,421.2 1183.5,421.3 1184.0,421.4 1184.5,421.4 1185.0,421.5 1185.5,421.6 1186.0,421.7 1186.5,421.7 1187.0,421.8 1187.5,421.8 1188.0,421.8 1188.5,421.7 1189.0,421.6 1189.5,421.5 1190.0,421.4 1190.5,421.3 1191.0,421.1 1191.5,420.9 1192.0,420.8 1192.5,420.8 1193.0,420.7 1193.5,420.7 1194.0,420.6 1194.5,420.6 1195.0,420.6 1195.5,420.6 1196.0,420.6 1196.5,420.6 1197.0,420.6 1197.5,420.6 1198.0,420.6 1198.5,420.5 1199.0,420.5 1199.5,420.5 1200.0,420.4 1200.5,420.4 1201.0,420.4 1201.5,420.3 1202.0,420.2 1202.5,420.1 1203.0,419.9 1203.5,419.8 1204.0,419.7 1204.5,419.5 1205.0,419.4 1205.5,419.4 1206.0,419.4 1206.5,419.5 1207.0,419.6 1207.5,419.8 1208.0,420.0 1208.5,420.3 1209.0,420.5 1209.5,420.7 1210.0,420.9 1210.5,421.0 1211.0,421.1 1211.5,421.2 1212.0,421.2 1212.5,421.1 1213.0,421.0 1213.5,420.8 1214.0,420.6 1214.5,420.4 1215.0,420.2 1215.5,420.0 1216.0,419.7 1216.5,419.4 1217.0,419.2 1217.5,419.1 1218.0,418.9 1218.5,418.8 1219.0,418.7 1219.5,418.7 1220.0,418.6 1220.5,418.6 1221.0,418.6 1221.5,418.6 1222.0,418.6 1222.5,418.7 1223.0,418.6 1223.5,418.6 1224.0,418.6 1224.5,418.6 1225.0,418.5 1225.5,418.4 1226.0,418.3 1226.5,418.3 1227.0,418.3 1227.5,418.3 1228.0,418.4 1228.5,418.5 1229.0,418.6 1229.5,418.8 1230.0,418.9 1230.5,419.0 1231.0,419.0 1231.5,419.0 1232.0,418.9 1232.5,418.8 1233.0,418.6 1233.5,418.4 1234.0,418.3 1234.5,418.1 1235.0,418.0 1235.5,418.0 1236.0,418.0 1236.5,418.1 1237.0,418.2 1237.5,418.2 1238.0,418.3 1238.5,418.4 1239.0,418.3 1239.5,418.2 1240.0,418.1 1240.5,417.9 1241.0,417.7 1241.5,417.4 1242.0,417.0 1242.5,416.7 1243.0,416.3 1243.5,415.9 1244.0,415.5 1244.5,415.1 1245.0,414.7 1245.5,414.4 1246.0,414.0 1246.5,413.7 1247.0,413.4 1247.5,413.2 1248.0,412.9 1248.5,412.4 1249.0,412.3 1249.5,411.0 1250.0,408.9 1250.5,405.9 1251.0,401.6 1251.5,395.9 1252.0,389.0 1252.5,380.7 1253.0,371.6 1253.5,361.9 1254.0,352.3 1254.5,343.3 1255.0,335.4 1255.5,328.9 1256.0,324.2 1256.5,321.2 1257.0,319.7 1257.5,319.3 1258.0,320.7 1258.5,323.8 1259.0,327.9 1259.5,332.8 1260.0,338.2 1260.5,344.0 1261.0,349.9 1261.5,355.8 1262.0,361.6 1262.5,367.2 1263.0,372.5 1263.5,377.6 1264.0,382.2 1264.5,386.5 1265.0,390.3 1265.5,393.8 1266.0,396.9 1266.5,399.6 1267.0,402.0 1267.5,404.0 1268.0,405.8 1268.5,407.3 1269.0,408.6 1269.5,409.7 1270.0,410.6 1270.5,411.4 1271.0,412.0 1271.5,412.5 1272.0,412.5 1272.5,412.9 1273.0,413.2 1273.5,413.4 1274.0,413.6 1274.5,413.7 1275.0,413.7 1275.5,413.6 1276.0,413.6 1276.5,413.5 1277.0,413.5 1277.5,413.5 1278.0,413.5 1278.5,413.5 1279.0,413.5 1279.5,413.6 1280.0,413.7 1280.5,413.9 1281.0,414.0 1281.5,414.2 1282.0,414.3 1282.5,414.4 1283.0,414.5 1283.5,414.5 1284.0,414.5 1284.5,414.5 1285.0,414.4 1285.5,414.4 1286.0,414.3 1286.5,414.1 1287.0,414.0 1287.5,413.9 1288.0,413.8 1288.5,413.7 1289.0,413.7 1289.5,413.7 1290.0,413.7 1290.5,413.8 1291.0,413.7 1291.5,413.8 1292.0,413.7 1292.5,413.6 1293.0,413.5 1293.5,413.4 1294.0,413.2 1294.5,413.0 1295.0,412.8 1295.5,412.7 1296.0,412.7 1296.5,412.7 1297.0,412.7 1297.5,412.8 1298.0,413.0 1298.5,413.1 1299.0,413.2 1299.5,413.4 1300.0,413.5 1300.5,413.6 1301.0,413.6 1301.5,413.6 1302.0,413.6 1302.5,413.6 1303.0,413.6 1303.5,413.5 1304.0,413.4 1304.5,413.2 1305.0,413.1 1305.5,413.0 1306.0,412.8 1306.5,412.6 1307.0,412.5 1307.5,412.3 1308.0,412.2 1308.5,412.0 1309.0,412.0 1309.5,412.0 1310.0,412.1 1310.5,412.2 1311.0,412.3 1311.5,412.5 1312.0,412.6 1312.5,412.7 1313.0,412.8 1313.5,412.9 1314.0,412.9 1314.5,412.8 1315.0,412.7 1315.5,412.5 1316.0,412.3 1316.5,412.1 1317.0,411.8 1317.5,411.6 1318.0,411.4 1318.5,411.3 1319.0,411.2 1319.5,411.0 1320.0,411.0 1320.5,411.0 1321.0,410.9 1321.5,410.9 1322.0,410.8 1322.5,410.7 1323.0,410.7 1323.5,410.7 1324.0,410.7 1324.5,410.8 1325.0,410.9 1325.5,411.1 1326.0,411.2 1326.5,411.3 1327.0,411.4 1327.5,411.5 1328.0,411.6 1328.5,411.7 1329.0,411.7 1329.5,411.7 1330.0,411.7 1330.5,411.6 1331.0,411.6 1331.5,411.5 1332.0,411.4 1332.5,411.3 1333.0,411.1 1333.5,411.0 1334.0,410.9 1334.5,410.9 1335.0,410.9 1335.5,410.9 1336.0,410.9 1336.5,411.0 1337.0,411.0 1337.5,411.1 1338.0,411.1 1338.5,411.1 1339.0,411.1 1339.5,411.0 1340.0,410.9 1340.5,410.8 1341.0,410.7 1341.5,410.6 1342.0,410.4 1342.5,410.2 1343.0,410.1 1343.5,409.9 1344.0,409.6 1344.5,409.3 1345.0,408.9 1345.5,408.5 1346.0,407.9 1346.5,407.2 1347.0,406.5 1347.5,405.6 1348.0,404.8 1348.5,403.9 1349.0,403.1 1349.5,402.4 1350.0,401.8 1350.5,401.8 1351.0,401.4 1351.5,401.1 1352.0,400.8 1352.5,400.3 1353.0,399.7 1353.5,398.8 1354.0,397.6 1354.5,396.1 1355.0,394.2 1355.5,392.1 1356.0,389.7 1356.5,387.2 1357.0,384.8 1357.5,382.5 1358.0,380.6 1358.5,379.1 1359.0,378.2 1359.5,378.0 1360.0,378.8 1360.5,380.0 1361.0,381.6 1361.5,383.3 1362.0,385.2 1362.5,387.2 1363.0,389.1 1363.5,391.1 1364.0,392.9 1364.5,394.6 1365.0,396.2 1365.5,397.6 1366.0,399.0 1366.5,400.1 1367.0,401.2 1367.5,402.1 1368.0,402.9 1368.5,403.6 1369.0,404.2 1369.5,404.8 1370.0,405.2 1370.5,405.6 1371.0,405.9 1371.5,406.1 1372.0,406.3 1372.5,406.5 1373.0,407.3 1373.5,407.3 1374.0,407.3 1374.5,407.3 1375.0,407.2 1375.5,407.0 1376.0,406.9 1376.5,406.7 1377.0,406.5 1377.5,406.4 1378.0,406.3 1378.5,406.2 1379.0,406.2 1379.5,406.2 1380.0,406.2 1380.5,406.2 1381.0,406.2 1381.5,406.2 1382.0,406.1 1382.5,406.0 1383.0,405.9 1383.5,405.9 1384.0,405.8 1384.5,405.7 1385.0,405.6 1385.5,405.6 1386.0,405.6 1386.5,405.6 1387.0,405.6 1387.5,405.6 1388.0,405.6 1388.5,405.6 1389.0,405.4 1389.5,405.3 1390.0,405.0 1390.5,404.7 1391.0,404.3 1391.5,403.9 1392.0,403.4 1392.5,402.9 1393.0,402.4 1393.5,402.0 1394.0,401.6 1394.5,401.3 1395.0,401.1 1395.5,401.0 1396.0,401.1 1396.5,401.2 1397.0,401.5 1397.5,401.8 1398.0,402.2 1398.5,402.6 1399.0,403.0 1399.5,403.4 1400.0,403.7 1400.5,404.0 1401.0,404.2 1401.5,404.3 1402.0,404.5 1402.5,404.6 1403.0,404.7 1403.5,404.7 1404.0,404.8 1404.5,404.8 1405.0,404.7 1405.5,404.7 1406.0,404.7 1406.5,404.6 1407.0,404.5 1407.5,404.4 1408.0,404.3 1408.5,404.2 1409.0,404.1 1409.5,403.9 1410.0,403.7 1410.5,403.4 1411.0,403.1 1411.5,402.7 1412.0,402.2 1412.5,401.5 1413.0,400.9 1413.5,400.1 1414.0,399.3 1414.5,398.6 1415.0,397.8 1415.5,397.1 1416.0,396.4 1416.5,395.7 1417.0,395.1 1417.5,394.5 1418.0,393.8 1418.5,393.1 1419.0,392.2 1419.5,391.1 1420.0,389.8 1420.5,388.4 1421.0,386.9 1421.5,385.6 1422.0,384.5 1422.5,384.1 1423.0,384.5 1423.5,385.4 1424.0,386.5 1424.5,387.7 1425.0,389.0 1425.5,390.2 1426.0,391.3 1426.5,392.2 1427.0,393.2 1427.5,394.0 1428.0,394.8 1428.5,395.6 1429.0,396.3 1429.5,397.0 1430.0,397.7 1430.5,398.4 1431.0,399.0 1431.5,399.6 1432.0,400.2 1432.5,400.7 1433.0,401.2 1433.5,401.5 1434.0,401.9 1434.5,402.2 1435.0,402.4 1435.5,402.5 1436.0,402.6 1436.5,402.6 1437.0,402.7 1437.5,402.7 1438.0,402.7 1438.5,402.8 1439.0,402.8 1439.5,402.9 1440.0,402.9 1440.5,403.0 1441.0,403.0 1441.5,403.1 1442.0,403.1 1442.5,403.1 1443.0,403.1 1443.5,403.1 1444.0,403.2 1444.5,403.3 1445.0,403.3 1445.5,403.4 1446.0,403.5 1446.5,403.5 1447.0,403.5 1447.5,403.5 1448.0,403.5 1448.5,403.4 1449.0,403.3 1449.5,403.2 1450.0,403.0 1450.5,402.8 1451.0,402.7 1451.5,402.5 1452.0,402.4 1452.5,402.2 1453.0,402.1 1453.5,401.9 1454.0,401.9 1454.5,401.7 1455.0,401.6 1455.5,401.5 1456.0,401.4 1456.5,401.2 1457.0,401.0 1457.5,400.8 1458.0,400.5 1458.5,400.2 1459.0,399.9 1459.5,399.6 1460.0,399.3 1460.5,398.9 1461.0,398.7 1461.5,398.4 1462.0,398.1 1462.5,397.8 1463.0,397.7 1463.5,397.4 1464.0,397.2 1464.5,396.9 1465.0,396.7 1465.5,396.4 1466.0,396.1 1466.5,395.8 1467.0,395.5 1467.5,395.1 1468.0,394.8 1468.5,394.5 1469.0,394.2 1469.5,393.9 1470.0,393.6 1470.5,393.3 1471.0,393.2 1471.5,393.0 1472.0,393.0 1472.5,393.0 1473.0,393.0 1473.5,393.1 1474.0,393.2 1474.5,393.4 1475.0,393.6 1475.5,393.9 1476.0,394.1 1476.5,394.4 1477.0,394.7 1477.5,395.0 1478.0,395.3 1478.5,395.6 1479.0,395.9 1479.5,396.2 1480.0,396.4 1480.5,396.7 1481.0,396.9 1481.5,397.1 1482.0,397.3 1482.5,397.4 1483.0,397.5 1483.5,397.6 1484.0,397.6 1484.5,397.7 1485.0,397.7 1485.5,397.7 1486.0,397.6 1486.5,397.6 1487.0,397.6 1487.5,397.6 1488.0,397.6 1488.5,397.6 1489.0,397.6 1489.5,397.6 1490.0,397.7 1490.5,397.7 1491.0,397.8 1491.5,397.9 1492.0,398.0 1492.5,398.1 1493.0,398.2 1493.5,398.3 1494.0,398.4 1494.5,398.4 1495.0,398.4 1495.5,398.4 1496.0,398.4 1496.5,398.3" fill="none" stroke="#ED7D31" stroke-width="1.9" stroke-linejoin="round" stroke-linecap="round"/>
<path d="M848.0,459.7 848.5,459.8 849.0,459.9 849.5,460.0 850.0,460.1 850.5,460.2 851.0,460.2 851.5,460.2 852.0,460.2 852.5,460.2 853.0,460.1 853.5,460.0 854.0,459.9 854.5,459.9 855.0,459.9 855.5,459.9 856.0,459.9 856.5,459.9 857.0,459.9 857.5,460.0 858.0,460.1 858.5,460.1 859.0,460.1 859.5,460.2 860.0,460.2 860.5,460.2 861.0,460.3 861.5,460.3 862.0,460.4 862.5,460.5 863.0,460.6 863.5,460.7 864.0,460.8 864.5,461.0 865.0,461.1 865.5,461.2 866.0,461.2 866.5,461.3 867.0,461.4 867.5,461.4 868.0,461.3 868.5,461.3 869.0,461.2 869.5,461.0 870.0,460.9 870.5,460.8 871.0,460.7 871.5,460.6 872.0,460.5 872.5,460.5 873.0,460.4 873.5,460.5 874.0,460.5 874.5,460.5 875.0,460.5 875.5,460.5 876.0,460.5 876.5,460.6 877.0,460.5 877.5,460.5 878.0,460.5 878.5,460.5 879.0,460.4 879.5,460.4 880.0,460.3 880.5,460.3 881.0,460.3 881.5,460.4 882.0,460.4 882.5,460.5 883.0,460.6 883.5,460.7 884.0,460.9 884.5,461.0 885.0,461.0 885.5,461.1 886.0,461.0 886.5,460.9 887.0,460.8 887.5,460.7 888.0,460.6 888.5,460.4 889.0,460.4 889.5,460.3 890.0,460.3 890.5,460.3 891.0,460.3 891.5,460.3 892.0,460.3 892.5,460.2 893.0,460.2 893.5,460.2 894.0,460.1 894.5,460.1 895.0,460.1 895.5,460.1 896.0,460.2 896.5,460.3 897.0,460.4 897.5,460.6 898.0,460.7 898.5,460.8 899.0,460.9 899.5,461.0 900.0,461.0 900.5,460.9 901.0,460.9 901.5,460.9 902.0,460.8 902.5,460.9 903.0,460.9 903.5,460.9 904.0,460.9 904.5,461.0 905.0,461.1 905.5,461.3 906.0,461.5 906.5,461.7 907.0,461.9 907.5,462.1 908.0,462.2 908.5,462.3 909.0,462.4 909.5,462.3 910.0,462.2 910.5,462.0 911.0,461.8 911.5,461.6 912.0,461.3 912.5,461.1 913.0,461.0 913.5,460.8 914.0,460.7 914.5,460.6 915.0,460.5 915.5,460.5 916.0,460.4 916.5,460.4 917.0,460.3 917.5,460.2 918.0,460.1 918.5,460.0 919.0,460.0 919.5,460.0 920.0,460.0 920.5,460.0 921.0,460.0 921.5,460.1 922.0,460.2 922.5,460.3 923.0,460.4 923.5,460.5 924.0,460.5 924.5,460.6 925.0,460.6 925.5,460.6 926.0,460.5 926.5,460.4 927.0,460.2 927.5,460.0 928.0,459.7 928.5,459.4 929.0,459.0 929.5,458.6 930.0,458.2 930.5,457.7 931.0,457.3 931.5,456.8 932.0,456.4 932.5,455.9 933.0,455.5 933.5,455.0 934.0,454.6 934.5,454.1 935.0,453.6 935.5,453.1 936.0,452.6 936.5,452.0 937.0,451.4 937.5,450.9 938.0,450.3 938.5,449.7 939.0,449.2 939.5,448.6 940.0,448.2 940.5,447.8 941.0,447.4 941.5,447.1 942.0,446.9 942.5,446.7 943.0,446.7 943.5,446.7 944.0,446.8 944.5,446.9 945.0,447.2 945.5,447.6 946.0,448.0 946.5,448.4 947.0,448.8 947.5,449.2 948.0,449.6 948.5,449.9 949.0,450.2 949.5,450.5 950.0,450.8 950.5,451.1 951.0,451.4 951.5,451.7 952.0,452.2 952.5,452.6 953.0,453.1 953.5,453.6 954.0,454.2 954.5,454.7 955.0,455.2 955.5,455.6 956.0,456.0 956.5,456.3 957.0,456.5 957.5,456.7 958.0,456.9 958.5,457.1 959.0,457.2 959.5,457.4 960.0,457.5 960.5,457.6 961.0,457.8 961.5,458.0 962.0,458.2 962.5,458.4 963.0,458.5 963.5,458.7 964.0,458.9 964.5,459.1 965.0,459.3 965.5,459.4 966.0,459.6 966.5,459.7 967.0,459.7 967.5,459.7 968.0,459.6 968.5,459.5 969.0,459.4 969.5,459.2 970.0,459.0 970.5,458.7 971.0,458.5 971.5,458.4 972.0,458.3 972.5,458.3 973.0,458.3 973.5,458.3 974.0,458.4 974.5,458.4 975.0,458.5 975.5,458.6 976.0,458.6 976.5,458.6 977.0,458.6 977.5,458.6 978.0,458.6 978.5,458.5 979.0,458.4 979.5,458.3 980.0,458.1 980.5,458.0 981.0,458.0 981.5,457.9 982.0,457.8 982.5,457.7 983.0,457.6 983.5,457.5 984.0,457.5 984.5,457.4 985.0,457.3 985.5,457.2 986.0,457.1 986.5,457.0 987.0,457.0 987.5,456.9 988.0,456.9 988.5,456.9 989.0,457.0 989.5,457.0 990.0,457.1 990.5,457.2 991.0,457.2 991.5,457.3 992.0,457.4 992.5,457.4 993.0,457.3 993.5,457.3 994.0,457.3 994.5,457.3 995.0,457.3 995.5,457.2 996.0,457.2 996.5,457.1 997.0,457.0 997.5,456.9 998.0,456.7 998.5,456.5 999.0,456.4 999.5,456.2 1000.0,456.2 1000.5,456.1 1001.0,456.2 1001.5,456.3 1002.0,456.4 1002.5,456.5 1003.0,456.7 1003.5,456.9 1004.0,457.0 1004.5,457.1 1005.0,457.1 1005.5,457.1 1006.0,457.0 1006.5,456.9 1007.0,456.8 1007.5,456.6 1008.0,456.4 1008.5,456.3 1009.0,456.1 1009.5,455.9 1010.0,455.7 1010.5,455.6 1011.0,455.5 1011.5,455.4 1012.0,455.4 1012.5,455.5 1013.0,455.6 1013.5,455.8 1014.0,456.0 1014.5,456.2 1015.0,456.3 1015.5,456.4 1016.0,456.5 1016.5,456.6 1017.0,456.5 1017.5,456.4 1018.0,456.3 1018.5,456.2 1019.0,456.0 1019.5,455.9 1020.0,455.8 1020.5,455.7 1021.0,455.7 1021.5,455.7 1022.0,455.7 1022.5,455.8 1023.0,455.9 1023.5,456.0 1024.0,456.0 1024.5,456.1 1025.0,456.1 1025.5,456.0 1026.0,455.9 1026.5,455.9 1027.0,455.7 1027.5,455.6 1028.0,455.5 1028.5,455.4 1029.0,455.3 1029.5,455.3 1030.0,455.2 1030.5,455.2 1031.0,455.2 1031.5,455.2 1032.0,455.2 1032.5,455.2 1033.0,455.2 1033.5,455.1 1034.0,455.1 1034.5,455.0 1035.0,454.9 1035.5,454.8 1036.0,454.7 1036.5,454.6 1037.0,454.4 1037.5,454.2 1038.0,454.1 1038.5,453.9 1039.0,453.7 1039.5,453.5 1040.0,453.4 1040.5,453.2 1041.0,453.2 1041.5,453.2 1042.0,453.2 1042.5,453.2 1043.0,453.3 1043.5,453.3 1044.0,453.4 1044.5,453.4 1045.0,453.4 1045.5,453.5 1046.0,453.5 1046.5,453.5 1047.0,453.5 1047.5,453.5 1048.0,453.6 1048.5,453.6 1049.0,453.6 1049.5,453.5 1050.0,453.4 1050.5,453.3 1051.0,453.3 1051.5,453.2 1052.0,453.1 1052.5,453.0 1053.0,453.0 1053.5,452.9 1054.0,452.9 1054.5,452.9 1055.0,452.9 1055.5,452.9 1056.0,452.8 1056.5,452.7 1057.0,452.6 1057.5,452.5 1058.0,452.4 1058.5,452.3 1059.0,452.2 1059.5,452.1 1060.0,452.0 1060.5,451.9 1061.0,451.8 1061.5,451.7 1062.0,451.7 1062.5,451.6 1063.0,451.5 1063.5,451.5 1064.0,451.3 1064.5,451.3 1065.0,451.2 1065.5,451.1 1066.0,451.0 1066.5,450.8 1067.0,450.6 1067.5,450.4 1068.0,450.2 1068.5,450.1 1069.0,450.0 1069.5,449.8 1070.0,449.7 1070.5,449.6 1071.0,449.5 1071.5,449.6 1072.0,449.6 1072.5,449.7 1073.0,449.8 1073.5,449.9 1074.0,450.0 1074.5,450.1 1075.0,450.2 1075.5,450.1 1076.0,450.0 1076.5,449.7 1077.0,449.1 1077.5,448.0 1078.0,446.8 1078.5,445.0 1079.0,442.3 1079.5,438.6 1080.0,433.8 1080.5,427.8 1081.0,420.7 1081.5,412.9 1082.0,404.7 1082.5,396.7 1083.0,389.3 1083.5,383.0 1084.0,378.2 1084.5,375.0 1085.0,373.4 1085.5,373.0 1086.0,373.6 1086.5,375.4 1087.0,378.3 1087.5,382.3 1088.0,387.0 1088.5,392.3 1089.0,398.0 1089.5,403.9 1090.0,409.7 1090.5,415.3 1091.0,420.5 1091.5,425.3 1092.0,429.6 1092.5,433.3 1093.0,436.4 1093.5,439.1 1094.0,441.2 1094.5,443.0 1095.0,444.3 1095.5,445.3 1096.0,446.1 1096.5,446.8 1097.0,447.3 1097.5,447.7 1098.0,448.1 1098.5,448.3 1099.0,448.5 1099.5,448.6 1100.0,448.7 1100.5,448.7 1101.0,448.6 1101.5,448.5 1102.0,448.4 1102.5,448.2 1103.0,448.1 1103.5,448.1 1104.0,448.0 1104.5,447.9 1105.0,447.8 1105.5,447.7 1106.0,447.5 1106.5,447.3 1107.0,446.8 1107.5,446.2 1108.0,444.9 1108.5,443.0 1109.0,440.2 1109.5,436.5 1110.0,431.9 1110.5,426.9 1111.0,421.9 1111.5,417.2 1112.0,413.5 1112.5,410.8 1113.0,409.3 1113.5,408.7 1114.0,408.8 1114.5,409.5 1115.0,411.0 1115.5,413.1 1116.0,415.6 1116.5,418.4 1117.0,421.4 1117.5,424.5 1118.0,427.5 1118.5,430.4 1119.0,433.1 1119.5,435.5 1120.0,437.6 1120.5,439.4 1121.0,441.0 1121.5,442.3 1122.0,443.3 1122.5,444.1 1123.0,444.7 1123.5,445.2 1124.0,445.5 1124.5,445.7 1125.0,445.7 1125.5,445.6 1126.0,445.5 1126.5,445.4 1127.0,445.2 1127.5,445.0 1128.0,444.8 1128.5,444.5 1129.0,444.4 1129.5,444.1 1130.0,443.9 1130.5,443.8 1131.0,443.8 1131.5,443.7 1132.0,443.8 1132.5,444.0 1133.0,444.1 1133.5,444.3 1134.0,444.6 1134.5,444.8 1135.0,445.0 1135.5,445.2 1136.0,445.4 1136.5,445.6 1137.0,445.8 1137.5,446.0 1138.0,446.1 1138.5,446.2 1139.0,446.2 1139.5,446.3 1140.0,446.3 1140.5,446.3 1141.0,446.3 1141.5,446.3 1142.0,446.3 1142.5,446.2 1143.0,446.2 1143.5,446.1 1144.0,446.0 1144.5,445.9 1145.0,445.7 1145.5,445.6 1146.0,445.5 1146.5,445.4 1147.0,445.3 1147.5,445.2 1148.0,445.1 1148.5,445.1 1149.0,445.0 1149.5,445.0 1150.0,444.9 1150.5,444.8 1151.0,444.8 1151.5,444.7 1152.0,444.7 1152.5,444.6 1153.0,444.5 1153.5,444.4 1154.0,444.3 1154.5,444.2 1155.0,444.1 1155.5,444.1 1156.0,444.1 1156.5,444.1 1157.0,444.0 1157.5,444.1 1158.0,444.1 1158.5,444.2 1159.0,444.3 1159.5,444.2 1160.0,444.2 1160.5,444.1 1161.0,444.0 1161.5,443.9 1162.0,443.7 1162.5,443.5 1163.0,443.4 1163.5,443.2 1164.0,443.0 1164.5,442.8 1165.0,442.7 1165.5,442.6 1166.0,442.4 1166.5,442.3 1167.0,442.1 1167.5,442.0 1168.0,442.0 1168.5,442.0 1169.0,442.1 1169.5,442.2 1170.0,442.2 1170.5,442.4 1171.0,442.5 1171.5,442.6 1172.0,442.7 1172.5,442.8 1173.0,442.7 1173.5,442.7 1174.0,442.5 1174.5,442.3 1175.0,442.1 1175.5,441.8 1176.0,441.6 1176.5,441.3 1177.0,441.2 1177.5,441.0 1178.0,440.9 1178.5,441.0 1179.0,440.9 1179.5,441.0 1180.0,441.0 1180.5,441.1 1181.0,441.1 1181.5,441.1 1182.0,441.0 1182.5,441.0 1183.0,440.9 1183.5,440.8 1184.0,440.7 1184.5,440.6 1185.0,440.5 1185.5,440.3 1186.0,440.2 1186.5,440.2 1187.0,440.1 1187.5,440.2 1188.0,440.2 1188.5,440.3 1189.0,440.5 1189.5,440.6 1190.0,440.8 1190.5,440.9 1191.0,440.9 1191.5,441.0 1192.0,440.9 1192.5,440.9 1193.0,440.8 1193.5,440.7 1194.0,440.6 1194.5,440.6 1195.0,440.5 1195.5,440.4 1196.0,440.4 1196.5,440.4 1197.0,440.3 1197.5,440.2 1198.0,440.2 1198.5,440.2 1199.0,440.1 1199.5,440.0 1200.0,439.8 1200.5,439.7 1201.0,439.5 1201.5,439.3 1202.0,439.0 1202.5,438.9 1203.0,438.7 1203.5,438.6 1204.0,438.5 1204.5,438.6 1205.0,438.6 1205.5,438.7 1206.0,438.9 1206.5,439.0 1207.0,439.2 1207.5,439.3 1208.0,439.4 1208.5,439.5 1209.0,439.5 1209.5,439.6 1210.0,439.7 1210.5,439.8 1211.0,439.8 1211.5,439.9 1212.0,439.9 1212.5,439.9 1213.0,439.8 1213.5,439.7 1214.0,439.4 1214.5,439.2 1215.0,438.9 1215.5,438.6 1216.0,438.4 1216.5,438.2 1217.0,438.0 1217.5,438.0 1218.0,438.0 1218.5,438.0 1219.0,438.0 1219.5,438.0 1220.0,438.0 1220.5,438.0 1221.0,438.0 1221.5,438.0 1222.0,438.0 1222.5,438.0 1223.0,438.1 1223.5,438.3 1224.0,438.5 1224.5,438.6 1225.0,438.7 1225.5,438.9 1226.0,438.9 1226.5,438.9 1227.0,438.8 1227.5,438.7 1228.0,438.7 1228.5,438.6 1229.0,438.4 1229.5,438.2 1230.0,438.1 1230.5,438.0 1231.0,437.9 1231.5,437.7 1232.0,437.6 1232.5,437.4 1233.0,437.3 1233.5,437.1 1234.0,437.0 1234.5,436.9 1235.0,436.8 1235.5,436.7 1236.0,436.7 1236.5,436.7 1237.0,436.7 1237.5,436.7 1238.0,436.7 1238.5,436.7 1239.0,436.8 1239.5,436.7 1240.0,436.7 1240.5,436.6 1241.0,436.4 1241.5,436.1 1242.0,435.9 1242.5,435.6 1243.0,435.2 1243.5,434.8 1244.0,434.4 1244.5,434.1 1245.0,433.7 1245.5,433.4 1246.0,433.1 1246.5,432.8 1247.0,432.5 1247.5,432.3 1248.0,432.0 1248.5,431.8 1249.0,431.6 1249.5,431.4 1250.0,431.3 1250.5,431.1 1251.0,430.9 1251.5,430.5 1252.0,429.8 1252.5,428.3 1253.0,426.0 1253.5,422.5 1254.0,417.8 1254.5,411.6 1255.0,404.1 1255.5,395.4 1256.0,386.0 1256.5,376.2 1257.0,366.7 1257.5,358.0 1258.0,350.6 1258.5,344.9 1259.0,340.8 1259.5,338.5 1260.0,337.5 1260.5,337.8 1261.0,340.0 1261.5,343.6 1262.0,348.1 1262.5,353.3 1263.0,358.9 1263.5,364.7 1264.0,370.7 1264.5,376.6 1265.0,382.4 1265.5,387.9 1266.0,393.2 1266.5,398.0 1267.0,402.6 1267.5,406.7 1268.0,410.4 1268.5,413.8 1269.0,416.7 1269.5,419.3 1270.0,421.6 1270.5,423.6 1271.0,425.2 1271.5,426.7 1272.0,427.9 1272.5,428.9 1273.0,429.7 1273.5,430.4 1274.0,431.0 1274.5,431.4 1275.0,432.2 1275.5,432.5 1276.0,432.8 1276.5,432.9 1277.0,433.1 1277.5,433.2 1278.0,433.3 1278.5,433.3 1279.0,433.3 1279.5,433.3 1280.0,433.3 1280.5,433.3 1281.0,433.2 1281.5,433.1 1282.0,433.1 1282.5,433.1 1283.0,433.0 1283.5,433.1 1284.0,433.1 1284.5,433.2 1285.0,433.2 1285.5,433.2 1286.0,433.2 1286.5,433.0 1287.0,432.9 1287.5,432.8 1288.0,432.6 1288.5,432.5 1289.0,432.3 1289.5,432.2 1290.0,432.1 1290.5,432.0 1291.0,432.0 1291.5,432.1 1292.0,432.1 1292.5,432.1 1293.0,432.2 1293.5,432.2 1294.0,432.2 1294.5,432.2 1295.0,432.3 1295.5,432.3 1296.0,432.2 1296.5,432.2 1297.0,432.2 1297.5,432.1 1298.0,432.0 1298.5,431.9 1299.0,431.8 1299.5,431.7 1300.0,431.6 1300.5,431.5 1301.0,431.4 1301.5,431.4 1302.0,431.4 1302.5,431.4 1303.0,431.4 1303.5,431.4 1304.0,431.4 1304.5,431.4 1305.0,431.3 1305.5,431.3 1306.0,431.2 1306.5,431.2 1307.0,431.2 1307.5,431.2 1308.0,431.1 1308.5,431.1 1309.0,431.1 1309.5,431.1 1310.0,431.1 1310.5,431.1 1311.0,431.0 1311.5,431.0 1312.0,431.0 1312.5,431.0 1313.0,430.9 1313.5,430.9 1314.0,430.8 1314.5,430.7 1315.0,430.6 1315.5,430.4 1316.0,430.3 1316.5,430.3 1317.0,430.2 1317.5,430.1 1318.0,430.2 1318.5,430.3 1319.0,430.3 1319.5,430.5 1320.0,430.6 1320.5,430.6 1321.0,430.7 1321.5,430.7 1322.0,430.6 1322.5,430.5 1323.0,430.4 1323.5,430.2 1324.0,430.1 1324.5,430.1 1325.0,430.0 1325.5,430.1 1326.0,430.1 1326.5,430.2 1327.0,430.3 1327.5,430.4 1328.0,430.5 1328.5,430.5 1329.0,430.6 1329.5,430.6 1330.0,430.6 1330.5,430.6 1331.0,430.6 1331.5,430.6 1332.0,430.5 1332.5,430.5 1333.0,430.5 1333.5,430.5 1334.0,430.4 1334.5,430.3 1335.0,430.1 1335.5,429.9 1336.0,429.6 1336.5,429.4 1337.0,429.1 1337.5,428.9 1338.0,428.7 1338.5,428.4 1339.0,428.3 1339.5,428.3 1340.0,428.3 1340.5,428.4 1341.0,428.5 1341.5,428.6 1342.0,428.7 1342.5,428.8 1343.0,428.9 1343.5,428.9 1344.0,428.9 1344.5,428.8 1345.0,428.6 1345.5,428.3 1346.0,428.0 1346.5,427.7 1347.0,427.2 1347.5,426.7 1348.0,426.1 1348.5,425.4 1349.0,424.6 1349.5,423.7 1350.0,422.9 1350.5,422.0 1351.0,421.1 1351.5,420.3 1352.0,419.4 1352.5,418.7 1353.0,418.0 1353.5,417.4 1354.0,416.7 1354.5,415.9 1355.0,414.9 1355.5,413.7 1356.0,412.2 1356.5,410.5 1357.0,408.4 1357.5,406.2 1358.0,403.8 1358.5,401.6 1359.0,399.5 1359.5,397.8 1360.0,396.5 1360.5,395.9 1361.0,396.0 1361.5,397.0 1362.0,398.4 1362.5,400.1 1363.0,402.0 1363.5,403.9 1364.0,406.0 1364.5,408.0 1365.0,410.0 1365.5,411.8 1366.0,413.6 1366.5,415.2 1367.0,416.7 1367.5,418.1 1368.0,419.3 1368.5,420.4 1369.0,421.4 1369.5,422.2 1370.0,422.9 1370.5,423.6 1371.0,424.1 1371.5,424.5 1372.0,424.8 1372.5,425.1 1373.0,425.3 1373.5,425.5 1374.0,425.6 1374.5,425.2 1375.0,425.3 1375.5,425.4 1376.0,425.6 1376.5,425.8 1377.0,426.0 1377.5,426.1 1378.0,426.2 1378.5,426.3 1379.0,426.2 1379.5,426.2 1380.0,426.1 1380.5,425.9 1381.0,425.8 1381.5,425.6 1382.0,425.5 1382.5,425.4 1383.0,425.4 1383.5,425.4 1384.0,425.3 1384.5,425.3 1385.0,425.3 1385.5,425.3 1386.0,425.3 1386.5,425.3 1387.0,425.4 1387.5,425.4 1388.0,425.5 1388.5,425.6 1389.0,425.6 1389.5,425.7 1390.0,425.9 1390.5,426.0 1391.0,426.1 1391.5,426.2 1392.0,426.2 1392.5,426.2 1393.0,426.2 1393.5,426.2 1394.0,426.1 1394.5,426.0 1395.0,425.8 1395.5,425.7 1396.0,425.5 1396.5,425.4 1397.0,425.3 1397.5,425.2 1398.0,425.1 1398.5,425.0 1399.0,425.0 1399.5,424.9 1400.0,425.0 1400.5,425.0 1401.0,424.9 1401.5,424.9 1402.0,424.8 1402.5,424.8 1403.0,424.7 1403.5,424.6 1404.0,424.6 1404.5,424.4 1405.0,424.3 1405.5,424.2 1406.0,424.1 1406.5,424.1 1407.0,424.0 1407.5,424.0 1408.0,423.9 1408.5,423.9 1409.0,423.9 1409.5,423.9 1410.0,423.8 1410.5,423.7 1411.0,423.4 1411.5,423.1 1412.0,422.6 1412.5,421.9 1413.0,421.2 1413.5,420.2 1414.0,419.3 1414.5,418.3 1415.0,417.3 1415.5,416.3 1416.0,415.5 1416.5,414.7 1417.0,414.0 1417.5,413.3 1418.0,412.7 1418.5,412.0 1419.0,411.2 1419.5,410.1 1420.0,408.9 1420.5,407.3 1421.0,405.5 1421.5,403.6 1422.0,401.5 1422.5,399.7 1423.0,398.3 1423.5,397.7 1424.0,398.4 1424.5,399.7 1425.0,401.3 1425.5,403.1 1426.0,404.9 1426.5,406.6 1427.0,408.1 1427.5,409.5 1428.0,410.7 1428.5,411.8 1429.0,412.8 1429.5,413.7 1430.0,414.5 1430.5,415.4 1431.0,416.1 1431.5,416.9 1432.0,417.6 1432.5,418.3 1433.0,419.0 1433.5,419.6 1434.0,420.1 1434.5,420.6 1435.0,421.0 1435.5,421.4 1436.0,421.7 1436.5,421.9 1437.0,422.1 1437.5,422.3 1438.0,422.4 1438.5,422.5 1439.0,422.7 1439.5,422.8 1440.0,422.9 1440.5,423.0 1441.0,423.0 1441.5,423.1 1442.0,423.1 1442.5,423.1 1443.0,423.2 1443.5,423.3 1444.0,423.4 1444.5,423.5 1445.0,423.6 1445.5,423.6 1446.0,423.6 1446.5,423.6 1447.0,423.4 1447.5,423.3 1448.0,423.0 1448.5,422.8 1449.0,422.6 1449.5,422.4 1450.0,422.3 1450.5,422.2 1451.0,422.1 1451.5,422.2 1452.0,422.2 1452.5,422.4 1453.0,422.5 1453.5,422.6 1454.0,422.7 1454.5,422.8 1455.0,422.9 1455.5,422.9 1456.0,422.9 1456.5,422.9 1457.0,422.8 1457.5,422.7 1458.0,422.5 1458.5,422.2 1459.0,421.9 1459.5,421.6 1460.0,421.1 1460.5,420.6 1461.0,420.0 1461.5,419.4 1462.0,418.8 1462.5,418.1 1463.0,417.4 1463.5,416.7 1464.0,416.0 1464.5,415.4 1465.0,414.8 1465.5,414.3 1466.0,413.9 1466.5,413.5 1467.0,413.3 1467.5,413.0 1468.0,412.8 1468.5,412.5 1469.0,412.2 1469.5,411.8 1470.0,411.3 1470.5,410.6 1471.0,409.9 1471.5,409.2 1472.0,408.5 1472.5,407.9 1473.0,407.7 1473.5,407.9 1474.0,408.4 1474.5,409.0 1475.0,409.7 1475.5,410.3 1476.0,411.0 1476.5,411.7 1477.0,412.3 1477.5,412.9 1478.0,413.5 1478.5,413.9 1479.0,414.4 1479.5,414.9 1480.0,415.3 1480.5,415.8 1481.0,416.1 1481.5,416.6 1482.0,416.9 1482.5,417.3 1483.0,417.7 1483.5,418.0 1484.0,418.3 1484.5,418.6 1485.0,418.9 1485.5,419.1 1486.0,419.3 1486.5,419.4 1487.0,419.4 1487.5,419.3 1488.0,419.3 1488.5,419.2 1489.0,419.1 1489.5,419.0 1490.0,418.8 1490.5,418.7 1491.0,418.6 1491.5,418.5 1492.0,418.4 1492.5,418.4 1493.0,418.3 1493.5,418.1 1494.0,417.9 1494.5,417.8 1495.0,417.6 1495.5,417.5 1496.0,417.3 1496.5,417.1" fill="none" stroke="#4472C4" stroke-width="1.9" stroke-linejoin="round" stroke-linecap="round"/>
<line x1="165.90" y1="1130.40" x2="177.70" y2="1130.40" stroke="#c8c8c8" stroke-width="0.9"/>
<rect x="185.05" y="1110.58" width="17.50" height="20.92" fill="#FFD966"/>
<line x1="188.20" y1="1110.28" x2="199.40" y2="1110.28" stroke="#7f7f7f" stroke-width="1.0"/>
<rect x="207.05" y="869.15" width="17.50" height="262.35" fill="#A9D18E"/>
<line x1="210.20" y1="868.85" x2="221.40" y2="868.85" stroke="#7f7f7f" stroke-width="1.0"/>
<rect x="229.05" y="1073.50" width="17.50" height="58.00" fill="#FFCCFF"/>
<line x1="237.80" y1="1071.30" x2="237.80" y2="1075.70" stroke="#7f7f7f" stroke-width="1.0"/>
<line x1="232.20" y1="1071.30" x2="243.40" y2="1071.30" stroke="#7f7f7f" stroke-width="1.0"/>
<line x1="232.20" y1="1075.70" x2="243.40" y2="1075.70" stroke="#7f7f7f" stroke-width="1.0"/>
<rect x="251.05" y="790.24" width="17.50" height="341.26" fill="#8FAADC"/>
<line x1="259.80" y1="785.49" x2="259.80" y2="794.99" stroke="#7f7f7f" stroke-width="1.0"/>
<line x1="254.20" y1="785.49" x2="265.40" y2="785.49" stroke="#7f7f7f" stroke-width="1.0"/>
<line x1="254.20" y1="794.99" x2="265.40" y2="794.99" stroke="#7f7f7f" stroke-width="1.0"/>
<line x1="308.90" y1="1130.40" x2="320.70" y2="1130.40" stroke="#c8c8c8" stroke-width="0.9"/>
<rect x="328.05" y="1105.83" width="17.50" height="25.67" fill="#FFD966"/>
<line x1="331.20" y1="1105.53" x2="342.40" y2="1105.53" stroke="#7f7f7f" stroke-width="1.0"/>
<rect x="350.05" y="900.89" width="17.50" height="230.61" fill="#A9D18E"/>
<line x1="353.20" y1="900.59" x2="364.40" y2="900.59" stroke="#7f7f7f" stroke-width="1.0"/>
<rect x="372.05" y="1098.94" width="17.50" height="32.56" fill="#FFCCFF"/>
<line x1="375.20" y1="1098.34" x2="386.40" y2="1098.34" stroke="#7f7f7f" stroke-width="1.0"/>
<line x1="375.20" y1="1099.54" x2="386.40" y2="1099.54" stroke="#7f7f7f" stroke-width="1.0"/>
<rect x="394.05" y="842.65" width="17.50" height="288.85" fill="#8FAADC"/>
<line x1="402.80" y1="838.90" x2="402.80" y2="846.40" stroke="#7f7f7f" stroke-width="1.0"/>
<line x1="397.20" y1="838.90" x2="408.40" y2="838.90" stroke="#7f7f7f" stroke-width="1.0"/>
<line x1="397.20" y1="846.40" x2="408.40" y2="846.40" stroke="#7f7f7f" stroke-width="1.0"/>
<line x1="451.90" y1="1130.40" x2="463.70" y2="1130.40" stroke="#c8c8c8" stroke-width="0.9"/>
<rect x="471.05" y="1098.94" width="17.50" height="32.56" fill="#FFD966"/>
<line x1="474.20" y1="1098.44" x2="485.40" y2="1098.44" stroke="#7f7f7f" stroke-width="1.0"/>
<line x1="474.20" y1="1099.44" x2="485.40" y2="1099.44" stroke="#7f7f7f" stroke-width="1.0"/>
<rect x="493.05" y="1061.98" width="17.50" height="69.52" fill="#A9D18E"/>
<line x1="496.20" y1="1061.08" x2="507.40" y2="1061.08" stroke="#7f7f7f" stroke-width="1.0"/>
<line x1="496.20" y1="1062.88" x2="507.40" y2="1062.88" stroke="#7f7f7f" stroke-width="1.0"/>
<rect x="515.05" y="1115.69" width="17.50" height="15.81" fill="#FFCCFF"/>
<line x1="518.20" y1="1115.29" x2="529.40" y2="1115.29" stroke="#7f7f7f" stroke-width="1.0"/>
<rect x="537.05" y="1013.61" width="17.50" height="117.89" fill="#8FAADC"/>
<line x1="540.20" y1="1012.81" x2="551.40" y2="1012.81" stroke="#7f7f7f" stroke-width="1.0"/>
<line x1="540.20" y1="1014.41" x2="551.40" y2="1014.41" stroke="#7f7f7f" stroke-width="1.0"/>
<line x1="594.90" y1="1130.40" x2="606.70" y2="1130.40" stroke="#c8c8c8" stroke-width="0.9"/>
<rect x="614.05" y="1095.67" width="17.50" height="35.83" fill="#FFD966"/>
<line x1="622.80" y1="1090.42" x2="622.80" y2="1100.92" stroke="#7f7f7f" stroke-width="1.0"/>
<line x1="617.20" y1="1090.42" x2="628.40" y2="1090.42" stroke="#7f7f7f" stroke-width="1.0"/>
<line x1="617.20" y1="1100.92" x2="628.40" y2="1100.92" stroke="#7f7f7f" stroke-width="1.0"/>
<rect x="636.05" y="1007.19" width="17.50" height="124.31" fill="#A9D18E"/>
<line x1="644.80" y1="993.19" x2="644.80" y2="1021.19" stroke="#7f7f7f" stroke-width="1.0"/>
<line x1="639.20" y1="993.19" x2="650.40" y2="993.19" stroke="#7f7f7f" stroke-width="1.0"/>
<line x1="639.20" y1="1021.19" x2="650.40" y2="1021.19" stroke="#7f7f7f" stroke-width="1.0"/>
<rect x="658.05" y="1124.67" width="17.50" height="6.83" fill="#FFCCFF"/>
<line x1="661.20" y1="1124.17" x2="672.40" y2="1124.17" stroke="#7f7f7f" stroke-width="1.0"/>
<line x1="661.20" y1="1125.17" x2="672.40" y2="1125.17" stroke="#7f7f7f" stroke-width="1.0"/>
<rect x="680.05" y="964.47" width="17.50" height="167.03" fill="#8FAADC"/>
<line x1="688.80" y1="944.47" x2="688.80" y2="984.47" stroke="#7f7f7f" stroke-width="1.0"/>
<line x1="683.20" y1="944.47" x2="694.40" y2="944.47" stroke="#7f7f7f" stroke-width="1.0"/>
<line x1="683.20" y1="984.47" x2="694.40" y2="984.47" stroke="#7f7f7f" stroke-width="1.0"/>
<line x1="144.45" y1="714.90" x2="144.45" y2="1132.15" stroke="#000000" stroke-width="1.4"/>
<line x1="132.95" y1="1131.50" x2="716.50" y2="1131.50" stroke="#000000" stroke-width="1.15"/>
<text transform="translate(105.40 1140.10) scale(1.1800 1)" font-size="23.08" fill="#000">0</text>
<line x1="135.85" y1="1101.79" x2="144.45" y2="1101.79" stroke="#555" stroke-width="1.2"/>
<line x1="132.95" y1="1072.08" x2="144.45" y2="1072.08" stroke="#000000" stroke-width="1.3"/>
<clipPath id="k5"><rect x="-3.00" y="-27.70" width="63.76" height="25.21"/><rect x="5.67" y="-3.00" width="2.31" height="3.69"/><rect x="13.07" y="-3.00" width="5.03" height="12.23"/><rect x="15.70" y="-3.00" width="13.76" height="12.23"/><rect x="28.53" y="-3.00" width="13.76" height="12.23"/><rect x="41.37" y="-3.00" width="13.76" height="12.23"/></clipPath>
<text transform="translate(56.01 1080.68) scale(1.1800 1)" font-size="23.08" clip-path="url(#k5)" dx="0 -1.62 -1.48 0 0" fill="#000">1,000</text>
<line x1="135.85" y1="1042.37" x2="144.45" y2="1042.37" stroke="#555" stroke-width="1.2"/>
<line x1="132.95" y1="1012.66" x2="144.45" y2="1012.66" stroke="#000000" stroke-width="1.3"/>
<text transform="translate(56.01 1021.26) scale(1.1800 1)" font-size="23.08" dx="0 -1.62 -1.48 0 0" fill="#000">2,000</text>
<line x1="135.85" y1="982.95" x2="144.45" y2="982.95" stroke="#555" stroke-width="1.2"/>
<line x1="132.95" y1="953.24" x2="144.45" y2="953.24" stroke="#000000" stroke-width="1.3"/>
<text transform="translate(56.01 961.84) scale(1.1800 1)" font-size="23.08" dx="0 -1.62 -1.48 0 0" fill="#000">3,000</text>
<line x1="135.85" y1="923.52" x2="144.45" y2="923.52" stroke="#555" stroke-width="1.2"/>
<line x1="132.95" y1="893.81" x2="144.45" y2="893.81" stroke="#000000" stroke-width="1.3"/>
<text transform="translate(56.01 902.41) scale(1.1800 1)" font-size="23.08" dx="0 -1.62 -1.48 0 0" fill="#000">4,000</text>
<line x1="135.85" y1="864.10" x2="144.45" y2="864.10" stroke="#555" stroke-width="1.2"/>
<line x1="132.95" y1="834.39" x2="144.45" y2="834.39" stroke="#000000" stroke-width="1.3"/>
<text transform="translate(56.01 842.99) scale(1.1800 1)" font-size="23.08" dx="0 -1.62 -1.48 0 0" fill="#000">5,000</text>
<line x1="135.85" y1="804.68" x2="144.45" y2="804.68" stroke="#555" stroke-width="1.2"/>
<line x1="132.95" y1="774.97" x2="144.45" y2="774.97" stroke="#000000" stroke-width="1.3"/>
<text transform="translate(56.01 783.57) scale(1.1800 1)" font-size="23.08" dx="0 -1.62 -1.48 0 0" fill="#000">6,000</text>
<line x1="135.85" y1="745.26" x2="144.45" y2="745.26" stroke="#555" stroke-width="1.2"/>
<line x1="132.95" y1="715.55" x2="144.45" y2="715.55" stroke="#000000" stroke-width="1.3"/>
<text transform="translate(59.50 724.15) scale(1.1800 1)" font-size="23.08" dx="0 -5.36 -0.69 0 0" fill="#000">7,000</text>
<line x1="215.60" y1="1131.50" x2="215.60" y2="1143.30" stroke="#222" stroke-width="1.1"/>
<line x1="358.60" y1="1131.50" x2="358.60" y2="1143.30" stroke="#222" stroke-width="1.1"/>
<line x1="501.60" y1="1131.50" x2="501.60" y2="1143.30" stroke="#222" stroke-width="1.1"/>
<line x1="644.60" y1="1131.50" x2="644.60" y2="1143.30" stroke="#222" stroke-width="1.1"/>
<line x1="715.90" y1="1131.50" x2="715.90" y2="1143.30" stroke="#000000" stroke-width="1.2"/>
<text transform="translate(205.80 1094.78) rotate(-90) scale(0.9661 1)" font-size="29.68" fill="#000">352</text>
<clipPath id="k6"><rect x="-3.00" y="-34.92" width="78.83" height="31.78"/><rect x="-0.58" y="-3.78" width="17.35" height="15.43"/><rect x="13.57" y="-3.78" width="9.25" height="15.43"/><rect x="19.79" y="-3.78" width="17.35" height="15.43"/><rect x="43.70" y="-3.78" width="2.91" height="4.66"/><rect x="52.16" y="-3.78" width="17.35" height="15.43"/></clipPath>
<text transform="translate(228.10 852.11) rotate(-90) scale(0.9387 1)" font-size="29.10" clip-path="url(#k6)" dx="0 -2.04 -1.86 0 0" fill="#000">4,415</text>
<text transform="translate(249.40 1057.32) rotate(-90) scale(0.9537 1)" font-size="29.25" fill="#000">976</text>
<text transform="translate(271.90 774.11) rotate(-90) scale(0.9453 1)" font-size="29.25" dx="0 -2.05 -1.87 0 0" fill="#000">5,743</text>
<text transform="translate(348.60 1088.93) rotate(-90) scale(0.9694 1)" font-size="29.10" fill="#000">432</text>
<clipPath id="k7"><rect x="-3.00" y="-34.92" width="78.83" height="31.78"/><rect x="-0.58" y="-3.78" width="17.35" height="15.43"/><rect x="13.57" y="-3.78" width="9.25" height="15.43"/><rect x="19.79" y="-3.78" width="17.35" height="15.43"/><rect x="35.98" y="-3.78" width="17.35" height="15.43"/><rect x="59.89" y="-3.78" width="2.91" height="4.66"/></clipPath>
<text transform="translate(371.10 884.61) rotate(-90) scale(1.0146 1)" font-size="29.10" clip-path="url(#k7)" dx="0 -2.04 -1.86 0 0" fill="#000">3,881</text>
<text transform="translate(392.80 1082.12) rotate(-90) scale(0.9647 1)" font-size="29.10" fill="#000">548</text>
<clipPath id="k8"><rect x="-3.00" y="-34.92" width="78.83" height="31.78"/><rect x="-0.58" y="-3.78" width="17.35" height="15.43"/><rect x="13.57" y="-3.78" width="9.25" height="15.43"/><rect x="19.79" y="-3.78" width="17.35" height="15.43"/><rect x="35.98" y="-3.78" width="17.35" height="15.43"/><rect x="59.89" y="-3.78" width="2.91" height="4.66"/></clipPath>
<text transform="translate(414.60 825.47) rotate(-90) scale(1.0285 1)" font-size="29.10" clip-path="url(#k8)" dx="0 -2.04 -1.86 0 0" fill="#000">4,861</text>
<text transform="translate(487.10 1084.42) rotate(-90) scale(0.9603 1)" font-size="29.10" fill="#000">548</text>
<clipPath id="k9"><rect x="-3.00" y="-34.92" width="78.83" height="31.78"/><rect x="7.15" y="-3.78" width="2.91" height="4.66"/><rect x="16.48" y="-3.78" width="4.48" height="15.43"/><rect x="27.52" y="-3.78" width="2.91" height="4.66"/><rect x="35.98" y="-3.78" width="17.35" height="15.43"/><rect x="52.16" y="-3.78" width="17.35" height="15.43"/></clipPath>
<text transform="translate(514.30 1047.19) rotate(-90) scale(0.8651 1)" font-size="29.10" clip-path="url(#k9)" dx="0 -2.04 -1.86 0 0" fill="#000">1,170</text>
<text transform="translate(535.80 1099.91) rotate(-90) scale(0.9708 1)" font-size="29.10" fill="#000">266</text>
<clipPath id="k10"><rect x="-3.00" y="-34.92" width="78.83" height="31.78"/><rect x="7.15" y="-3.78" width="2.91" height="4.66"/><rect x="16.48" y="-3.78" width="6.34" height="15.43"/><rect x="19.79" y="-3.78" width="17.35" height="15.43"/><rect x="35.98" y="-3.78" width="17.35" height="15.43"/><rect x="52.16" y="-3.78" width="17.35" height="15.43"/></clipPath>
<text transform="translate(557.80 998.11) rotate(-90) scale(0.9659 1)" font-size="29.10" clip-path="url(#k10)" dx="0 -2.04 -1.86 0 0" fill="#000">1,984</text>
<text transform="translate(634.30 1078.79) rotate(-90) scale(1.0253 1)" font-size="29.10" fill="#000">603</text>
<text transform="translate(657.30 991.32) rotate(-90) scale(1.0421 1)" font-size="29.10" dx="0 -2.04 -1.86 0 0" fill="#000">2,092</text>
<clipPath id="k11"><rect x="-3.00" y="-34.92" width="52.40" height="31.78"/><rect x="7.15" y="-3.78" width="2.91" height="4.66"/><rect x="21.17" y="-3.78" width="2.91" height="4.66"/><rect x="29.63" y="-3.78" width="17.35" height="15.43"/></clipPath>
<text transform="translate(679.30 1110.31) rotate(-90) scale(0.8302 1)" font-size="29.10" clip-path="url(#k11)" fill="#000">115</text>
<clipPath id="k12"><rect x="-3.00" y="-34.92" width="76.67" height="31.78"/><rect x="-0.58" y="-3.78" width="17.35" height="15.43"/><rect x="13.57" y="-3.78" width="9.25" height="15.43"/><rect x="19.79" y="-3.78" width="17.35" height="15.43"/><rect x="43.70" y="-3.78" width="2.91" height="4.66"/><rect x="57.73" y="-3.78" width="2.91" height="4.66"/></clipPath>
<text transform="translate(700.80 932.92) rotate(-90) scale(0.9737 1)" font-size="29.10" clip-path="url(#k12)" dx="0 -2.04 -1.86 0 0" fill="#000">2,811</text>
<text transform="translate(22.00 1103.63) rotate(-90) scale(1.0795 1)" font-size="27.20" fill="#000">[Degradation products]<tspan x="271.63"> (µM)</tspan></text>
<text transform="translate(176.23 1176.60) scale(0.9123 1)" font-size="27.20" fill="#000">nPET</text>
<text transform="translate(238.66 1185.20) scale(0.9627 1)" font-size="17.45" fill="#000">GFa</text>
<text transform="translate(318.03 1176.60) scale(0.9123 1)" font-size="27.20" fill="#000">nPET</text>
<text transform="translate(380.40 1185.20) scale(1.0350 1)" font-size="17.45" fill="#000">GFc</text>
<text transform="translate(481.53 1176.60) scale(0.9123 1)" font-size="27.20" fill="#000">nPET</text>
<text transform="translate(543.61 1185.00) scale(1.0922 1)" font-size="19.16" fill="#000">c</text>
<text transform="translate(627.23 1176.60) scale(0.9092 1)" font-size="27.20" fill="#000">nPET</text>
<text transform="translate(688.86 1185.00) scale(1.1267 1)" font-size="19.72" fill="#000">b</text>
<rect x="951.65" y="1088.52" width="17.50" height="42.98" fill="#ED7D31"/>
<line x1="954.80" y1="1087.72" x2="966.00" y2="1087.72" stroke="#7f7f7f" stroke-width="1.0"/>
<line x1="954.80" y1="1089.32" x2="966.00" y2="1089.32" stroke="#7f7f7f" stroke-width="1.0"/>
<rect x="973.65" y="1015.03" width="17.50" height="116.47" fill="#FFD966"/>
<line x1="982.40" y1="1012.03" x2="982.40" y2="1018.03" stroke="#7f7f7f" stroke-width="1.0"/>
<line x1="976.80" y1="1012.03" x2="988.00" y2="1012.03" stroke="#7f7f7f" stroke-width="1.0"/>
<line x1="976.80" y1="1018.03" x2="988.00" y2="1018.03" stroke="#7f7f7f" stroke-width="1.0"/>
<rect x="995.65" y="1087.55" width="17.50" height="43.95" fill="#A9D18E"/>
<line x1="998.80" y1="1087.05" x2="1010.00" y2="1087.05" stroke="#7f7f7f" stroke-width="1.0"/>
<line x1="998.80" y1="1088.05" x2="1010.00" y2="1088.05" stroke="#7f7f7f" stroke-width="1.0"/>
<rect x="1017.65" y="1012.95" width="17.50" height="118.55" fill="#FFCCFF"/>
<line x1="1026.40" y1="1010.65" x2="1026.40" y2="1015.25" stroke="#7f7f7f" stroke-width="1.0"/>
<line x1="1020.80" y1="1010.65" x2="1032.00" y2="1010.65" stroke="#7f7f7f" stroke-width="1.0"/>
<line x1="1020.80" y1="1015.25" x2="1032.00" y2="1015.25" stroke="#7f7f7f" stroke-width="1.0"/>
<rect x="1039.65" y="809.83" width="17.50" height="321.67" fill="#8FAADC"/>
<line x1="1048.40" y1="804.23" x2="1048.40" y2="815.43" stroke="#7f7f7f" stroke-width="1.0"/>
<line x1="1042.80" y1="804.23" x2="1054.00" y2="804.23" stroke="#7f7f7f" stroke-width="1.0"/>
<line x1="1042.80" y1="815.43" x2="1054.00" y2="815.43" stroke="#7f7f7f" stroke-width="1.0"/>
<rect x="1094.85" y="1105.16" width="17.50" height="26.34" fill="#ED7D31"/>
<line x1="1098.00" y1="1104.36" x2="1109.20" y2="1104.36" stroke="#7f7f7f" stroke-width="1.0"/>
<line x1="1098.00" y1="1105.96" x2="1109.20" y2="1105.96" stroke="#7f7f7f" stroke-width="1.0"/>
<rect x="1116.85" y="1045.54" width="17.50" height="85.96" fill="#FFD966"/>
<line x1="1120.00" y1="1044.54" x2="1131.20" y2="1044.54" stroke="#7f7f7f" stroke-width="1.0"/>
<line x1="1120.00" y1="1046.54" x2="1131.20" y2="1046.54" stroke="#7f7f7f" stroke-width="1.0"/>
<rect x="1138.85" y="1097.53" width="17.50" height="33.97" fill="#A9D18E"/>
<line x1="1142.00" y1="1096.53" x2="1153.20" y2="1096.53" stroke="#7f7f7f" stroke-width="1.0"/>
<line x1="1142.00" y1="1098.53" x2="1153.20" y2="1098.53" stroke="#7f7f7f" stroke-width="1.0"/>
<rect x="1160.85" y="1015.45" width="17.50" height="116.05" fill="#FFCCFF"/>
<line x1="1169.60" y1="1010.45" x2="1169.60" y2="1020.45" stroke="#7f7f7f" stroke-width="1.0"/>
<line x1="1164.00" y1="1010.45" x2="1175.20" y2="1010.45" stroke="#7f7f7f" stroke-width="1.0"/>
<line x1="1164.00" y1="1020.45" x2="1175.20" y2="1020.45" stroke="#7f7f7f" stroke-width="1.0"/>
<rect x="1182.85" y="868.06" width="17.50" height="263.44" fill="#8FAADC"/>
<line x1="1191.60" y1="859.56" x2="1191.60" y2="876.56" stroke="#7f7f7f" stroke-width="1.0"/>
<line x1="1186.00" y1="859.56" x2="1197.20" y2="859.56" stroke="#7f7f7f" stroke-width="1.0"/>
<line x1="1186.00" y1="876.56" x2="1197.20" y2="876.56" stroke="#7f7f7f" stroke-width="1.0"/>
<rect x="1237.95" y="1116.66" width="17.50" height="14.84" fill="#ED7D31"/>
<line x1="1241.10" y1="1115.96" x2="1252.30" y2="1115.96" stroke="#7f7f7f" stroke-width="1.0"/>
<line x1="1241.10" y1="1117.36" x2="1252.30" y2="1117.36" stroke="#7f7f7f" stroke-width="1.0"/>
<rect x="1259.95" y="1072.30" width="17.50" height="59.20" fill="#FFD966"/>
<line x1="1263.10" y1="1071.80" x2="1274.30" y2="1071.80" stroke="#7f7f7f" stroke-width="1.0"/>
<line x1="1263.10" y1="1072.80" x2="1274.30" y2="1072.80" stroke="#7f7f7f" stroke-width="1.0"/>
<rect x="1281.95" y="1107.65" width="17.50" height="23.85" fill="#A9D18E"/>
<line x1="1285.10" y1="1107.15" x2="1296.30" y2="1107.15" stroke="#7f7f7f" stroke-width="1.0"/>
<line x1="1285.10" y1="1108.15" x2="1296.30" y2="1108.15" stroke="#7f7f7f" stroke-width="1.0"/>
<rect x="1303.95" y="1021.27" width="17.50" height="110.23" fill="#FFCCFF"/>
<line x1="1307.10" y1="1020.77" x2="1318.30" y2="1020.77" stroke="#7f7f7f" stroke-width="1.0"/>
<line x1="1307.10" y1="1021.77" x2="1318.30" y2="1021.77" stroke="#7f7f7f" stroke-width="1.0"/>
<rect x="1325.95" y="923.52" width="17.50" height="207.98" fill="#8FAADC"/>
<line x1="1334.70" y1="920.77" x2="1334.70" y2="926.27" stroke="#7f7f7f" stroke-width="1.0"/>
<line x1="1329.10" y1="920.77" x2="1340.30" y2="920.77" stroke="#7f7f7f" stroke-width="1.0"/>
<line x1="1329.10" y1="926.27" x2="1340.30" y2="926.27" stroke="#7f7f7f" stroke-width="1.0"/>
<rect x="1381.15" y="1080.34" width="17.50" height="51.16" fill="#ED7D31"/>
<line x1="1384.30" y1="1079.84" x2="1395.50" y2="1079.84" stroke="#7f7f7f" stroke-width="1.0"/>
<line x1="1384.30" y1="1080.84" x2="1395.50" y2="1080.84" stroke="#7f7f7f" stroke-width="1.0"/>
<rect x="1403.15" y="984.95" width="17.50" height="146.55" fill="#FFD966"/>
<line x1="1411.90" y1="977.35" x2="1411.90" y2="992.55" stroke="#7f7f7f" stroke-width="1.0"/>
<line x1="1406.30" y1="977.35" x2="1417.50" y2="977.35" stroke="#7f7f7f" stroke-width="1.0"/>
<line x1="1406.30" y1="992.55" x2="1417.50" y2="992.55" stroke="#7f7f7f" stroke-width="1.0"/>
<rect x="1425.15" y="1082.56" width="17.50" height="48.94" fill="#A9D18E"/>
<line x1="1433.90" y1="1079.56" x2="1433.90" y2="1085.56" stroke="#7f7f7f" stroke-width="1.0"/>
<line x1="1428.30" y1="1079.56" x2="1439.50" y2="1079.56" stroke="#7f7f7f" stroke-width="1.0"/>
<line x1="1428.30" y1="1085.56" x2="1439.50" y2="1085.56" stroke="#7f7f7f" stroke-width="1.0"/>
<rect x="1447.15" y="1008.93" width="17.50" height="122.57" fill="#FFCCFF"/>
<line x1="1455.90" y1="1002.73" x2="1455.90" y2="1015.13" stroke="#7f7f7f" stroke-width="1.0"/>
<line x1="1450.30" y1="1002.73" x2="1461.50" y2="1002.73" stroke="#7f7f7f" stroke-width="1.0"/>
<line x1="1450.30" y1="1015.13" x2="1461.50" y2="1015.13" stroke="#7f7f7f" stroke-width="1.0"/>
<rect x="1469.15" y="762.69" width="17.50" height="368.81" fill="#8FAADC"/>
<line x1="1477.90" y1="745.69" x2="1477.90" y2="779.69" stroke="#7f7f7f" stroke-width="1.0"/>
<line x1="1472.30" y1="745.69" x2="1483.50" y2="745.69" stroke="#7f7f7f" stroke-width="1.0"/>
<line x1="1472.30" y1="779.69" x2="1483.50" y2="779.69" stroke="#7f7f7f" stroke-width="1.0"/>
<line x1="932.50" y1="714.90" x2="932.50" y2="1132.15" stroke="#000000" stroke-width="1.4"/>
<line x1="921.00" y1="1131.50" x2="1506.50" y2="1131.50" stroke="#000000" stroke-width="1.15"/>
<text transform="translate(893.88 1140.10) scale(1.1400 1)" font-size="23.08" fill="#000">0</text>
<line x1="923.90" y1="1096.84" x2="932.50" y2="1096.84" stroke="#555" stroke-width="1.2"/>
<line x1="921.00" y1="1062.17" x2="932.50" y2="1062.17" stroke="#000000" stroke-width="1.3"/>
<text transform="translate(864.61 1070.77) scale(1.1400 1)" font-size="23.08" fill="#000">500</text>
<line x1="923.90" y1="1027.51" x2="932.50" y2="1027.51" stroke="#555" stroke-width="1.2"/>
<line x1="921.00" y1="992.85" x2="932.50" y2="992.85" stroke="#000000" stroke-width="1.3"/>
<clipPath id="k13"><rect x="-3.00" y="-27.70" width="63.76" height="25.21"/><rect x="5.67" y="-3.00" width="2.31" height="3.69"/><rect x="13.07" y="-3.00" width="5.03" height="12.23"/><rect x="15.70" y="-3.00" width="13.76" height="12.23"/><rect x="28.53" y="-3.00" width="13.76" height="12.23"/><rect x="41.37" y="-3.00" width="13.76" height="12.23"/></clipPath>
<text transform="translate(846.16 1001.45) scale(1.1400 1)" font-size="23.08" clip-path="url(#k13)" dx="0 -1.62 -1.48 0 0" fill="#000">1,000</text>
<line x1="923.90" y1="958.19" x2="932.50" y2="958.19" stroke="#555" stroke-width="1.2"/>
<line x1="921.00" y1="923.52" x2="932.50" y2="923.52" stroke="#000000" stroke-width="1.3"/>
<clipPath id="k14"><rect x="-3.00" y="-27.70" width="63.76" height="25.21"/><rect x="5.67" y="-3.00" width="2.31" height="3.69"/><rect x="13.07" y="-3.00" width="5.03" height="12.23"/><rect x="15.70" y="-3.00" width="13.76" height="12.23"/><rect x="28.53" y="-3.00" width="13.76" height="12.23"/><rect x="41.37" y="-3.00" width="13.76" height="12.23"/></clipPath>
<text transform="translate(846.16 932.12) scale(1.1400 1)" font-size="23.08" clip-path="url(#k14)" dx="0 -1.62 -1.48 0 0" fill="#000">1,500</text>
<line x1="923.90" y1="888.86" x2="932.50" y2="888.86" stroke="#555" stroke-width="1.2"/>
<line x1="921.00" y1="854.20" x2="932.50" y2="854.20" stroke="#000000" stroke-width="1.3"/>
<text transform="translate(846.16 862.80) scale(1.1400 1)" font-size="23.08" dx="0 -1.62 -1.48 0 0" fill="#000">2,000</text>
<line x1="923.90" y1="819.54" x2="932.50" y2="819.54" stroke="#555" stroke-width="1.2"/>
<line x1="921.00" y1="784.88" x2="932.50" y2="784.88" stroke="#000000" stroke-width="1.3"/>
<text transform="translate(846.16 793.48) scale(1.1400 1)" font-size="23.08" dx="0 -1.62 -1.48 0 0" fill="#000">2,500</text>
<line x1="923.90" y1="750.21" x2="932.50" y2="750.21" stroke="#555" stroke-width="1.2"/>
<line x1="921.00" y1="715.55" x2="932.50" y2="715.55" stroke="#000000" stroke-width="1.3"/>
<text transform="translate(846.16 724.15) scale(1.1400 1)" font-size="23.08" dx="0 -1.62 -1.48 0 0" fill="#000">3,000</text>
<line x1="1004.20" y1="1131.50" x2="1004.20" y2="1143.30" stroke="#222" stroke-width="1.1"/>
<line x1="1147.40" y1="1131.50" x2="1147.40" y2="1143.30" stroke="#222" stroke-width="1.1"/>
<line x1="1290.50" y1="1131.50" x2="1290.50" y2="1143.30" stroke="#222" stroke-width="1.1"/>
<line x1="1433.70" y1="1131.50" x2="1433.70" y2="1143.30" stroke="#222" stroke-width="1.1"/>
<line x1="1505.90" y1="1131.50" x2="1505.90" y2="1143.30" stroke="#000000" stroke-width="1.2"/>
<clipPath id="k15"><rect x="-3.00" y="-35.44" width="55.28" height="32.25"/><rect x="-0.59" y="-3.84" width="17.61" height="15.65"/><rect x="23.68" y="-3.84" width="2.95" height="4.73"/><rect x="32.26" y="-3.84" width="17.61" height="15.65"/></clipPath>
<text transform="translate(972.10 1072.02) rotate(-90) scale(0.9185 1)" font-size="29.53" clip-path="url(#k15)" fill="#000">310</text>
<text transform="translate(994.40 997.76) rotate(-90) scale(1.0123 1)" font-size="29.25" fill="#000">840</text>
<clipPath id="k16"><rect x="-3.00" y="-35.10" width="54.80" height="31.94"/><rect x="-0.58" y="-3.80" width="17.44" height="15.50"/><rect x="23.45" y="-3.80" width="2.92" height="4.68"/><rect x="31.95" y="-3.80" width="17.44" height="15.50"/></clipPath>
<text transform="translate(1016.90 1071.97) rotate(-90) scale(0.8807 1)" font-size="29.25" clip-path="url(#k16)" fill="#000">317</text>
<text transform="translate(1038.90 995.69) rotate(-90) scale(0.9535 1)" font-size="29.25" fill="#000">855</text>
<text transform="translate(1061.10 793.81) rotate(-90) scale(1.0213 1)" font-size="29.53" dx="0 -2.07 -1.89 0 0" fill="#000">2,320</text>
<clipPath id="k17"><rect x="-3.00" y="-34.92" width="54.56" height="31.78"/><rect x="7.15" y="-3.78" width="2.91" height="4.66"/><rect x="15.60" y="-3.78" width="17.35" height="15.43"/><rect x="31.79" y="-3.78" width="17.35" height="15.43"/></clipPath>
<text transform="translate(1115.60 1090.65) rotate(-90) scale(0.9833 1)" font-size="29.10" clip-path="url(#k17)" fill="#000">190</text>
<text transform="translate(1137.90 1028.97) rotate(-90) scale(1.0063 1)" font-size="29.25" fill="#000">620</text>
<text transform="translate(1160.40 1082.41) rotate(-90) scale(0.9671 1)" font-size="29.10" fill="#000">245</text>
<text transform="translate(1182.10 998.89) rotate(-90) scale(0.9690 1)" font-size="28.96" fill="#000">837</text>
<clipPath id="k18"><rect x="-3.00" y="-35.10" width="79.19" height="31.94"/><rect x="7.18" y="-3.80" width="2.92" height="4.68"/><rect x="16.56" y="-3.80" width="6.37" height="15.50"/><rect x="19.89" y="-3.80" width="17.44" height="15.50"/><rect x="36.15" y="-3.80" width="17.44" height="15.50"/><rect x="52.42" y="-3.80" width="17.44" height="15.50"/></clipPath>
<text transform="translate(1204.40 852.25) rotate(-90) scale(1.0276 1)" font-size="29.25" clip-path="url(#k18)" dx="0 -2.05 -1.87 0 0" fill="#000">1,900</text>
<clipPath id="k19"><rect x="-3.00" y="-35.27" width="55.04" height="32.09"/><rect x="7.22" y="-3.82" width="2.94" height="4.70"/><rect x="15.76" y="-3.82" width="17.52" height="15.58"/><rect x="32.10" y="-3.82" width="17.52" height="15.58"/></clipPath>
<text transform="translate(1258.40 1101.81) rotate(-90) scale(0.9132 1)" font-size="29.39" clip-path="url(#k19)" fill="#000">107</text>
<text transform="translate(1280.80 1055.22) rotate(-90) scale(0.9457 1)" font-size="29.10" fill="#000">427</text>
<clipPath id="k20"><rect x="-3.00" y="-34.92" width="54.56" height="31.78"/><rect x="7.15" y="-3.78" width="2.91" height="4.66"/><rect x="15.60" y="-3.78" width="17.35" height="15.43"/><rect x="31.79" y="-3.78" width="17.35" height="15.43"/></clipPath>
<text transform="translate(1302.70 1095.49) rotate(-90) scale(0.9111 1)" font-size="29.10" clip-path="url(#k20)" fill="#000">172</text>
<text transform="translate(1324.80 1004.66) rotate(-90) scale(0.9577 1)" font-size="29.10" fill="#000">795</text>
<clipPath id="k21"><rect x="-3.00" y="-34.92" width="78.83" height="31.78"/><rect x="7.15" y="-3.78" width="2.91" height="4.66"/><rect x="16.48" y="-3.78" width="6.34" height="15.43"/><rect x="19.79" y="-3.78" width="17.35" height="15.43"/><rect x="35.98" y="-3.78" width="17.35" height="15.43"/><rect x="52.16" y="-3.78" width="17.35" height="15.43"/></clipPath>
<text transform="translate(1346.80 908.25) rotate(-90) scale(1.0326 1)" font-size="29.10" clip-path="url(#k21)" dx="0 -2.04 -1.86 0 0" fill="#000">1,500</text>
<text transform="translate(1401.90 1063.29) rotate(-90) scale(0.9923 1)" font-size="29.25" fill="#000">369</text>
<clipPath id="k22"><rect x="-3.00" y="-35.27" width="79.55" height="32.09"/><rect x="7.22" y="-3.82" width="2.94" height="4.70"/><rect x="16.64" y="-3.82" width="6.40" height="15.58"/><rect x="19.99" y="-3.82" width="17.52" height="15.58"/><rect x="36.33" y="-3.82" width="17.52" height="15.58"/><rect x="52.68" y="-3.82" width="17.52" height="15.58"/></clipPath>
<text transform="translate(1424.10 970.61) rotate(-90) scale(0.9585 1)" font-size="29.39" clip-path="url(#k22)" dx="0 -2.06 -1.88 0 0" fill="#000">1,057</text>
<text transform="translate(1446.50 1066.45) rotate(-90) scale(0.9653 1)" font-size="29.10" fill="#000">353</text>
<text transform="translate(1468.30 991.80) rotate(-90) scale(0.9700 1)" font-size="29.10" fill="#000">884</text>
<text transform="translate(1486.10 742.33) rotate(-90) scale(1.0391 1)" font-size="29.53" dx="0 -2.07 -1.89 0 0" fill="#000">2,660</text>
<text transform="translate(811.00 1103.63) rotate(-90) scale(1.0795 1)" font-size="27.20" fill="#000">[Degradation products]<tspan x="271.63"> (µM)</tspan></text>
<text transform="translate(955.54 1176.60) scale(0.9046 1)" font-size="27.20" fill="#000">nPET</text>
<text transform="translate(1017.45 1185.20) scale(0.9687 1)" font-size="17.45" fill="#000">GFa</text>
<text transform="translate(1096.43 1176.60) scale(0.9092 1)" font-size="27.20" fill="#000">nPET</text>
<text transform="translate(1158.60 1185.20) scale(1.0319 1)" font-size="17.45" fill="#000">GFc</text>
<text transform="translate(1260.23 1176.60) scale(0.9092 1)" font-size="27.20" fill="#000">nPET</text>
<text transform="translate(1322.11 1185.00) scale(1.0922 1)" font-size="19.16" fill="#000">c</text>
<text transform="translate(1406.23 1176.60) scale(0.9107 1)" font-size="27.20" fill="#000">nPET</text>
<text transform="translate(1467.70 1185.00) scale(1.0140 1)" font-size="19.72" fill="#000">b</text>
</svg>
</body>
</html>
